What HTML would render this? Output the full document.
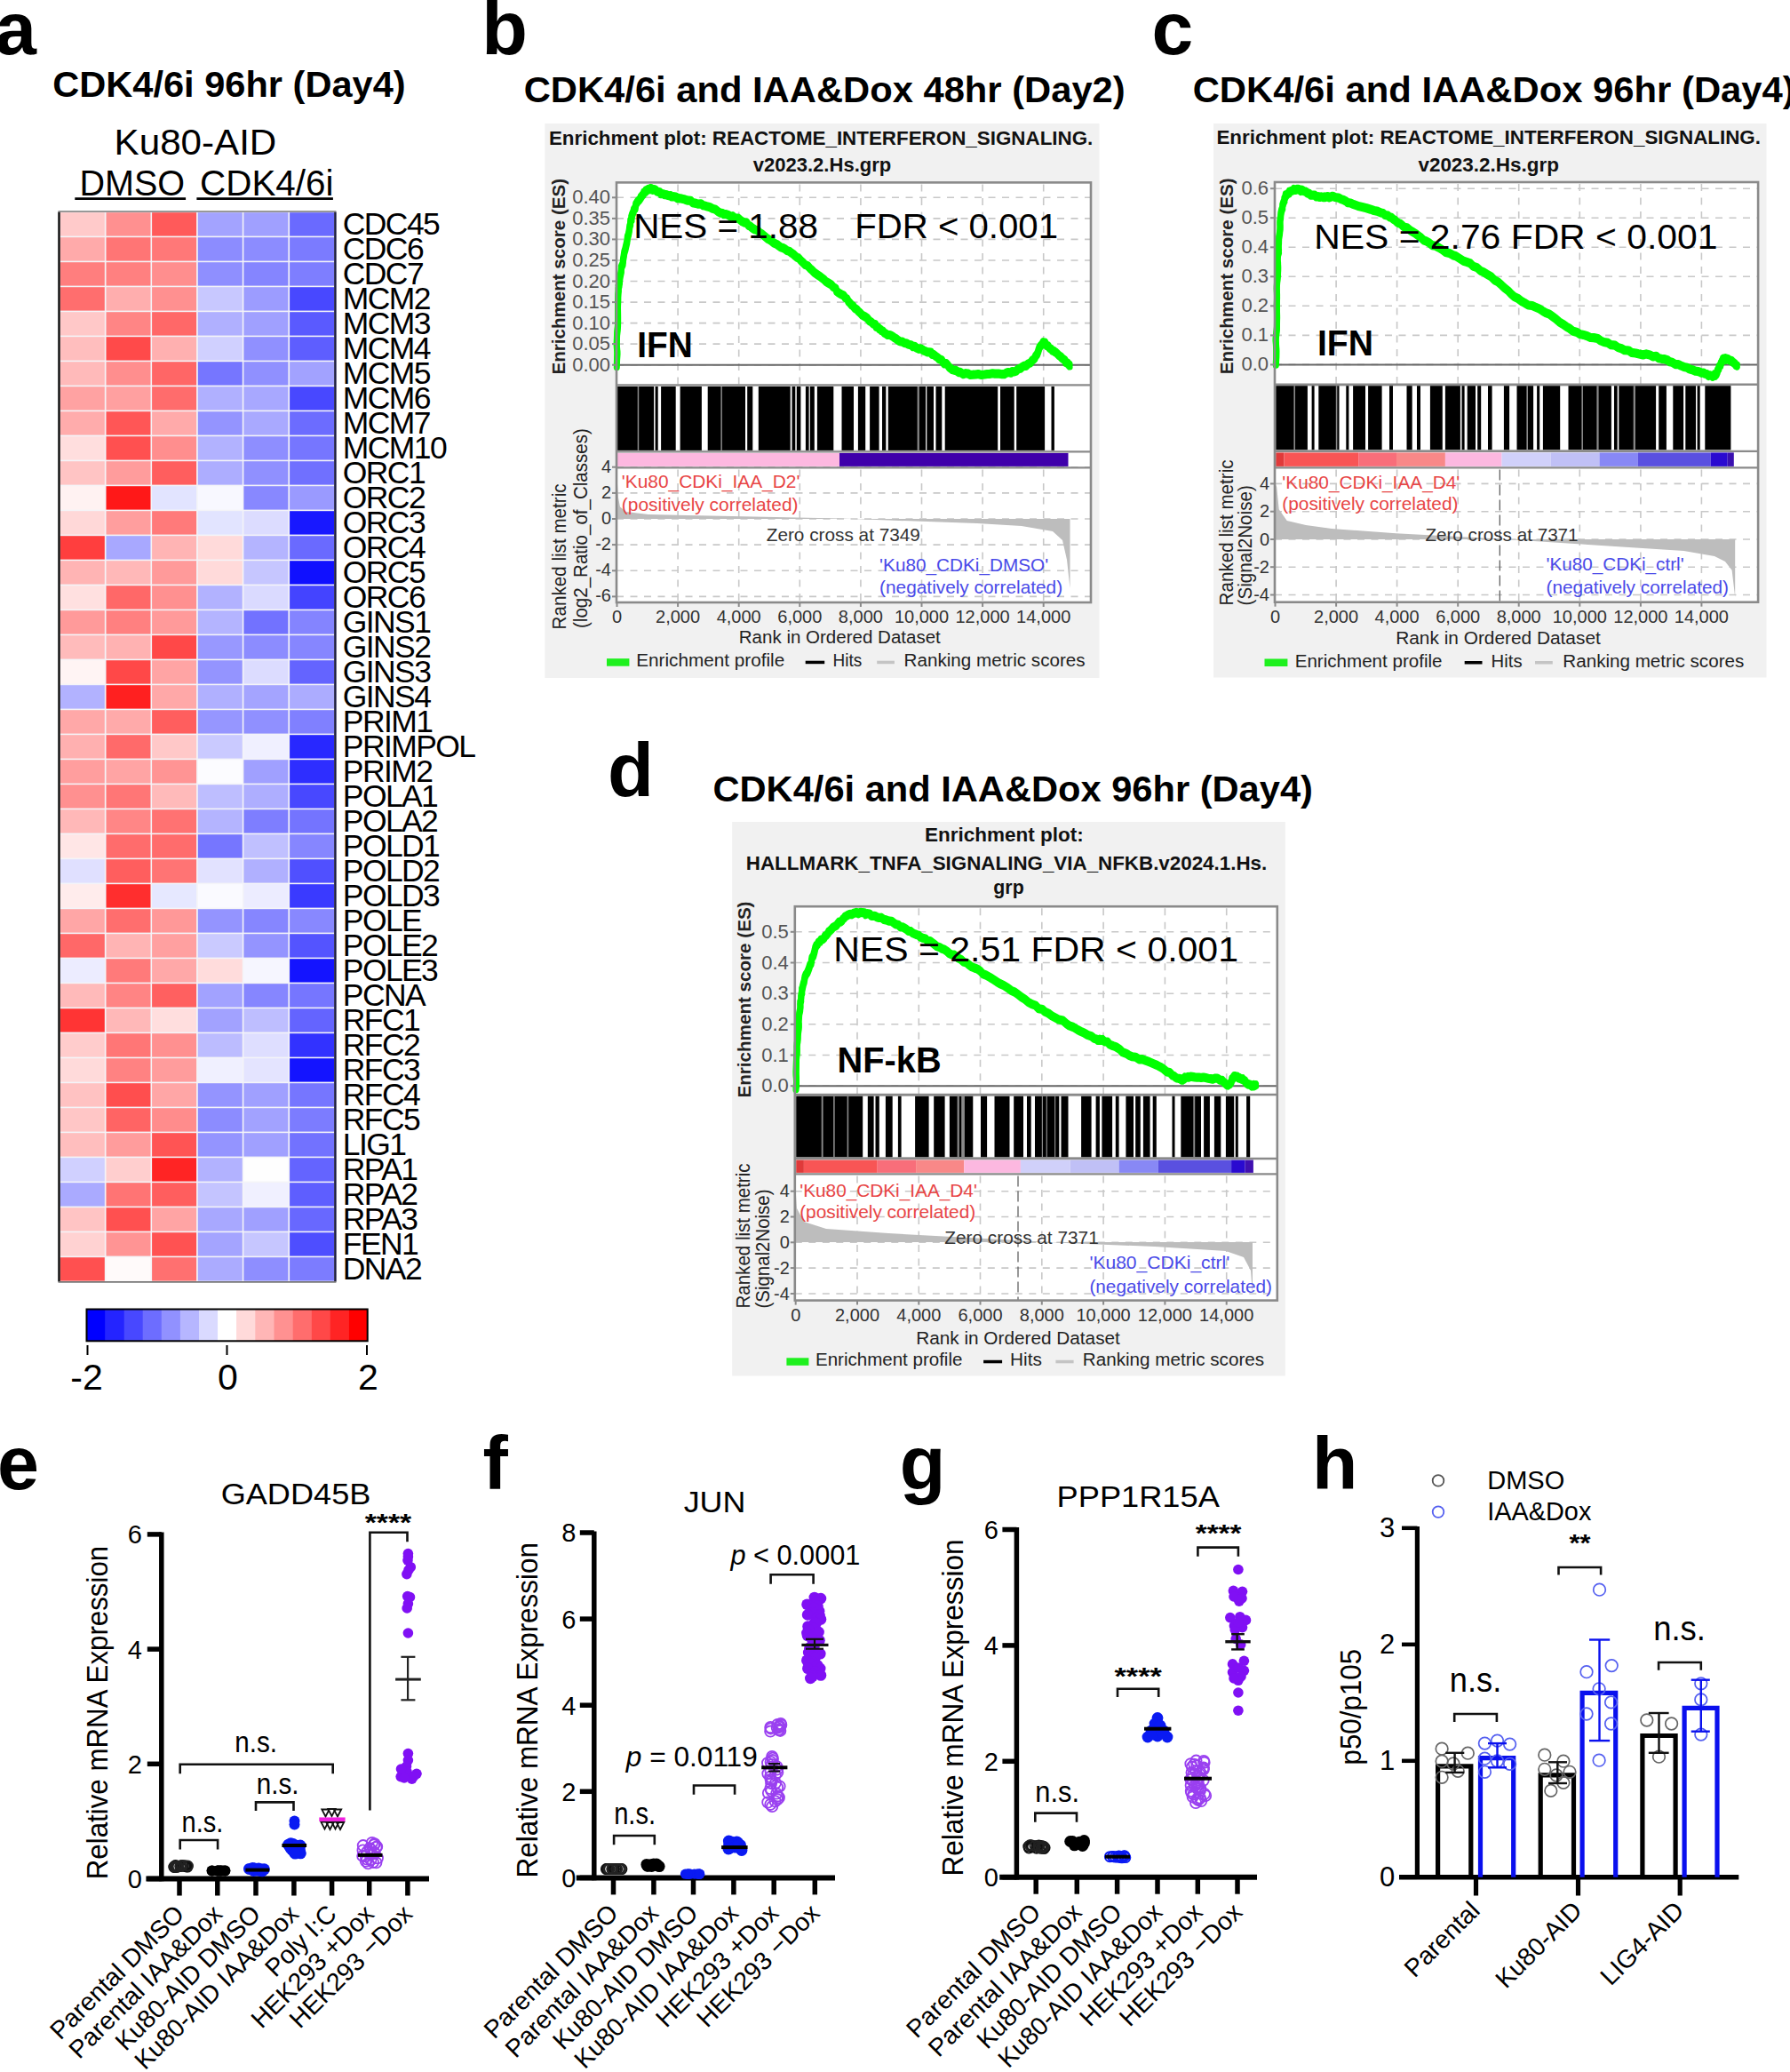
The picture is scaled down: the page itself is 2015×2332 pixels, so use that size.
<!DOCTYPE html>
<html><head><meta charset="utf-8"><title>Figure</title>
<style>html,body{margin:0;padding:0;background:#fff;} svg{display:block;}</style>
</head><body>
<svg width="2015" height="2332" viewBox="0 0 2015 2332" font-family="'Liberation Sans', sans-serif">
<rect width="2015" height="2332" fill="#FFFFFF"/>
<text x="-5.8" y="61.1" font-size="84" font-weight="bold">a</text>
<text x="59.3" y="108.7" font-size="41" font-weight="bold" textLength="397.3" lengthAdjust="spacingAndGlyphs">CDK4/6i 96hr (Day4)</text>
<text x="128.6" y="173.7" font-size="41.4" textLength="182.7" lengthAdjust="spacingAndGlyphs">Ku80-AID</text>
<text x="89.5" y="220.2" font-size="41.4" textLength="118.6" lengthAdjust="spacingAndGlyphs">DMSO</text>
<text x="225.1" y="220.2" font-size="41.4" textLength="150.4" lengthAdjust="spacingAndGlyphs">CDK4/6i</text>
<line x1="84.3" y1="223.6" x2="209.1" y2="223.6" stroke="#000" stroke-width="2.8" />
<line x1="221.4" y1="223.6" x2="374.9" y2="223.6" stroke="#000" stroke-width="2.8" />
<rect x="67.0" y="238.4" width="309.9" height="1204.0" fill="#F4F4F8" />
<rect x="67.8" y="239.2" width="50.0" height="26.4" fill="#FFCACA" />
<rect x="119.5" y="239.2" width="50.0" height="26.4" fill="#FF9090" />
<rect x="171.1" y="239.2" width="50.0" height="26.4" fill="#FF5A5A" />
<rect x="222.8" y="239.2" width="50.0" height="26.4" fill="#A3A3FF" />
<rect x="274.4" y="239.2" width="50.0" height="26.4" fill="#A0A0FF" />
<rect x="326.1" y="239.2" width="50.0" height="26.4" fill="#6A6AFF" />
<rect x="67.8" y="267.2" width="50.0" height="26.4" fill="#FFAAAA" />
<rect x="119.5" y="267.2" width="50.0" height="26.4" fill="#FF7575" />
<rect x="171.1" y="267.2" width="50.0" height="26.4" fill="#FF7878" />
<rect x="222.8" y="267.2" width="50.0" height="26.4" fill="#8C8CFF" />
<rect x="274.4" y="267.2" width="50.0" height="26.4" fill="#8C8CFF" />
<rect x="326.1" y="267.2" width="50.0" height="26.4" fill="#7B7BFF" />
<rect x="67.8" y="295.2" width="50.0" height="26.4" fill="#FF7E7E" />
<rect x="119.5" y="295.2" width="50.0" height="26.4" fill="#FF8080" />
<rect x="171.1" y="295.2" width="50.0" height="26.4" fill="#FF8E8E" />
<rect x="222.8" y="295.2" width="50.0" height="26.4" fill="#8F8FFF" />
<rect x="274.4" y="295.2" width="50.0" height="26.4" fill="#8585FF" />
<rect x="326.1" y="295.2" width="50.0" height="26.4" fill="#7E7EFF" />
<rect x="67.8" y="323.2" width="50.0" height="26.4" fill="#FF6E6E" />
<rect x="119.5" y="323.2" width="50.0" height="26.4" fill="#FFAEAE" />
<rect x="171.1" y="323.2" width="50.0" height="26.4" fill="#FF9090" />
<rect x="222.8" y="323.2" width="50.0" height="26.4" fill="#C8C8FF" />
<rect x="274.4" y="323.2" width="50.0" height="26.4" fill="#9C9CFF" />
<rect x="326.1" y="323.2" width="50.0" height="26.4" fill="#4848FF" />
<rect x="67.8" y="351.2" width="50.0" height="26.4" fill="#FFC8C8" />
<rect x="119.5" y="351.2" width="50.0" height="26.4" fill="#FF8585" />
<rect x="171.1" y="351.2" width="50.0" height="26.4" fill="#FF6868" />
<rect x="222.8" y="351.2" width="50.0" height="26.4" fill="#B0B0FF" />
<rect x="274.4" y="351.2" width="50.0" height="26.4" fill="#A0A0FF" />
<rect x="326.1" y="351.2" width="50.0" height="26.4" fill="#5A5AFF" />
<rect x="67.8" y="379.2" width="50.0" height="26.4" fill="#FFBEBE" />
<rect x="119.5" y="379.2" width="50.0" height="26.4" fill="#FF4A4A" />
<rect x="171.1" y="379.2" width="50.0" height="26.4" fill="#FFB0B0" />
<rect x="222.8" y="379.2" width="50.0" height="26.4" fill="#D0D0FF" />
<rect x="274.4" y="379.2" width="50.0" height="26.4" fill="#9090FF" />
<rect x="326.1" y="379.2" width="50.0" height="26.4" fill="#5E5EFF" />
<rect x="67.8" y="407.2" width="50.0" height="26.4" fill="#FFBABA" />
<rect x="119.5" y="407.2" width="50.0" height="26.4" fill="#FF8E8E" />
<rect x="171.1" y="407.2" width="50.0" height="26.4" fill="#FF6666" />
<rect x="222.8" y="407.2" width="50.0" height="26.4" fill="#7676FF" />
<rect x="274.4" y="407.2" width="50.0" height="26.4" fill="#9090FF" />
<rect x="326.1" y="407.2" width="50.0" height="26.4" fill="#A2A2FF" />
<rect x="67.8" y="435.2" width="50.0" height="26.4" fill="#FFA2A2" />
<rect x="119.5" y="435.2" width="50.0" height="26.4" fill="#FFA0A0" />
<rect x="171.1" y="435.2" width="50.0" height="26.4" fill="#FF6C6C" />
<rect x="222.8" y="435.2" width="50.0" height="26.4" fill="#B0B0FF" />
<rect x="274.4" y="435.2" width="50.0" height="26.4" fill="#A8A8FF" />
<rect x="326.1" y="435.2" width="50.0" height="26.4" fill="#4848FF" />
<rect x="67.8" y="463.2" width="50.0" height="26.4" fill="#FFACAC" />
<rect x="119.5" y="463.2" width="50.0" height="26.4" fill="#FF5656" />
<rect x="171.1" y="463.2" width="50.0" height="26.4" fill="#FFAAAA" />
<rect x="222.8" y="463.2" width="50.0" height="26.4" fill="#9494FF" />
<rect x="274.4" y="463.2" width="50.0" height="26.4" fill="#A9A9FF" />
<rect x="326.1" y="463.2" width="50.0" height="26.4" fill="#6C6CFF" />
<rect x="67.8" y="491.2" width="50.0" height="26.4" fill="#FFDEDE" />
<rect x="119.5" y="491.2" width="50.0" height="26.4" fill="#FF5050" />
<rect x="171.1" y="491.2" width="50.0" height="26.4" fill="#FF8E8E" />
<rect x="222.8" y="491.2" width="50.0" height="26.4" fill="#B2B2FF" />
<rect x="274.4" y="491.2" width="50.0" height="26.4" fill="#8E8EFF" />
<rect x="326.1" y="491.2" width="50.0" height="26.4" fill="#7676FF" />
<rect x="67.8" y="519.2" width="50.0" height="26.4" fill="#FFC4C4" />
<rect x="119.5" y="519.2" width="50.0" height="26.4" fill="#FF9C9C" />
<rect x="171.1" y="519.2" width="50.0" height="26.4" fill="#FF5E5E" />
<rect x="222.8" y="519.2" width="50.0" height="26.4" fill="#ADADFF" />
<rect x="274.4" y="519.2" width="50.0" height="26.4" fill="#9090FF" />
<rect x="326.1" y="519.2" width="50.0" height="26.4" fill="#7070FF" />
<rect x="67.8" y="547.2" width="50.0" height="26.4" fill="#FFF2F2" />
<rect x="119.5" y="547.2" width="50.0" height="26.4" fill="#FF1818" />
<rect x="171.1" y="547.2" width="50.0" height="26.4" fill="#E2E4FF" />
<rect x="222.8" y="547.2" width="50.0" height="26.4" fill="#F8F8FF" />
<rect x="274.4" y="547.2" width="50.0" height="26.4" fill="#8888FF" />
<rect x="326.1" y="547.2" width="50.0" height="26.4" fill="#9A9AFF" />
<rect x="67.8" y="575.2" width="50.0" height="26.4" fill="#FFD8D8" />
<rect x="119.5" y="575.2" width="50.0" height="26.4" fill="#FF9E9E" />
<rect x="171.1" y="575.2" width="50.0" height="26.4" fill="#FF7A7A" />
<rect x="222.8" y="575.2" width="50.0" height="26.4" fill="#E2E4FF" />
<rect x="274.4" y="575.2" width="50.0" height="26.4" fill="#DCDCFF" />
<rect x="326.1" y="575.2" width="50.0" height="26.4" fill="#1818FF" />
<rect x="67.8" y="603.2" width="50.0" height="26.4" fill="#FF3E3E" />
<rect x="119.5" y="603.2" width="50.0" height="26.4" fill="#A8A8FF" />
<rect x="171.1" y="603.2" width="50.0" height="26.4" fill="#FFB4B4" />
<rect x="222.8" y="603.2" width="50.0" height="26.4" fill="#FFDADA" />
<rect x="274.4" y="603.2" width="50.0" height="26.4" fill="#B4B4FF" />
<rect x="326.1" y="603.2" width="50.0" height="26.4" fill="#6A6AFF" />
<rect x="67.8" y="631.2" width="50.0" height="26.4" fill="#FFB4B4" />
<rect x="119.5" y="631.2" width="50.0" height="26.4" fill="#FFB8B8" />
<rect x="171.1" y="631.2" width="50.0" height="26.4" fill="#FF9A9A" />
<rect x="222.8" y="631.2" width="50.0" height="26.4" fill="#FFDADA" />
<rect x="274.4" y="631.2" width="50.0" height="26.4" fill="#C6C6FF" />
<rect x="326.1" y="631.2" width="50.0" height="26.4" fill="#1010FF" />
<rect x="67.8" y="659.2" width="50.0" height="26.4" fill="#FFE0E0" />
<rect x="119.5" y="659.2" width="50.0" height="26.4" fill="#FF6868" />
<rect x="171.1" y="659.2" width="50.0" height="26.4" fill="#FF9090" />
<rect x="222.8" y="659.2" width="50.0" height="26.4" fill="#B2B2FF" />
<rect x="274.4" y="659.2" width="50.0" height="26.4" fill="#DADAFF" />
<rect x="326.1" y="659.2" width="50.0" height="26.4" fill="#4444FF" />
<rect x="67.8" y="687.2" width="50.0" height="26.4" fill="#FF9A9A" />
<rect x="119.5" y="687.2" width="50.0" height="26.4" fill="#FF8080" />
<rect x="171.1" y="687.2" width="50.0" height="26.4" fill="#FF9A9A" />
<rect x="222.8" y="687.2" width="50.0" height="26.4" fill="#B4B4FF" />
<rect x="274.4" y="687.2" width="50.0" height="26.4" fill="#7272FF" />
<rect x="326.1" y="687.2" width="50.0" height="26.4" fill="#8484FF" />
<rect x="67.8" y="715.2" width="50.0" height="26.4" fill="#FFBBBB" />
<rect x="119.5" y="715.2" width="50.0" height="26.4" fill="#FFB2B2" />
<rect x="171.1" y="715.2" width="50.0" height="26.4" fill="#FF4848" />
<rect x="222.8" y="715.2" width="50.0" height="26.4" fill="#9898FF" />
<rect x="274.4" y="715.2" width="50.0" height="26.4" fill="#8C8CFF" />
<rect x="326.1" y="715.2" width="50.0" height="26.4" fill="#8686FF" />
<rect x="67.8" y="743.2" width="50.0" height="26.4" fill="#FFF4F4" />
<rect x="119.5" y="743.2" width="50.0" height="26.4" fill="#FF4848" />
<rect x="171.1" y="743.2" width="50.0" height="26.4" fill="#FFA4A4" />
<rect x="222.8" y="743.2" width="50.0" height="26.4" fill="#9494FF" />
<rect x="274.4" y="743.2" width="50.0" height="26.4" fill="#DCDCFF" />
<rect x="326.1" y="743.2" width="50.0" height="26.4" fill="#6464FF" />
<rect x="67.8" y="771.2" width="50.0" height="26.4" fill="#B2B2FF" />
<rect x="119.5" y="771.2" width="50.0" height="26.4" fill="#FF2020" />
<rect x="171.1" y="771.2" width="50.0" height="26.4" fill="#FFA8A8" />
<rect x="222.8" y="771.2" width="50.0" height="26.4" fill="#B0B0FF" />
<rect x="274.4" y="771.2" width="50.0" height="26.4" fill="#A4A4FF" />
<rect x="326.1" y="771.2" width="50.0" height="26.4" fill="#ACACFF" />
<rect x="67.8" y="799.2" width="50.0" height="26.4" fill="#FFA8A8" />
<rect x="119.5" y="799.2" width="50.0" height="26.4" fill="#FFAAAA" />
<rect x="171.1" y="799.2" width="50.0" height="26.4" fill="#FF5E5E" />
<rect x="222.8" y="799.2" width="50.0" height="26.4" fill="#9696FF" />
<rect x="274.4" y="799.2" width="50.0" height="26.4" fill="#9090FF" />
<rect x="326.1" y="799.2" width="50.0" height="26.4" fill="#8080FF" />
<rect x="67.8" y="827.2" width="50.0" height="26.4" fill="#FFB0B0" />
<rect x="119.5" y="827.2" width="50.0" height="26.4" fill="#FF6A6A" />
<rect x="171.1" y="827.2" width="50.0" height="26.4" fill="#FFC8C8" />
<rect x="222.8" y="827.2" width="50.0" height="26.4" fill="#CACAFF" />
<rect x="274.4" y="827.2" width="50.0" height="26.4" fill="#F0F0FF" />
<rect x="326.1" y="827.2" width="50.0" height="26.4" fill="#2828FF" />
<rect x="67.8" y="855.2" width="50.0" height="26.4" fill="#FF9E9E" />
<rect x="119.5" y="855.2" width="50.0" height="26.4" fill="#FFA4A4" />
<rect x="171.1" y="855.2" width="50.0" height="26.4" fill="#FF9494" />
<rect x="222.8" y="855.2" width="50.0" height="26.4" fill="#FCFCFF" />
<rect x="274.4" y="855.2" width="50.0" height="26.4" fill="#A0A0FF" />
<rect x="326.1" y="855.2" width="50.0" height="26.4" fill="#2E2EFF" />
<rect x="67.8" y="883.2" width="50.0" height="26.4" fill="#FF9090" />
<rect x="119.5" y="883.2" width="50.0" height="26.4" fill="#FF7676" />
<rect x="171.1" y="883.2" width="50.0" height="26.4" fill="#FFBABA" />
<rect x="222.8" y="883.2" width="50.0" height="26.4" fill="#BEBEFF" />
<rect x="274.4" y="883.2" width="50.0" height="26.4" fill="#AEAEFF" />
<rect x="326.1" y="883.2" width="50.0" height="26.4" fill="#4848FF" />
<rect x="67.8" y="911.2" width="50.0" height="26.4" fill="#FFB8B8" />
<rect x="119.5" y="911.2" width="50.0" height="26.4" fill="#FF8686" />
<rect x="171.1" y="911.2" width="50.0" height="26.4" fill="#FF7272" />
<rect x="222.8" y="911.2" width="50.0" height="26.4" fill="#B4B4FF" />
<rect x="274.4" y="911.2" width="50.0" height="26.4" fill="#7E7EFF" />
<rect x="326.1" y="911.2" width="50.0" height="26.4" fill="#7474FF" />
<rect x="67.8" y="939.2" width="50.0" height="26.4" fill="#FFE6E6" />
<rect x="119.5" y="939.2" width="50.0" height="26.4" fill="#FF6C6C" />
<rect x="171.1" y="939.2" width="50.0" height="26.4" fill="#FF6C6C" />
<rect x="222.8" y="939.2" width="50.0" height="26.4" fill="#7676FF" />
<rect x="274.4" y="939.2" width="50.0" height="26.4" fill="#C0C0FF" />
<rect x="326.1" y="939.2" width="50.0" height="26.4" fill="#8686FF" />
<rect x="67.8" y="967.2" width="50.0" height="26.4" fill="#E0E0FF" />
<rect x="119.5" y="967.2" width="50.0" height="26.4" fill="#FF5E5E" />
<rect x="171.1" y="967.2" width="50.0" height="26.4" fill="#FF7474" />
<rect x="222.8" y="967.2" width="50.0" height="26.4" fill="#E2E2FF" />
<rect x="274.4" y="967.2" width="50.0" height="26.4" fill="#B0B0FF" />
<rect x="326.1" y="967.2" width="50.0" height="26.4" fill="#5050FF" />
<rect x="67.8" y="995.2" width="50.0" height="26.4" fill="#FFECEC" />
<rect x="119.5" y="995.2" width="50.0" height="26.4" fill="#FF2E2E" />
<rect x="171.1" y="995.2" width="50.0" height="26.4" fill="#E6E8FF" />
<rect x="222.8" y="995.2" width="50.0" height="26.4" fill="#FAFAFF" />
<rect x="274.4" y="995.2" width="50.0" height="26.4" fill="#ECECFF" />
<rect x="326.1" y="995.2" width="50.0" height="26.4" fill="#3A3AFF" />
<rect x="67.8" y="1023.2" width="50.0" height="26.4" fill="#FFA6A6" />
<rect x="119.5" y="1023.2" width="50.0" height="26.4" fill="#FF6E6E" />
<rect x="171.1" y="1023.2" width="50.0" height="26.4" fill="#FF9898" />
<rect x="222.8" y="1023.2" width="50.0" height="26.4" fill="#9494FF" />
<rect x="274.4" y="1023.2" width="50.0" height="26.4" fill="#8686FF" />
<rect x="326.1" y="1023.2" width="50.0" height="26.4" fill="#8888FF" />
<rect x="67.8" y="1051.2" width="50.0" height="26.4" fill="#FF6868" />
<rect x="119.5" y="1051.2" width="50.0" height="26.4" fill="#FFB4B4" />
<rect x="171.1" y="1051.2" width="50.0" height="26.4" fill="#FFA0A0" />
<rect x="222.8" y="1051.2" width="50.0" height="26.4" fill="#CACAFF" />
<rect x="274.4" y="1051.2" width="50.0" height="26.4" fill="#9494FF" />
<rect x="326.1" y="1051.2" width="50.0" height="26.4" fill="#5454FF" />
<rect x="67.8" y="1079.2" width="50.0" height="26.4" fill="#ECECFF" />
<rect x="119.5" y="1079.2" width="50.0" height="26.4" fill="#FF7A7A" />
<rect x="171.1" y="1079.2" width="50.0" height="26.4" fill="#FFA8A8" />
<rect x="222.8" y="1079.2" width="50.0" height="26.4" fill="#FFDCDC" />
<rect x="274.4" y="1079.2" width="50.0" height="26.4" fill="#F6F6FF" />
<rect x="326.1" y="1079.2" width="50.0" height="26.4" fill="#1414FF" />
<rect x="67.8" y="1107.2" width="50.0" height="26.4" fill="#FFBABA" />
<rect x="119.5" y="1107.2" width="50.0" height="26.4" fill="#FF8484" />
<rect x="171.1" y="1107.2" width="50.0" height="26.4" fill="#FF6060" />
<rect x="222.8" y="1107.2" width="50.0" height="26.4" fill="#A2A2FF" />
<rect x="274.4" y="1107.2" width="50.0" height="26.4" fill="#8686FF" />
<rect x="326.1" y="1107.2" width="50.0" height="26.4" fill="#7676FF" />
<rect x="67.8" y="1135.2" width="50.0" height="26.4" fill="#FF3434" />
<rect x="119.5" y="1135.2" width="50.0" height="26.4" fill="#FFB8B8" />
<rect x="171.1" y="1135.2" width="50.0" height="26.4" fill="#FFDEDE" />
<rect x="222.8" y="1135.2" width="50.0" height="26.4" fill="#A2A2FF" />
<rect x="274.4" y="1135.2" width="50.0" height="26.4" fill="#BEBEFF" />
<rect x="326.1" y="1135.2" width="50.0" height="26.4" fill="#6464FF" />
<rect x="67.8" y="1163.2" width="50.0" height="26.4" fill="#FFCCCC" />
<rect x="119.5" y="1163.2" width="50.0" height="26.4" fill="#FF7676" />
<rect x="171.1" y="1163.2" width="50.0" height="26.4" fill="#FF9090" />
<rect x="222.8" y="1163.2" width="50.0" height="26.4" fill="#BCBCFF" />
<rect x="274.4" y="1163.2" width="50.0" height="26.4" fill="#DEDEFF" />
<rect x="326.1" y="1163.2" width="50.0" height="26.4" fill="#3232FF" />
<rect x="67.8" y="1191.2" width="50.0" height="26.4" fill="#FFDADA" />
<rect x="119.5" y="1191.2" width="50.0" height="26.4" fill="#FF8282" />
<rect x="171.1" y="1191.2" width="50.0" height="26.4" fill="#FF9C9C" />
<rect x="222.8" y="1191.2" width="50.0" height="26.4" fill="#F0F0FF" />
<rect x="274.4" y="1191.2" width="50.0" height="26.4" fill="#E4E4FF" />
<rect x="326.1" y="1191.2" width="50.0" height="26.4" fill="#1414FF" />
<rect x="67.8" y="1219.2" width="50.0" height="26.4" fill="#FFC2C2" />
<rect x="119.5" y="1219.2" width="50.0" height="26.4" fill="#FF4E4E" />
<rect x="171.1" y="1219.2" width="50.0" height="26.4" fill="#FFA6A6" />
<rect x="222.8" y="1219.2" width="50.0" height="26.4" fill="#9494FF" />
<rect x="274.4" y="1219.2" width="50.0" height="26.4" fill="#A0A0FF" />
<rect x="326.1" y="1219.2" width="50.0" height="26.4" fill="#7676FF" />
<rect x="67.8" y="1247.2" width="50.0" height="26.4" fill="#FFC6C6" />
<rect x="119.5" y="1247.2" width="50.0" height="26.4" fill="#FF6464" />
<rect x="171.1" y="1247.2" width="50.0" height="26.4" fill="#FF8C8C" />
<rect x="222.8" y="1247.2" width="50.0" height="26.4" fill="#8C8CFF" />
<rect x="274.4" y="1247.2" width="50.0" height="26.4" fill="#A2A2FF" />
<rect x="326.1" y="1247.2" width="50.0" height="26.4" fill="#7C7CFF" />
<rect x="67.8" y="1275.2" width="50.0" height="26.4" fill="#FFBEBE" />
<rect x="119.5" y="1275.2" width="50.0" height="26.4" fill="#FF9C9C" />
<rect x="171.1" y="1275.2" width="50.0" height="26.4" fill="#FF5454" />
<rect x="222.8" y="1275.2" width="50.0" height="26.4" fill="#9494FF" />
<rect x="274.4" y="1275.2" width="50.0" height="26.4" fill="#A0A0FF" />
<rect x="326.1" y="1275.2" width="50.0" height="26.4" fill="#7272FF" />
<rect x="67.8" y="1303.2" width="50.0" height="26.4" fill="#D0D0FF" />
<rect x="119.5" y="1303.2" width="50.0" height="26.4" fill="#FFCECE" />
<rect x="171.1" y="1303.2" width="50.0" height="26.4" fill="#FF2424" />
<rect x="222.8" y="1303.2" width="50.0" height="26.4" fill="#B2B2FF" />
<rect x="274.4" y="1303.2" width="50.0" height="26.4" fill="#FEFEFE" />
<rect x="326.1" y="1303.2" width="50.0" height="26.4" fill="#6464FF" />
<rect x="67.8" y="1331.2" width="50.0" height="26.4" fill="#AAAAFF" />
<rect x="119.5" y="1331.2" width="50.0" height="26.4" fill="#FF7474" />
<rect x="171.1" y="1331.2" width="50.0" height="26.4" fill="#FF5E5E" />
<rect x="222.8" y="1331.2" width="50.0" height="26.4" fill="#C4C4FF" />
<rect x="274.4" y="1331.2" width="50.0" height="26.4" fill="#F0F0FF" />
<rect x="326.1" y="1331.2" width="50.0" height="26.4" fill="#5E5EFF" />
<rect x="67.8" y="1359.2" width="50.0" height="26.4" fill="#FFC4C4" />
<rect x="119.5" y="1359.2" width="50.0" height="26.4" fill="#FF5050" />
<rect x="171.1" y="1359.2" width="50.0" height="26.4" fill="#FFA4A4" />
<rect x="222.8" y="1359.2" width="50.0" height="26.4" fill="#A8A8FF" />
<rect x="274.4" y="1359.2" width="50.0" height="26.4" fill="#A0A0FF" />
<rect x="326.1" y="1359.2" width="50.0" height="26.4" fill="#6868FF" />
<rect x="67.8" y="1387.2" width="50.0" height="26.4" fill="#FFD2D2" />
<rect x="119.5" y="1387.2" width="50.0" height="26.4" fill="#FF9494" />
<rect x="171.1" y="1387.2" width="50.0" height="26.4" fill="#FF5252" />
<rect x="222.8" y="1387.2" width="50.0" height="26.4" fill="#A4A4FF" />
<rect x="274.4" y="1387.2" width="50.0" height="26.4" fill="#C6C6FF" />
<rect x="326.1" y="1387.2" width="50.0" height="26.4" fill="#4E4EFF" />
<rect x="67.8" y="1415.2" width="50.0" height="26.4" fill="#FF5050" />
<rect x="119.5" y="1415.2" width="50.0" height="26.4" fill="#FFFAFA" />
<rect x="171.1" y="1415.2" width="50.0" height="26.4" fill="#FF7070" />
<rect x="222.8" y="1415.2" width="50.0" height="26.4" fill="#ABABFF" />
<rect x="274.4" y="1415.2" width="50.0" height="26.4" fill="#8E8EFF" />
<rect x="326.1" y="1415.2" width="50.0" height="26.4" fill="#7C7CFF" />
<line x1="66.5" y1="238.4" x2="66.5" y2="1442.4" stroke="#111" stroke-width="2.5" />
<line x1="377.4" y1="238.4" x2="377.4" y2="1442.4" stroke="#1a1a40" stroke-width="2.5" />
<line x1="65.5" y1="237.9" x2="378.4" y2="237.9" stroke="#777" stroke-width="1.5" />
<line x1="65.5" y1="1442.9" x2="378.4" y2="1442.9" stroke="#777" stroke-width="1.8" />
<text x="385.8" y="263.7" font-size="35.5" style="letter-spacing:-1.6px">CDC45</text>
<text x="385.8" y="291.7" font-size="35.5" style="letter-spacing:-1.6px">CDC6</text>
<text x="385.8" y="319.7" font-size="35.5" style="letter-spacing:-1.6px">CDC7</text>
<text x="385.8" y="347.7" font-size="35.5" style="letter-spacing:-1.6px">MCM2</text>
<text x="385.8" y="375.7" font-size="35.5" style="letter-spacing:-1.6px">MCM3</text>
<text x="385.8" y="403.7" font-size="35.5" style="letter-spacing:-1.6px">MCM4</text>
<text x="385.8" y="431.7" font-size="35.5" style="letter-spacing:-1.6px">MCM5</text>
<text x="385.8" y="459.7" font-size="35.5" style="letter-spacing:-1.6px">MCM6</text>
<text x="385.8" y="487.7" font-size="35.5" style="letter-spacing:-1.6px">MCM7</text>
<text x="385.8" y="515.7" font-size="35.5" style="letter-spacing:-1.6px">MCM10</text>
<text x="385.8" y="543.7" font-size="35.5" style="letter-spacing:-1.6px">ORC1</text>
<text x="385.8" y="571.7" font-size="35.5" style="letter-spacing:-1.6px">ORC2</text>
<text x="385.8" y="599.7" font-size="35.5" style="letter-spacing:-1.6px">ORC3</text>
<text x="385.8" y="627.7" font-size="35.5" style="letter-spacing:-1.6px">ORC4</text>
<text x="385.8" y="655.7" font-size="35.5" style="letter-spacing:-1.6px">ORC5</text>
<text x="385.8" y="683.7" font-size="35.5" style="letter-spacing:-1.6px">ORC6</text>
<text x="385.8" y="711.7" font-size="35.5" style="letter-spacing:-1.6px">GINS1</text>
<text x="385.8" y="739.7" font-size="35.5" style="letter-spacing:-1.6px">GINS2</text>
<text x="385.8" y="767.7" font-size="35.5" style="letter-spacing:-1.6px">GINS3</text>
<text x="385.8" y="795.7" font-size="35.5" style="letter-spacing:-1.6px">GINS4</text>
<text x="385.8" y="823.7" font-size="35.5" style="letter-spacing:-1.6px">PRIM1</text>
<text x="385.8" y="851.7" font-size="35.5" style="letter-spacing:-1.6px">PRIMPOL</text>
<text x="385.8" y="879.7" font-size="35.5" style="letter-spacing:-1.6px">PRIM2</text>
<text x="385.8" y="907.7" font-size="35.5" style="letter-spacing:-1.6px">POLA1</text>
<text x="385.8" y="935.7" font-size="35.5" style="letter-spacing:-1.6px">POLA2</text>
<text x="385.8" y="963.7" font-size="35.5" style="letter-spacing:-1.6px">POLD1</text>
<text x="385.8" y="991.7" font-size="35.5" style="letter-spacing:-1.6px">POLD2</text>
<text x="385.8" y="1019.7" font-size="35.5" style="letter-spacing:-1.6px">POLD3</text>
<text x="385.8" y="1047.7" font-size="35.5" style="letter-spacing:-1.6px">POLE</text>
<text x="385.8" y="1075.7" font-size="35.5" style="letter-spacing:-1.6px">POLE2</text>
<text x="385.8" y="1103.7" font-size="35.5" style="letter-spacing:-1.6px">POLE3</text>
<text x="385.8" y="1131.7" font-size="35.5" style="letter-spacing:-1.6px">PCNA</text>
<text x="385.8" y="1159.7" font-size="35.5" style="letter-spacing:-1.6px">RFC1</text>
<text x="385.8" y="1187.7" font-size="35.5" style="letter-spacing:-1.6px">RFC2</text>
<text x="385.8" y="1215.7" font-size="35.5" style="letter-spacing:-1.6px">RFC3</text>
<text x="385.8" y="1243.7" font-size="35.5" style="letter-spacing:-1.6px">RFC4</text>
<text x="385.8" y="1271.7" font-size="35.5" style="letter-spacing:-1.6px">RFC5</text>
<text x="385.8" y="1299.7" font-size="35.5" style="letter-spacing:-1.6px">LIG1</text>
<text x="385.8" y="1327.7" font-size="35.5" style="letter-spacing:-1.6px">RPA1</text>
<text x="385.8" y="1355.7" font-size="35.5" style="letter-spacing:-1.6px">RPA2</text>
<text x="385.8" y="1383.7" font-size="35.5" style="letter-spacing:-1.6px">RPA3</text>
<text x="385.8" y="1411.7" font-size="35.5" style="letter-spacing:-1.6px">FEN1</text>
<text x="385.8" y="1439.7" font-size="35.5" style="letter-spacing:-1.6px">DNA2</text>
<rect x="97.5" y="1473.5" width="21.4" height="35.8" fill="#0000FF" />
<rect x="118.6" y="1473.5" width="21.4" height="35.8" fill="#2424FF" />
<rect x="139.7" y="1473.5" width="21.4" height="35.8" fill="#4848FF" />
<rect x="160.7" y="1473.5" width="21.4" height="35.8" fill="#6D6DFF" />
<rect x="181.8" y="1473.5" width="21.4" height="35.8" fill="#9191FF" />
<rect x="202.9" y="1473.5" width="21.4" height="35.8" fill="#B6B6FF" />
<rect x="224.0" y="1473.5" width="21.4" height="35.8" fill="#DADAFF" />
<rect x="245.1" y="1473.5" width="21.4" height="35.8" fill="#FFFFFF" />
<rect x="266.1" y="1473.5" width="21.4" height="35.8" fill="#FFDADA" />
<rect x="287.2" y="1473.5" width="21.4" height="35.8" fill="#FFB6B6" />
<rect x="308.3" y="1473.5" width="21.4" height="35.8" fill="#FF9191" />
<rect x="329.4" y="1473.5" width="21.4" height="35.8" fill="#FF6D6D" />
<rect x="350.5" y="1473.5" width="21.4" height="35.8" fill="#FF4848" />
<rect x="371.5" y="1473.5" width="21.4" height="35.8" fill="#FF2424" />
<rect x="392.6" y="1473.5" width="21.4" height="35.8" fill="#FF0000" />
<rect x="97.5" y="1473.5" width="316.2" height="35.8" fill="none" stroke="#000" stroke-width="2"/>
<line x1="98.5" y1="1514.0" x2="98.5" y2="1525.0" stroke="#000" stroke-width="2" />
<line x1="255.5" y1="1514.0" x2="255.5" y2="1525.0" stroke="#000" stroke-width="2" />
<line x1="413.0" y1="1514.0" x2="413.0" y2="1525.0" stroke="#000" stroke-width="2" />
<text x="97.5" y="1563.5" font-size="41" text-anchor="middle">-2</text>
<text x="256.5" y="1563.5" font-size="41" text-anchor="middle">0</text>
<text x="414.5" y="1563.5" font-size="41" text-anchor="middle">2</text>
<rect x="613.4" y="139.0" width="624.1" height="624.0" fill="#F1F1F1" />
<text x="617.9" y="162.5" font-size="22.5" font-weight="bold" text-anchor="start" fill="#111" textLength="612.4" lengthAdjust="spacingAndGlyphs">Enrichment plot: REACTOME_INTERFERON_SIGNALING.</text>
<text x="925.5" y="192.6" font-size="22.5" font-weight="bold" text-anchor="middle" fill="#111" textLength="155.5" lengthAdjust="spacingAndGlyphs">v2023.2.Hs.grp</text>
<rect x="694.0" y="205.4" width="534.0" height="472.6" fill="#FFFFFF" />
<line x1="763.1" y1="207.4" x2="763.1" y2="433.4" stroke="#C8C8C8" stroke-width="1.6" stroke-dasharray="8,7.5"/>
<line x1="763.1" y1="528.4" x2="763.1" y2="678.0" stroke="#C8C8C8" stroke-width="1.6" stroke-dasharray="8,7.5"/>
<line x1="831.7" y1="207.4" x2="831.7" y2="433.4" stroke="#C8C8C8" stroke-width="1.6" stroke-dasharray="8,7.5"/>
<line x1="831.7" y1="528.4" x2="831.7" y2="678.0" stroke="#C8C8C8" stroke-width="1.6" stroke-dasharray="8,7.5"/>
<line x1="900.3" y1="207.4" x2="900.3" y2="433.4" stroke="#C8C8C8" stroke-width="1.6" stroke-dasharray="8,7.5"/>
<line x1="900.3" y1="528.4" x2="900.3" y2="678.0" stroke="#C8C8C8" stroke-width="1.6" stroke-dasharray="8,7.5"/>
<line x1="968.9" y1="207.4" x2="968.9" y2="433.4" stroke="#C8C8C8" stroke-width="1.6" stroke-dasharray="8,7.5"/>
<line x1="968.9" y1="528.4" x2="968.9" y2="678.0" stroke="#C8C8C8" stroke-width="1.6" stroke-dasharray="8,7.5"/>
<line x1="1037.5" y1="207.4" x2="1037.5" y2="433.4" stroke="#C8C8C8" stroke-width="1.6" stroke-dasharray="8,7.5"/>
<line x1="1037.5" y1="528.4" x2="1037.5" y2="678.0" stroke="#C8C8C8" stroke-width="1.6" stroke-dasharray="8,7.5"/>
<line x1="1106.1" y1="207.4" x2="1106.1" y2="433.4" stroke="#C8C8C8" stroke-width="1.6" stroke-dasharray="8,7.5"/>
<line x1="1106.1" y1="528.4" x2="1106.1" y2="678.0" stroke="#C8C8C8" stroke-width="1.6" stroke-dasharray="8,7.5"/>
<line x1="1174.7" y1="207.4" x2="1174.7" y2="433.4" stroke="#C8C8C8" stroke-width="1.6" stroke-dasharray="8,7.5"/>
<line x1="1174.7" y1="528.4" x2="1174.7" y2="678.0" stroke="#C8C8C8" stroke-width="1.6" stroke-dasharray="8,7.5"/>
<line x1="694.0" y1="222.3" x2="1228.0" y2="222.3" stroke="#C8C8C8" stroke-width="1.6" stroke-dasharray="8,7.5"/>
<line x1="694.0" y1="245.9" x2="1228.0" y2="245.9" stroke="#C8C8C8" stroke-width="1.6" stroke-dasharray="8,7.5"/>
<line x1="694.0" y1="269.4" x2="1228.0" y2="269.4" stroke="#C8C8C8" stroke-width="1.6" stroke-dasharray="8,7.5"/>
<line x1="694.0" y1="293.0" x2="1228.0" y2="293.0" stroke="#C8C8C8" stroke-width="1.6" stroke-dasharray="8,7.5"/>
<line x1="694.0" y1="316.5" x2="1228.0" y2="316.5" stroke="#C8C8C8" stroke-width="1.6" stroke-dasharray="8,7.5"/>
<line x1="694.0" y1="340.1" x2="1228.0" y2="340.1" stroke="#C8C8C8" stroke-width="1.6" stroke-dasharray="8,7.5"/>
<line x1="694.0" y1="363.6" x2="1228.0" y2="363.6" stroke="#C8C8C8" stroke-width="1.6" stroke-dasharray="8,7.5"/>
<line x1="694.0" y1="387.1" x2="1228.0" y2="387.1" stroke="#C8C8C8" stroke-width="1.6" stroke-dasharray="8,7.5"/>
<line x1="694.0" y1="410.7" x2="1228.0" y2="410.7" stroke="#C8C8C8" stroke-width="1.6" stroke-dasharray="8,7.5"/>
<line x1="694.0" y1="525.7" x2="1228.0" y2="525.7" stroke="#C8C8C8" stroke-width="1.6" stroke-dasharray="8,7.5"/>
<line x1="694.0" y1="554.9" x2="1228.0" y2="554.9" stroke="#C8C8C8" stroke-width="1.6" stroke-dasharray="8,7.5"/>
<line x1="694.0" y1="584.0" x2="1228.0" y2="584.0" stroke="#C8C8C8" stroke-width="1.6" stroke-dasharray="8,7.5"/>
<line x1="694.0" y1="613.1" x2="1228.0" y2="613.1" stroke="#C8C8C8" stroke-width="1.6" stroke-dasharray="8,7.5"/>
<line x1="694.0" y1="642.3" x2="1228.0" y2="642.3" stroke="#C8C8C8" stroke-width="1.6" stroke-dasharray="8,7.5"/>
<line x1="694.0" y1="671.4" x2="1228.0" y2="671.4" stroke="#C8C8C8" stroke-width="1.6" stroke-dasharray="8,7.5"/>
<line x1="694.0" y1="410.7" x2="1228.0" y2="410.7" stroke="#666" stroke-width="2" />
<path d="M694.5,584.0 L694.5,537.0 L696.0,560.0 L698.0,570.4 L705.0,576.0 L730.0,579.0 L800.0,580.5 L946.0,583.5 L1000.0,585.5 L1100.0,589.0 L1150.0,592.0 L1185.0,598.0 L1196.0,608.0 L1201.0,630.0 L1204.5,662.0 L1204.5,584.0" stroke="none" stroke-width="0" fill="#BDBDBD" />
<rect x="694.6" y="434.9" width="492.3" height="72.0" fill="#000" />
<rect x="717.7" y="434.9" width="1.5" height="72.0" fill="#8A8A8A" />
<rect x="736.1" y="434.9" width="1.5" height="72.0" fill="#FFFFFF" />
<rect x="740.7" y="434.9" width="3.4" height="72.0" fill="#FFFFFF" />
<rect x="760.7" y="434.9" width="4.9" height="72.0" fill="#FFFFFF" />
<rect x="789.9" y="434.9" width="6.8" height="72.0" fill="#FFFFFF" />
<rect x="811.4" y="434.9" width="1.5" height="72.0" fill="#8A8A8A" />
<rect x="839.0" y="434.9" width="2.2" height="72.0" fill="#FFFFFF" />
<rect x="847.3" y="434.9" width="6.5" height="72.0" fill="#FFFFFF" />
<rect x="889.7" y="434.9" width="1.8" height="72.0" fill="#FFFFFF" />
<rect x="895.3" y="434.9" width="1.5" height="72.0" fill="#FFFFFF" />
<rect x="901.4" y="434.9" width="5.5" height="72.0" fill="#FFFFFF" />
<rect x="910.6" y="434.9" width="1.2" height="72.0" fill="#FFFFFF" />
<rect x="916.8" y="434.9" width="3.1" height="72.0" fill="#FFFFFF" />
<rect x="938.3" y="434.9" width="9.2" height="72.0" fill="#FFFFFF" />
<rect x="961.0" y="434.9" width="4.9" height="72.0" fill="#FFFFFF" />
<rect x="974.2" y="434.9" width="4.9" height="72.0" fill="#FFFFFF" />
<rect x="989.6" y="434.9" width="3.4" height="72.0" fill="#FFFFFF" />
<rect x="997.3" y="434.9" width="2.5" height="72.0" fill="#FFFFFF" />
<rect x="1032.6" y="434.9" width="2.2" height="72.0" fill="#8A8A8A" />
<rect x="1042.1" y="434.9" width="1.2" height="72.0" fill="#FFFFFF" />
<rect x="1051.0" y="434.9" width="2.5" height="72.0" fill="#FFFFFF" />
<rect x="1060.3" y="434.9" width="3.4" height="72.0" fill="#FFFFFF" />
<rect x="1123.2" y="434.9" width="2.8" height="72.0" fill="#FFFFFF" />
<rect x="1141.7" y="434.9" width="2.5" height="72.0" fill="#FFFFFF" />
<rect x="1176.1" y="434.9" width="7.4" height="72.0" fill="#FFFFFF" />
<rect x="694.6" y="509.9" width="250.4" height="15.0" fill="#FDB8E0" />
<rect x="945.0" y="509.9" width="257.5" height="15.0" fill="#3F00AA" />
<path d="M694.3,410.5 L694.5,404.6 L694.9,395.2 L694.2,386.6 L694.6,374.6 L695.6,363.9 L695.6,353.4 L695.5,343.4 L695.7,337.4 L695.7,331.8 L696.1,326.5 L696.4,324.4 L696.0,321.1 L697.0,319.8 L697.1,318.4 L697.5,316.0 L697.6,312.6 L698.2,309.1 L699.4,303.5 L699.3,299.5 L701.1,295.5 L701.5,290.8 L702.2,286.5 L702.8,282.6 L703.9,279.0 L704.8,275.0 L705.8,270.9 L706.4,265.3 L707.4,262.6 L708.3,258.0 L708.8,253.6 L709.7,250.8 L709.7,246.8 L711.1,245.8 L710.7,243.1 L711.7,239.9 L712.1,239.1 L713.3,236.1 L713.5,234.5 L714.2,233.5 L715.1,233.1 L715.3,231.5 L715.8,228.3 L716.9,226.8 L717.2,226.1 L718.5,224.4 L718.6,224.4 L719.7,223.4 L721.2,221.2 L721.4,220.3 L722.4,219.3 L723.0,218.3 L724.2,217.1 L724.4,216.5 L724.9,214.9 L726.6,214.5 L727.0,212.9 L727.7,213.3 L728.1,212.8 L729.7,211.3 L730.6,211.7 L731.6,211.2 L732.7,211.7 L732.9,210.4 L734.8,212.1 L735.5,211.5 L737.1,211.8 L738.2,212.5 L739.5,213.9 L740.8,214.3 L742.8,214.6 L743.9,216.6 L745.1,216.3 L747.1,216.8 L747.9,217.6 L750.0,217.4 L751.1,218.2 L753.3,218.7 L754.9,218.6 L755.9,219.8 L758.1,219.8 L758.7,219.6 L760.5,220.0 L762.2,221.5 L762.8,220.9 L765.0,221.9 L766.5,221.7 L767.5,222.1 L770.3,222.6 L772.0,223.4 L774.5,224.1 L777.8,224.3 L779.5,226.5 L783.4,227.3 L785.7,228.1 L789.2,227.7 L791.7,229.7 L794.3,230.2 L796.6,231.0 L799.3,231.7 L802.5,233.3 L805.4,234.1 L808.2,236.5 L810.9,238.0 L813.4,238.4 L814.8,239.6 L817.3,239.6 L820.2,240.6 L822.2,242.0 L824.7,241.6 L826.5,243.2 L829.0,244.0 L831.1,244.0 L833.6,246.3 L835.4,247.6 L838.5,249.0 L840.6,249.1 L842.6,252.2 L844.2,252.8 L846.9,255.0 L849.7,256.8 L853.0,257.8 L855.1,260.2 L858.4,262.3 L862.7,266.0 L864.9,267.6 L868.3,269.5 L871.4,272.1 L874.5,273.4 L876.6,275.0 L879.0,276.8 L882.0,277.7 L883.5,278.6 L886.0,280.5 L888.7,281.3 L890.9,283.1 L892.7,284.2 L895.1,286.4 L897.2,288.2 L899.4,289.2 L901.7,291.9 L903.3,293.3 L906.1,296.2 L909.1,297.4 L911.7,300.3 L913.8,302.1 L916.7,305.2 L920.6,307.9 L924.0,310.2 L927.3,312.7 L929.7,315.3 L932.5,316.9 L936.1,319.0 L937.7,321.1 L940.8,323.1 L941.7,326.0 L943.6,327.6 L946.0,329.2 L948.1,330.3 L949.7,331.0 L951.5,333.6 L953.4,334.7 L955.3,338.1 L956.3,338.9 L958.7,341.8 L960.2,342.6 L962.2,345.3 L964.7,346.9 L966.3,348.8 L968.5,350.8 L970.5,353.0 L974.0,354.9 L976.2,356.4 L978.6,359.5 L980.9,360.9 L982.9,362.9 L985.5,363.7 L986.3,366.2 L988.9,367.1 L989.7,368.6 L990.8,368.9 L992.2,370.5 L993.7,370.9 L995.7,373.2 L997.1,373.9 L999.2,375.3 L1001.6,375.4 L1003.4,376.2 L1006.1,378.0 L1008.1,379.2 L1010.7,381.1 L1012.9,382.6 L1015.7,383.0 L1018.0,384.4 L1020.8,385.0 L1022.7,386.2 L1025.5,386.6 L1027.7,388.6 L1029.7,388.2 L1031.6,389.9 L1034.3,391.2 L1036.6,390.8 L1037.9,391.5 L1039.9,393.1 L1042.6,394.1 L1043.8,394.8 L1045.7,394.7 L1048.0,394.9 L1049.0,397.2 L1050.9,397.3 L1052.9,399.0 L1053.7,399.5 L1055.8,401.0 L1057.0,402.4 L1059.3,403.2 L1060.3,403.9 L1061.5,406.1 L1062.9,407.7 L1065.3,407.5 L1066.8,409.2 L1068.1,411.2 L1069.0,412.2 L1071.0,413.6 L1072.1,414.5 L1074.7,415.3 L1075.8,415.1 L1077.5,416.3 L1079.5,417.6 L1081.1,417.3 L1083.0,418.6 L1084.5,419.6 L1087.2,418.6 L1089.9,419.0 L1091.8,420.2 L1095.1,420.1 L1098.3,419.9 L1101.1,419.4 L1104.1,420.3 L1108.2,419.9 L1111.3,419.4 L1113.7,419.4 L1117.3,418.7 L1119.7,419.0 L1122.9,419.1 L1125.1,419.1 L1128.1,419.6 L1130.5,419.5 L1132.7,418.1 L1135.0,417.4 L1138.1,418.0 L1139.4,416.4 L1141.7,416.8 L1144.1,416.0 L1145.6,414.1 L1147.2,413.3 L1149.1,413.0 L1150.5,411.5 L1153.1,410.0 L1154.9,410.4 L1156.9,408.3 L1158.3,407.4 L1160.1,406.7 L1161.8,404.1 L1163.6,402.8 L1164.8,401.6 L1165.5,399.7 L1167.6,396.9 L1168.6,394.2 L1169.3,391.8 L1170.2,389.2 L1172.0,387.0 L1172.9,386.2 L1174.4,383.6 L1175.3,384.2 L1175.3,383.9 L1176.4,384.0 L1177.6,386.5 L1178.2,387.5 L1179.6,387.5 L1180.9,389.5 L1182.1,390.8 L1183.2,391.1 L1184.8,393.2 L1186.4,393.5 L1187.9,394.7 L1188.7,395.1 L1190.3,396.7 L1192.0,398.4 L1194.1,399.8 L1195.3,401.3 L1196.7,402.5 L1198.8,403.9 L1199.7,406.4 L1201.8,406.9 L1202.6,408.5 L1204.0,409.1 L1204.1,409.9" stroke="#00FF00" stroke-width="7" fill="none" stroke-linejoin="round" stroke-linecap="round"/>
<path d="M694.3,413.7 L694.5,407.8 L694.9,398.4 L694.2,389.8 L694.6,377.8 L695.6,367.1 L695.6,356.6 L695.5,346.6 L695.7,340.6 L695.7,335.0 L696.1,329.7 L696.4,327.6 L696.0,324.3 L697.0,323.0 L697.1,321.6 L697.5,319.2 L697.6,315.8 L698.2,312.3 L699.4,306.7 L699.3,302.7 L701.1,298.7 L701.5,294.0 L702.2,289.7 L702.8,285.8 L703.9,282.2 L704.8,278.2 L705.8,274.1 L706.4,268.5 L707.4,265.8 L708.3,261.2 L708.8,256.8 L709.7,254.0 L709.7,250.0 L711.1,249.0 L710.7,246.3 L711.7,243.1 L712.1,242.3 L713.3,239.3 L713.5,237.7 L714.2,236.7 L715.1,236.3 L715.3,234.7 L715.8,231.5 L716.9,230.0 L717.2,229.3 L718.5,227.6 L718.6,227.6 L719.7,226.6 L721.2,224.4 L721.4,223.5 L722.4,222.5 L723.0,221.5 L724.2,220.3 L724.4,219.7 L724.9,218.1 L726.6,217.7 L727.0,216.1 L727.7,216.5 L728.1,216.0 L729.7,214.5 L730.6,214.9 L731.6,214.4 L732.7,214.9 L732.9,213.6 L734.8,215.3 L735.5,214.7 L737.1,215.0 L738.2,215.7 L739.5,217.1 L740.8,217.5 L742.8,217.8 L743.9,219.8 L745.1,219.5 L747.1,220.0 L747.9,220.8 L750.0,220.6 L751.1,221.4 L753.3,221.9 L754.9,221.8 L755.9,223.0 L758.1,223.0 L758.7,222.8 L760.5,223.2 L762.2,224.7 L762.8,224.1 L765.0,225.1 L766.5,224.9 L767.5,225.3 L770.3,225.8 L772.0,226.6 L774.5,227.3 L777.8,227.5 L779.5,229.7 L783.4,230.5 L785.7,231.3 L789.2,230.9 L791.7,232.9 L794.3,233.4 L796.6,234.2 L799.3,234.9 L802.5,236.5 L805.4,237.3 L808.2,239.7 L810.9,241.2 L813.4,241.6 L814.8,242.8 L817.3,242.8 L820.2,243.8 L822.2,245.2 L824.7,244.8 L826.5,246.4 L829.0,247.2 L831.1,247.2 L833.6,249.5 L835.4,250.8 L838.5,252.2 L840.6,252.3 L842.6,255.4 L844.2,256.0 L846.9,258.2 L849.7,260.0 L853.0,261.0 L855.1,263.4 L858.4,265.5 L862.7,269.2 L864.9,270.8 L868.3,272.7 L871.4,275.3 L874.5,276.6 L876.6,278.2 L879.0,280.0 L882.0,280.9 L883.5,281.8 L886.0,283.7 L888.7,284.5 L890.9,286.3 L892.7,287.4 L895.1,289.6 L897.2,291.4 L899.4,292.4 L901.7,295.1 L903.3,296.5 L906.1,299.4 L909.1,300.6 L911.7,303.5 L913.8,305.3 L916.7,308.4 L920.6,311.1 L924.0,313.4 L927.3,315.9 L929.7,318.5 L932.5,320.1 L936.1,322.2 L937.7,324.3 L940.8,326.3 L941.7,329.2 L943.6,330.8 L946.0,332.4 L948.1,333.5 L949.7,334.2 L951.5,336.8 L953.4,337.9 L955.3,341.3 L956.3,342.1 L958.7,345.0 L960.2,345.8 L962.2,348.5 L964.7,350.1 L966.3,352.0 L968.5,354.0 L970.5,356.2 L974.0,358.1 L976.2,359.6 L978.6,362.7 L980.9,364.1 L982.9,366.1 L985.5,366.9 L986.3,369.4 L988.9,370.3 L989.7,371.8 L990.8,372.1 L992.2,373.7 L993.7,374.1 L995.7,376.4 L997.1,377.1 L999.2,378.5 L1001.6,378.6 L1003.4,379.4 L1006.1,381.2 L1008.1,382.4 L1010.7,384.3 L1012.9,385.8 L1015.7,386.2 L1018.0,387.6 L1020.8,388.2 L1022.7,389.4 L1025.5,389.8 L1027.7,391.8 L1029.7,391.4 L1031.6,393.1 L1034.3,394.4 L1036.6,394.0 L1037.9,394.7 L1039.9,396.3 L1042.6,397.3 L1043.8,398.0 L1045.7,397.9 L1048.0,398.1 L1049.0,400.4 L1050.9,400.5 L1052.9,402.2 L1053.7,402.7 L1055.8,404.2 L1057.0,405.6 L1059.3,406.4 L1060.3,407.1 L1061.5,409.3 L1062.9,410.9 L1065.3,410.7 L1066.8,412.4 L1068.1,414.4 L1069.0,415.4 L1071.0,416.8 L1072.1,417.7 L1074.7,418.5 L1075.8,418.3 L1077.5,419.5 L1079.5,420.8 L1081.1,420.5 L1083.0,421.8 L1084.5,422.8 L1087.2,421.8 L1089.9,422.2 L1091.8,423.4 L1095.1,423.3 L1098.3,423.1 L1101.1,422.6 L1104.1,423.5 L1108.2,423.1 L1111.3,422.6 L1113.7,422.6 L1117.3,421.9 L1119.7,422.2 L1122.9,422.3 L1125.1,422.3 L1128.1,422.8 L1130.5,422.7 L1132.7,421.3 L1135.0,420.6 L1138.1,421.2 L1139.4,419.6 L1141.7,420.0 L1144.1,419.2 L1145.6,417.3 L1147.2,416.5 L1149.1,416.2 L1150.5,414.7 L1153.1,413.2 L1154.9,413.6 L1156.9,411.5 L1158.3,410.6 L1160.1,409.9 L1161.8,407.3 L1163.6,406.0 L1164.8,404.8 L1165.5,402.9 L1167.6,400.1 L1168.6,397.4 L1169.3,395.0 L1170.2,392.4 L1172.0,390.2 L1172.9,389.4 L1174.4,386.8 L1175.3,387.4 L1175.3,387.1 L1176.4,387.2 L1177.6,389.7 L1178.2,390.7 L1179.6,390.7 L1180.9,392.7 L1182.1,394.0 L1183.2,394.3 L1184.8,396.4 L1186.4,396.7 L1187.9,397.9 L1188.7,398.3 L1190.3,399.9 L1192.0,401.6 L1194.1,403.0 L1195.3,404.5 L1196.7,405.7 L1198.8,407.1 L1199.7,409.6 L1201.8,410.1 L1202.6,411.7 L1204.0,412.3 L1204.1,413.1" stroke="#00FF00" stroke-width="7" fill="none" stroke-linejoin="round" stroke-linecap="round"/>
<rect x="694.0" y="205.4" width="534.0" height="472.6" fill="none" stroke="#8A8A8A" stroke-width="2.6"/>
<line x1="694.0" y1="433.4" x2="1228.0" y2="433.4" stroke="#8A8A8A" stroke-width="2.4" />
<line x1="694.0" y1="508.4" x2="1228.0" y2="508.4" stroke="#8A8A8A" stroke-width="2.4" />
<line x1="694.0" y1="526.4" x2="1228.0" y2="526.4" stroke="#8A8A8A" stroke-width="2.4" />
<line x1="689.0" y1="222.3" x2="694.0" y2="222.3" stroke="#8A8A8A" stroke-width="2" />
<text x="687.0" y="229.3" font-size="22" text-anchor="end" fill="#555">0.40</text>
<line x1="689.0" y1="245.9" x2="694.0" y2="245.9" stroke="#8A8A8A" stroke-width="2" />
<text x="687.0" y="252.9" font-size="22" text-anchor="end" fill="#555">0.35</text>
<line x1="689.0" y1="269.4" x2="694.0" y2="269.4" stroke="#8A8A8A" stroke-width="2" />
<text x="687.0" y="276.4" font-size="22" text-anchor="end" fill="#555">0.30</text>
<line x1="689.0" y1="293.0" x2="694.0" y2="293.0" stroke="#8A8A8A" stroke-width="2" />
<text x="687.0" y="300.0" font-size="22" text-anchor="end" fill="#555">0.25</text>
<line x1="689.0" y1="316.5" x2="694.0" y2="316.5" stroke="#8A8A8A" stroke-width="2" />
<text x="687.0" y="323.5" font-size="22" text-anchor="end" fill="#555">0.20</text>
<line x1="689.0" y1="340.1" x2="694.0" y2="340.1" stroke="#8A8A8A" stroke-width="2" />
<text x="687.0" y="347.1" font-size="22" text-anchor="end" fill="#555">0.15</text>
<line x1="689.0" y1="363.6" x2="694.0" y2="363.6" stroke="#8A8A8A" stroke-width="2" />
<text x="687.0" y="370.6" font-size="22" text-anchor="end" fill="#555">0.10</text>
<line x1="689.0" y1="387.1" x2="694.0" y2="387.1" stroke="#8A8A8A" stroke-width="2" />
<text x="687.0" y="394.1" font-size="22" text-anchor="end" fill="#555">0.05</text>
<line x1="689.0" y1="410.7" x2="694.0" y2="410.7" stroke="#8A8A8A" stroke-width="2" />
<text x="687.0" y="417.7" font-size="22" text-anchor="end" fill="#555">0.00</text>
<line x1="689.0" y1="525.7" x2="694.0" y2="525.7" stroke="#8A8A8A" stroke-width="2" />
<text x="688.0" y="531.7" font-size="20" text-anchor="end" fill="#333">4</text>
<line x1="689.0" y1="554.9" x2="694.0" y2="554.9" stroke="#8A8A8A" stroke-width="2" />
<text x="688.0" y="560.9" font-size="20" text-anchor="end" fill="#333">2</text>
<line x1="689.0" y1="584.0" x2="694.0" y2="584.0" stroke="#8A8A8A" stroke-width="2" />
<text x="688.0" y="590.0" font-size="20" text-anchor="end" fill="#333">0</text>
<line x1="689.0" y1="613.1" x2="694.0" y2="613.1" stroke="#8A8A8A" stroke-width="2" />
<text x="688.0" y="619.1" font-size="20" text-anchor="end" fill="#333">-2</text>
<line x1="689.0" y1="642.3" x2="694.0" y2="642.3" stroke="#8A8A8A" stroke-width="2" />
<text x="688.0" y="648.3" font-size="20" text-anchor="end" fill="#333">-4</text>
<line x1="689.0" y1="671.4" x2="694.0" y2="671.4" stroke="#8A8A8A" stroke-width="2" />
<text x="688.0" y="677.4" font-size="20" text-anchor="end" fill="#333">-6</text>
<line x1="694.5" y1="678.0" x2="694.5" y2="683.0" stroke="#8A8A8A" stroke-width="2" />
<text x="694.5" y="700.7" font-size="20" text-anchor="middle" fill="#333">0</text>
<line x1="763.1" y1="678.0" x2="763.1" y2="683.0" stroke="#8A8A8A" stroke-width="2" />
<text x="763.1" y="700.7" font-size="20" text-anchor="middle" fill="#333">2,000</text>
<line x1="831.7" y1="678.0" x2="831.7" y2="683.0" stroke="#8A8A8A" stroke-width="2" />
<text x="831.7" y="700.7" font-size="20" text-anchor="middle" fill="#333">4,000</text>
<line x1="900.3" y1="678.0" x2="900.3" y2="683.0" stroke="#8A8A8A" stroke-width="2" />
<text x="900.3" y="700.7" font-size="20" text-anchor="middle" fill="#333">6,000</text>
<line x1="968.9" y1="678.0" x2="968.9" y2="683.0" stroke="#8A8A8A" stroke-width="2" />
<text x="968.9" y="700.7" font-size="20" text-anchor="middle" fill="#333">8,000</text>
<line x1="1037.5" y1="678.0" x2="1037.5" y2="683.0" stroke="#8A8A8A" stroke-width="2" />
<text x="1037.5" y="700.7" font-size="20" text-anchor="middle" fill="#333">10,000</text>
<line x1="1106.1" y1="678.0" x2="1106.1" y2="683.0" stroke="#8A8A8A" stroke-width="2" />
<text x="1106.1" y="700.7" font-size="20" text-anchor="middle" fill="#333">12,000</text>
<line x1="1174.7" y1="678.0" x2="1174.7" y2="683.0" stroke="#8A8A8A" stroke-width="2" />
<text x="1174.7" y="700.7" font-size="20" text-anchor="middle" fill="#333">14,000</text>
<text x="636.0" y="311.2" font-size="20" font-weight="bold" text-anchor="middle" fill="#222" textLength="220.7" lengthAdjust="spacingAndGlyphs" transform="rotate(-90 636.0 311.2)">Enrichment score (ES)</text>
<text x="636.7" y="626.4" font-size="22" text-anchor="middle" fill="#222" textLength="164.0" lengthAdjust="spacingAndGlyphs" transform="rotate(-90 636.7 626.4)">Ranked list metric</text>
<text x="661.5" y="594.6" font-size="21.5" text-anchor="middle" fill="#222" textLength="224.8" lengthAdjust="spacingAndGlyphs" transform="rotate(-90 661.5 594.6)">(log2_Ratio_of_Classes)</text>
<text x="945.3" y="723.5" font-size="20.5" text-anchor="middle" fill="#222" textLength="227.0" lengthAdjust="spacingAndGlyphs">Rank in Ordered Dataset</text>
<rect x="683.0" y="741.2" width="25.4" height="8.5" fill="#1EF01E" />
<text x="716.2" y="750.2" font-size="20" fill="#222" textLength="167.0" lengthAdjust="spacingAndGlyphs">Enrichment profile</text>
<rect x="906.7" y="743.7" width="21.5" height="3.5" fill="#000" />
<text x="937.5" y="750.2" font-size="20" fill="#222" textLength="32.7" lengthAdjust="spacingAndGlyphs">Hits</text>
<rect x="987.2" y="743.7" width="19.7" height="3.5" fill="#C4C4C4" />
<text x="1017.6" y="750.2" font-size="20" fill="#222" textLength="204.0" lengthAdjust="spacingAndGlyphs">Ranking metric scores</text>
<text x="713.2" y="267.5" font-size="39.5" fill="#000" textLength="207.8" lengthAdjust="spacingAndGlyphs">NES = 1.88</text>
<text x="962.2" y="267.5" font-size="39.5" fill="#000" textLength="228.8" lengthAdjust="spacingAndGlyphs">FDR &lt; 0.001</text>
<text x="717.3" y="401.7" font-size="40.5" font-weight="bold" fill="#000" textLength="62.5" lengthAdjust="spacingAndGlyphs">IFN</text>
<text x="699.8" y="549.3" font-size="20.3" fill="#E84545" textLength="200.6" lengthAdjust="spacingAndGlyphs">'Ku80_CDKi_IAA_D2'</text>
<text x="699.8" y="575.0" font-size="20.3" fill="#E84545" textLength="198.8" lengthAdjust="spacingAndGlyphs">(positively correlated)</text>
<text x="862.7" y="609.1" font-size="20.3" fill="#333" textLength="173.2" lengthAdjust="spacingAndGlyphs">Zero cross at 7349</text>
<text x="990.1" y="642.6" font-size="20.3" fill="#4A4AE8" textLength="190.0" lengthAdjust="spacingAndGlyphs">'Ku80_CDKi_DMSO'</text>
<text x="990.1" y="668.2" font-size="20.3" fill="#4A4AE8" textLength="206.0" lengthAdjust="spacingAndGlyphs">(negatively correlated)</text>
<rect x="1366.0" y="139.0" width="622.5" height="623.5" fill="#F1F1F1" />
<text x="1369.4" y="162.4" font-size="22.5" font-weight="bold" text-anchor="start" fill="#111" textLength="612.6" lengthAdjust="spacingAndGlyphs">Enrichment plot: REACTOME_INTERFERON_SIGNALING.</text>
<text x="1675.7" y="193.1" font-size="22.5" font-weight="bold" text-anchor="middle" fill="#111" textLength="158.6" lengthAdjust="spacingAndGlyphs">v2023.2.Hs.grp</text>
<rect x="1435.0" y="205.0" width="544.1" height="472.7" fill="#FFFFFF" />
<line x1="1504.1" y1="207.0" x2="1504.1" y2="432.7" stroke="#C8C8C8" stroke-width="1.6" stroke-dasharray="8,7.5"/>
<line x1="1504.1" y1="528.4" x2="1504.1" y2="677.7" stroke="#C8C8C8" stroke-width="1.6" stroke-dasharray="8,7.5"/>
<line x1="1572.6" y1="207.0" x2="1572.6" y2="432.7" stroke="#C8C8C8" stroke-width="1.6" stroke-dasharray="8,7.5"/>
<line x1="1572.6" y1="528.4" x2="1572.6" y2="677.7" stroke="#C8C8C8" stroke-width="1.6" stroke-dasharray="8,7.5"/>
<line x1="1641.2" y1="207.0" x2="1641.2" y2="432.7" stroke="#C8C8C8" stroke-width="1.6" stroke-dasharray="8,7.5"/>
<line x1="1641.2" y1="528.4" x2="1641.2" y2="677.7" stroke="#C8C8C8" stroke-width="1.6" stroke-dasharray="8,7.5"/>
<line x1="1709.7" y1="207.0" x2="1709.7" y2="432.7" stroke="#C8C8C8" stroke-width="1.6" stroke-dasharray="8,7.5"/>
<line x1="1709.7" y1="528.4" x2="1709.7" y2="677.7" stroke="#C8C8C8" stroke-width="1.6" stroke-dasharray="8,7.5"/>
<line x1="1778.3" y1="207.0" x2="1778.3" y2="432.7" stroke="#C8C8C8" stroke-width="1.6" stroke-dasharray="8,7.5"/>
<line x1="1778.3" y1="528.4" x2="1778.3" y2="677.7" stroke="#C8C8C8" stroke-width="1.6" stroke-dasharray="8,7.5"/>
<line x1="1846.9" y1="207.0" x2="1846.9" y2="432.7" stroke="#C8C8C8" stroke-width="1.6" stroke-dasharray="8,7.5"/>
<line x1="1846.9" y1="528.4" x2="1846.9" y2="677.7" stroke="#C8C8C8" stroke-width="1.6" stroke-dasharray="8,7.5"/>
<line x1="1915.4" y1="207.0" x2="1915.4" y2="432.7" stroke="#C8C8C8" stroke-width="1.6" stroke-dasharray="8,7.5"/>
<line x1="1915.4" y1="528.4" x2="1915.4" y2="677.7" stroke="#C8C8C8" stroke-width="1.6" stroke-dasharray="8,7.5"/>
<line x1="1435.0" y1="212.2" x2="1979.1" y2="212.2" stroke="#C8C8C8" stroke-width="1.6" stroke-dasharray="8,7.5"/>
<line x1="1435.0" y1="245.2" x2="1979.1" y2="245.2" stroke="#C8C8C8" stroke-width="1.6" stroke-dasharray="8,7.5"/>
<line x1="1435.0" y1="278.3" x2="1979.1" y2="278.3" stroke="#C8C8C8" stroke-width="1.6" stroke-dasharray="8,7.5"/>
<line x1="1435.0" y1="311.3" x2="1979.1" y2="311.3" stroke="#C8C8C8" stroke-width="1.6" stroke-dasharray="8,7.5"/>
<line x1="1435.0" y1="344.3" x2="1979.1" y2="344.3" stroke="#C8C8C8" stroke-width="1.6" stroke-dasharray="8,7.5"/>
<line x1="1435.0" y1="377.4" x2="1979.1" y2="377.4" stroke="#C8C8C8" stroke-width="1.6" stroke-dasharray="8,7.5"/>
<line x1="1435.0" y1="410.4" x2="1979.1" y2="410.4" stroke="#C8C8C8" stroke-width="1.6" stroke-dasharray="8,7.5"/>
<line x1="1435.0" y1="544.4" x2="1979.1" y2="544.4" stroke="#C8C8C8" stroke-width="1.6" stroke-dasharray="8,7.5"/>
<line x1="1435.0" y1="575.7" x2="1979.1" y2="575.7" stroke="#C8C8C8" stroke-width="1.6" stroke-dasharray="8,7.5"/>
<line x1="1435.0" y1="607.0" x2="1979.1" y2="607.0" stroke="#C8C8C8" stroke-width="1.6" stroke-dasharray="8,7.5"/>
<line x1="1435.0" y1="638.2" x2="1979.1" y2="638.2" stroke="#C8C8C8" stroke-width="1.6" stroke-dasharray="8,7.5"/>
<line x1="1435.0" y1="669.5" x2="1979.1" y2="669.5" stroke="#C8C8C8" stroke-width="1.6" stroke-dasharray="8,7.5"/>
<line x1="1688.3" y1="528.4" x2="1688.3" y2="677.7" stroke="#555" stroke-width="1.2" stroke-dasharray="12,5"/>
<line x1="1435.0" y1="410.4" x2="1979.1" y2="410.4" stroke="#666" stroke-width="2" />
<path d="M1435.5,607.0 L1435.5,544.0 L1437.2,548.0 L1439.7,573.2 L1448.7,585.9 L1470.0,591.0 L1499.0,594.9 L1571.2,600.3 L1688.3,606.5 L1787.4,612.9 L1895.5,620.1 L1930.0,626.0 L1942.0,632.0 L1949.6,641.7 L1953.2,672.0 L1953.2,607.0" stroke="none" stroke-width="0" fill="#BDBDBD" />
<rect x="1436.2" y="434.2" width="512.2" height="72.2" fill="#000" />
<rect x="1456.4" y="434.2" width="1.6" height="72.2" fill="#8A8A8A" />
<rect x="1471.9" y="434.2" width="4.7" height="72.2" fill="#FFFFFF" />
<rect x="1479.6" y="434.2" width="4.7" height="72.2" fill="#FFFFFF" />
<rect x="1503.8" y="434.2" width="1.6" height="72.2" fill="#8A8A8A" />
<rect x="1507.5" y="434.2" width="7.8" height="72.2" fill="#FFFFFF" />
<rect x="1518.4" y="434.2" width="4.7" height="72.2" fill="#FFFFFF" />
<rect x="1537.0" y="434.2" width="3.1" height="72.2" fill="#FFFFFF" />
<rect x="1555.6" y="434.2" width="8.4" height="72.2" fill="#FFFFFF" />
<rect x="1568.0" y="434.2" width="15.5" height="72.2" fill="#FFFFFF" />
<rect x="1589.7" y="434.2" width="5.3" height="72.2" fill="#FFFFFF" />
<rect x="1599.0" y="434.2" width="10.9" height="72.2" fill="#FFFFFF" />
<rect x="1623.8" y="434.2" width="3.1" height="72.2" fill="#FFFFFF" />
<rect x="1643.9" y="434.2" width="1.6" height="72.2" fill="#FFFFFF" />
<rect x="1648.6" y="434.2" width="3.1" height="72.2" fill="#FFFFFF" />
<rect x="1661.0" y="434.2" width="2.2" height="72.2" fill="#FFFFFF" />
<rect x="1667.2" y="434.2" width="7.8" height="72.2" fill="#FFFFFF" />
<rect x="1679.6" y="434.2" width="13.3" height="72.2" fill="#FFFFFF" />
<rect x="1699.1" y="434.2" width="8.4" height="72.2" fill="#FFFFFF" />
<rect x="1718.4" y="434.2" width="1.6" height="72.2" fill="#8A8A8A" />
<rect x="1726.1" y="434.2" width="4.0" height="72.2" fill="#FFFFFF" />
<rect x="1733.2" y="434.2" width="3.7" height="72.2" fill="#FFFFFF" />
<rect x="1756.2" y="434.2" width="9.3" height="72.2" fill="#FFFFFF" />
<rect x="1780.4" y="434.2" width="1.6" height="72.2" fill="#8A8A8A" />
<rect x="1797.4" y="434.2" width="2.2" height="72.2" fill="#8A8A8A" />
<rect x="1813.9" y="434.2" width="3.1" height="72.2" fill="#FFFFFF" />
<rect x="1820.7" y="434.2" width="1.6" height="72.2" fill="#FFFFFF" />
<rect x="1838.7" y="434.2" width="2.2" height="72.2" fill="#8A8A8A" />
<rect x="1864.1" y="434.2" width="3.1" height="72.2" fill="#FFFFFF" />
<rect x="1875.9" y="434.2" width="7.4" height="72.2" fill="#FFFFFF" />
<rect x="1895.1" y="434.2" width="2.2" height="72.2" fill="#FFFFFF" />
<rect x="1909.0" y="434.2" width="1.6" height="72.2" fill="#FFFFFF" />
<rect x="1913.7" y="434.2" width="5.6" height="72.2" fill="#FFFFFF" />
<rect x="1436.2" y="509.4" width="9.3" height="15.5" fill="#E03A3A" />
<rect x="1445.5" y="509.4" width="83.7" height="15.5" fill="#F85555" />
<rect x="1529.2" y="509.4" width="42.8" height="15.5" fill="#F86E7A" />
<rect x="1572.0" y="509.4" width="54.9" height="15.5" fill="#F88888" />
<rect x="1626.9" y="509.4" width="63.6" height="15.5" fill="#FCB8E0" />
<rect x="1690.5" y="509.4" width="55.1" height="15.5" fill="#D0D0FA" />
<rect x="1745.6" y="509.4" width="54.9" height="15.5" fill="#C0C0F6" />
<rect x="1800.5" y="509.4" width="43.4" height="15.5" fill="#8888F5" />
<rect x="1843.9" y="509.4" width="81.6" height="15.5" fill="#5A50E0" />
<rect x="1925.5" y="509.4" width="19.2" height="15.5" fill="#2A0AD0" />
<rect x="1944.7" y="509.4" width="7.1" height="15.5" fill="#3A10B0" />
<path d="M1436.3,408.1 L1436.7,401.7 L1436.8,392.2 L1436.1,380.2 L1437.4,368.2 L1437.6,354.6 L1437.3,342.5 L1437.6,331.9 L1437.2,321.9 L1437.7,315.4 L1438.5,307.2 L1438.7,301.1 L1438.6,295.5 L1438.0,291.6 L1438.5,285.4 L1439.6,281.7 L1439.0,276.7 L1439.6,271.0 L1439.6,266.3 L1440.5,261.3 L1441.1,255.2 L1440.9,250.3 L1441.0,245.7 L1441.7,242.6 L1441.8,239.0 L1442.7,235.1 L1443.8,232.5 L1443.7,229.8 L1444.7,226.8 L1445.6,224.6 L1446.0,224.2 L1445.8,222.3 L1446.9,220.2 L1447.3,217.7 L1448.4,218.0 L1449.3,216.5 L1451.2,215.9 L1451.5,214.0 L1452.7,214.0 L1453.3,213.4 L1455.2,213.0 L1455.3,212.8 L1456.4,211.4 L1458.0,212.3 L1458.8,212.3 L1460.1,211.3 L1461.1,211.2 L1462.1,211.4 L1464.3,213.3 L1465.4,212.1 L1468.2,213.7 L1469.5,214.0 L1471.8,216.0 L1473.7,216.2 L1475.3,218.0 L1477.2,218.0 L1480.0,217.9 L1481.6,219.8 L1483.1,219.9 L1484.0,219.5 L1485.6,220.4 L1487.2,219.8 L1489.6,220.6 L1491.0,219.9 L1492.0,220.5 L1493.5,219.7 L1494.8,219.4 L1496.2,220.7 L1498.4,219.9 L1499.3,219.3 L1500.4,219.2 L1502.9,220.4 L1504.2,220.6 L1506.7,221.0 L1508.5,221.9 L1510.2,222.8 L1512.3,223.4 L1515.2,224.9 L1517.1,226.5 L1520.2,226.9 L1522.4,228.0 L1526.1,229.3 L1530.1,230.7 L1534.4,231.7 L1538.3,232.6 L1543.0,234.1 L1546.7,235.4 L1551.1,236.3 L1554.6,238.0 L1556.9,238.5 L1559.1,240.4 L1562.4,241.0 L1564.3,242.8 L1566.4,243.2 L1568.6,245.3 L1570.6,246.4 L1572.7,248.5 L1575.0,249.8 L1576.5,250.3 L1579.2,252.7 L1581.2,254.2 L1583.9,254.6 L1586.1,256.6 L1588.0,258.0 L1591.0,259.8 L1593.6,261.4 L1596.8,263.8 L1599.9,266.1 L1602.5,268.7 L1605.4,269.8 L1609.0,271.8 L1612.1,274.5 L1615.8,275.1 L1619.7,277.1 L1623.4,279.4 L1627.3,282.4 L1631.5,283.3 L1635.5,285.6 L1638.9,286.7 L1643.2,289.4 L1647.5,292.2 L1651.0,293.3 L1655.2,294.8 L1658.2,298.0 L1662.6,299.5 L1666.5,303.1 L1670.1,304.7 L1673.8,307.0 L1678.6,309.8 L1682.4,313.6 L1685.9,315.5 L1690.2,319.2 L1693.4,322.3 L1698.0,325.9 L1701.0,329.1 L1704.7,332.3 L1708.9,334.4 L1713.2,337.7 L1716.2,339.3 L1720.4,341.9 L1724.8,342.4 L1728.1,343.9 L1732.8,345.9 L1736.3,348.2 L1740.2,350.5 L1744.2,352.0 L1748.1,354.9 L1751.7,357.6 L1755.2,360.7 L1759.3,363.2 L1763.5,366.2 L1766.6,367.9 L1770.9,371.2 L1775.3,372.4 L1778.2,374.3 L1782.6,375.3 L1786.8,376.6 L1790.4,378.3 L1794.2,378.5 L1798.6,379.4 L1801.9,381.9 L1805.5,383.4 L1810.1,384.3 L1813.5,386.6 L1818.1,387.1 L1821.5,389.5 L1825.3,390.7 L1828.8,392.6 L1833.5,392.9 L1836.7,395.3 L1841.3,395.9 L1844.4,396.7 L1849.6,397.9 L1853.2,396.8 L1857.2,397.8 L1860.7,399.8 L1864.4,399.2 L1867.2,401.7 L1870.3,402.2 L1873.8,402.6 L1877.0,403.6 L1879.4,405.5 L1882.3,406.1 L1885.9,408.5 L1889.4,408.5 L1892.0,409.9 L1895.5,411.3 L1899.3,412.1 L1901.5,413.7 L1904.9,414.6 L1908.4,416.0 L1911.3,416.4 L1913.4,417.1 L1915.6,418.2 L1917.8,417.9 L1919.2,419.1 L1921.3,419.4 L1922.7,420.9 L1923.2,421.4 L1924.4,420.7 L1926.2,421.1 L1927.6,421.6 L1927.9,422.2 L1928.3,421.9 L1929.1,420.6 L1930.8,421.1 L1930.6,419.5 L1932.1,419.8 L1932.7,417.9 L1933.2,416.9 L1933.5,415.2 L1934.8,413.3 L1935.3,410.8 L1936.6,409.7 L1937.3,407.3 L1938.1,405.9 L1938.6,404.7 L1939.5,403.6 L1939.5,402.3 L1940.3,401.9 L1941.8,402.5 L1942.4,401.6 L1942.8,403.3 L1943.8,402.6 L1944.7,402.3 L1945.5,402.8 L1947.2,403.9 L1949.3,404.4 L1950.2,405.6 L1951.6,406.6 L1953.1,407.9 L1954.1,409.4 L1955.3,410.0" stroke="#00FF00" stroke-width="7" fill="none" stroke-linejoin="round" stroke-linecap="round"/>
<path d="M1436.3,411.3 L1436.7,404.9 L1436.8,395.4 L1436.1,383.4 L1437.4,371.4 L1437.6,357.8 L1437.3,345.7 L1437.6,335.1 L1437.2,325.1 L1437.7,318.6 L1438.5,310.4 L1438.7,304.3 L1438.6,298.7 L1438.0,294.8 L1438.5,288.6 L1439.6,284.9 L1439.0,279.9 L1439.6,274.2 L1439.6,269.5 L1440.5,264.5 L1441.1,258.4 L1440.9,253.5 L1441.0,248.9 L1441.7,245.8 L1441.8,242.2 L1442.7,238.3 L1443.8,235.7 L1443.7,233.0 L1444.7,230.0 L1445.6,227.8 L1446.0,227.4 L1445.8,225.5 L1446.9,223.4 L1447.3,220.9 L1448.4,221.2 L1449.3,219.7 L1451.2,219.1 L1451.5,217.2 L1452.7,217.2 L1453.3,216.6 L1455.2,216.2 L1455.3,216.0 L1456.4,214.6 L1458.0,215.5 L1458.8,215.5 L1460.1,214.5 L1461.1,214.4 L1462.1,214.6 L1464.3,216.5 L1465.4,215.3 L1468.2,216.9 L1469.5,217.2 L1471.8,219.2 L1473.7,219.4 L1475.3,221.2 L1477.2,221.2 L1480.0,221.1 L1481.6,223.0 L1483.1,223.1 L1484.0,222.7 L1485.6,223.6 L1487.2,223.0 L1489.6,223.8 L1491.0,223.1 L1492.0,223.7 L1493.5,222.9 L1494.8,222.6 L1496.2,223.9 L1498.4,223.1 L1499.3,222.5 L1500.4,222.4 L1502.9,223.6 L1504.2,223.8 L1506.7,224.2 L1508.5,225.1 L1510.2,226.0 L1512.3,226.6 L1515.2,228.1 L1517.1,229.7 L1520.2,230.1 L1522.4,231.2 L1526.1,232.5 L1530.1,233.9 L1534.4,234.9 L1538.3,235.8 L1543.0,237.3 L1546.7,238.6 L1551.1,239.5 L1554.6,241.2 L1556.9,241.7 L1559.1,243.6 L1562.4,244.2 L1564.3,246.0 L1566.4,246.4 L1568.6,248.5 L1570.6,249.6 L1572.7,251.7 L1575.0,253.0 L1576.5,253.5 L1579.2,255.9 L1581.2,257.4 L1583.9,257.8 L1586.1,259.8 L1588.0,261.2 L1591.0,263.0 L1593.6,264.6 L1596.8,267.0 L1599.9,269.3 L1602.5,271.9 L1605.4,273.0 L1609.0,275.0 L1612.1,277.7 L1615.8,278.3 L1619.7,280.3 L1623.4,282.6 L1627.3,285.6 L1631.5,286.5 L1635.5,288.8 L1638.9,289.9 L1643.2,292.6 L1647.5,295.4 L1651.0,296.5 L1655.2,298.0 L1658.2,301.2 L1662.6,302.7 L1666.5,306.3 L1670.1,307.9 L1673.8,310.2 L1678.6,313.0 L1682.4,316.8 L1685.9,318.7 L1690.2,322.4 L1693.4,325.5 L1698.0,329.1 L1701.0,332.3 L1704.7,335.5 L1708.9,337.6 L1713.2,340.9 L1716.2,342.5 L1720.4,345.1 L1724.8,345.6 L1728.1,347.1 L1732.8,349.1 L1736.3,351.4 L1740.2,353.7 L1744.2,355.2 L1748.1,358.1 L1751.7,360.8 L1755.2,363.9 L1759.3,366.4 L1763.5,369.4 L1766.6,371.1 L1770.9,374.4 L1775.3,375.6 L1778.2,377.5 L1782.6,378.5 L1786.8,379.8 L1790.4,381.5 L1794.2,381.7 L1798.6,382.6 L1801.9,385.1 L1805.5,386.6 L1810.1,387.5 L1813.5,389.8 L1818.1,390.3 L1821.5,392.7 L1825.3,393.9 L1828.8,395.8 L1833.5,396.1 L1836.7,398.5 L1841.3,399.1 L1844.4,399.9 L1849.6,401.1 L1853.2,400.0 L1857.2,401.0 L1860.7,403.0 L1864.4,402.4 L1867.2,404.9 L1870.3,405.4 L1873.8,405.8 L1877.0,406.8 L1879.4,408.7 L1882.3,409.3 L1885.9,411.7 L1889.4,411.7 L1892.0,413.1 L1895.5,414.5 L1899.3,415.3 L1901.5,416.9 L1904.9,417.8 L1908.4,419.2 L1911.3,419.6 L1913.4,420.3 L1915.6,421.4 L1917.8,421.1 L1919.2,422.3 L1921.3,422.6 L1922.7,424.1 L1923.2,424.6 L1924.4,423.9 L1926.2,424.3 L1927.6,424.8 L1927.9,425.4 L1928.3,425.1 L1929.1,423.8 L1930.8,424.3 L1930.6,422.7 L1932.1,423.0 L1932.7,421.1 L1933.2,420.1 L1933.5,418.4 L1934.8,416.5 L1935.3,414.0 L1936.6,412.9 L1937.3,410.5 L1938.1,409.1 L1938.6,407.9 L1939.5,406.8 L1939.5,405.5 L1940.3,405.1 L1941.8,405.7 L1942.4,404.8 L1942.8,406.5 L1943.8,405.8 L1944.7,405.5 L1945.5,406.0 L1947.2,407.1 L1949.3,407.6 L1950.2,408.8 L1951.6,409.8 L1953.1,411.1 L1954.1,412.6 L1955.3,413.2" stroke="#00FF00" stroke-width="7" fill="none" stroke-linejoin="round" stroke-linecap="round"/>
<rect x="1435.0" y="205.0" width="544.1" height="472.7" fill="none" stroke="#8A8A8A" stroke-width="2.6"/>
<line x1="1435.0" y1="432.7" x2="1979.1" y2="432.7" stroke="#8A8A8A" stroke-width="2.4" />
<line x1="1435.0" y1="507.9" x2="1979.1" y2="507.9" stroke="#8A8A8A" stroke-width="2.4" />
<line x1="1435.0" y1="526.4" x2="1979.1" y2="526.4" stroke="#8A8A8A" stroke-width="2.4" />
<line x1="1430.0" y1="212.2" x2="1435.0" y2="212.2" stroke="#8A8A8A" stroke-width="2" />
<text x="1428.0" y="219.2" font-size="22" text-anchor="end" fill="#555">0.6</text>
<line x1="1430.0" y1="245.2" x2="1435.0" y2="245.2" stroke="#8A8A8A" stroke-width="2" />
<text x="1428.0" y="252.2" font-size="22" text-anchor="end" fill="#555">0.5</text>
<line x1="1430.0" y1="278.3" x2="1435.0" y2="278.3" stroke="#8A8A8A" stroke-width="2" />
<text x="1428.0" y="285.3" font-size="22" text-anchor="end" fill="#555">0.4</text>
<line x1="1430.0" y1="311.3" x2="1435.0" y2="311.3" stroke="#8A8A8A" stroke-width="2" />
<text x="1428.0" y="318.3" font-size="22" text-anchor="end" fill="#555">0.3</text>
<line x1="1430.0" y1="344.3" x2="1435.0" y2="344.3" stroke="#8A8A8A" stroke-width="2" />
<text x="1428.0" y="351.3" font-size="22" text-anchor="end" fill="#555">0.2</text>
<line x1="1430.0" y1="377.4" x2="1435.0" y2="377.4" stroke="#8A8A8A" stroke-width="2" />
<text x="1428.0" y="384.4" font-size="22" text-anchor="end" fill="#555">0.1</text>
<line x1="1430.0" y1="410.4" x2="1435.0" y2="410.4" stroke="#8A8A8A" stroke-width="2" />
<text x="1428.0" y="417.4" font-size="22" text-anchor="end" fill="#555">0.0</text>
<line x1="1430.0" y1="544.4" x2="1435.0" y2="544.4" stroke="#8A8A8A" stroke-width="2" />
<text x="1429.0" y="550.9" font-size="20" text-anchor="end" fill="#333">4</text>
<line x1="1430.0" y1="575.7" x2="1435.0" y2="575.7" stroke="#8A8A8A" stroke-width="2" />
<text x="1429.0" y="582.2" font-size="20" text-anchor="end" fill="#333">2</text>
<line x1="1430.0" y1="607.0" x2="1435.0" y2="607.0" stroke="#8A8A8A" stroke-width="2" />
<text x="1429.0" y="613.5" font-size="20" text-anchor="end" fill="#333">0</text>
<line x1="1430.0" y1="638.2" x2="1435.0" y2="638.2" stroke="#8A8A8A" stroke-width="2" />
<text x="1429.0" y="644.7" font-size="20" text-anchor="end" fill="#333">-2</text>
<line x1="1430.0" y1="669.5" x2="1435.0" y2="669.5" stroke="#8A8A8A" stroke-width="2" />
<text x="1429.0" y="676.0" font-size="20" text-anchor="end" fill="#333">-4</text>
<line x1="1435.5" y1="677.7" x2="1435.5" y2="682.7" stroke="#8A8A8A" stroke-width="2" />
<text x="1435.5" y="701.2" font-size="20" text-anchor="middle" fill="#333">0</text>
<line x1="1504.1" y1="677.7" x2="1504.1" y2="682.7" stroke="#8A8A8A" stroke-width="2" />
<text x="1504.1" y="701.2" font-size="20" text-anchor="middle" fill="#333">2,000</text>
<line x1="1572.6" y1="677.7" x2="1572.6" y2="682.7" stroke="#8A8A8A" stroke-width="2" />
<text x="1572.6" y="701.2" font-size="20" text-anchor="middle" fill="#333">4,000</text>
<line x1="1641.2" y1="677.7" x2="1641.2" y2="682.7" stroke="#8A8A8A" stroke-width="2" />
<text x="1641.2" y="701.2" font-size="20" text-anchor="middle" fill="#333">6,000</text>
<line x1="1709.7" y1="677.7" x2="1709.7" y2="682.7" stroke="#8A8A8A" stroke-width="2" />
<text x="1709.7" y="701.2" font-size="20" text-anchor="middle" fill="#333">8,000</text>
<line x1="1778.3" y1="677.7" x2="1778.3" y2="682.7" stroke="#8A8A8A" stroke-width="2" />
<text x="1778.3" y="701.2" font-size="20" text-anchor="middle" fill="#333">10,000</text>
<line x1="1846.9" y1="677.7" x2="1846.9" y2="682.7" stroke="#8A8A8A" stroke-width="2" />
<text x="1846.9" y="701.2" font-size="20" text-anchor="middle" fill="#333">12,000</text>
<line x1="1915.4" y1="677.7" x2="1915.4" y2="682.7" stroke="#8A8A8A" stroke-width="2" />
<text x="1915.4" y="701.2" font-size="20" text-anchor="middle" fill="#333">14,000</text>
<text x="1388.0" y="310.8" font-size="20" font-weight="bold" text-anchor="middle" fill="#222" textLength="221.0" lengthAdjust="spacingAndGlyphs" transform="rotate(-90 1388.0 310.8)">Enrichment score (ES)</text>
<text x="1388.2" y="599.4" font-size="22" text-anchor="middle" fill="#222" textLength="164.0" lengthAdjust="spacingAndGlyphs" transform="rotate(-90 1388.2 599.4)">Ranked list metric</text>
<text x="1409.0" y="613.8" font-size="21.5" text-anchor="middle" fill="#222" textLength="135.2" lengthAdjust="spacingAndGlyphs" transform="rotate(-90 1409.0 613.8)">(Signal2Noise)</text>
<text x="1686.5" y="725.3" font-size="20.5" text-anchor="middle" fill="#222" textLength="230.6" lengthAdjust="spacingAndGlyphs">Rank in Ordered Dataset</text>
<rect x="1423.5" y="741.5" width="25.9" height="8.5" fill="#1EF01E" />
<text x="1457.7" y="750.5" font-size="20" fill="#222" textLength="165.8" lengthAdjust="spacingAndGlyphs">Enrichment profile</text>
<rect x="1648.7" y="744.0" width="19.8" height="3.5" fill="#000" />
<text x="1678.6" y="750.5" font-size="20" fill="#222" textLength="35.0" lengthAdjust="spacingAndGlyphs">Hits</text>
<rect x="1728.0" y="744.0" width="19.8" height="3.5" fill="#C4C4C4" />
<text x="1759.3" y="750.5" font-size="20" fill="#222" textLength="204.0" lengthAdjust="spacingAndGlyphs">Ranking metric scores</text>
<text x="1479.3" y="279.5" font-size="39.5" fill="#000" textLength="454.1" lengthAdjust="spacingAndGlyphs">NES = 2.76 FDR &lt; 0.001</text>
<text x="1483.0" y="400.3" font-size="40.5" font-weight="bold" fill="#000" textLength="63.0" lengthAdjust="spacingAndGlyphs">IFN</text>
<text x="1443.3" y="549.8" font-size="20.3" fill="#E84545" textLength="200.0" lengthAdjust="spacingAndGlyphs">'Ku80_CDKi_IAA_D4'</text>
<text x="1443.3" y="574.0" font-size="20.3" fill="#E84545" textLength="198.2" lengthAdjust="spacingAndGlyphs">(positively correlated)</text>
<text x="1604.4" y="609.3" font-size="20.3" fill="#333" textLength="172.2" lengthAdjust="spacingAndGlyphs">Zero cross at 7371</text>
<text x="1740.6" y="641.7" font-size="20.3" fill="#4A4AE8" textLength="155.0" lengthAdjust="spacingAndGlyphs">'Ku80_CDKi_ctrl'</text>
<text x="1740.6" y="667.7" font-size="20.3" fill="#4A4AE8" textLength="205.4" lengthAdjust="spacingAndGlyphs">(negatively correlated)</text>
<rect x="824.2" y="925.0" width="622.6" height="623.5" fill="#F1F1F1" />
<text x="1130.3" y="947.4" font-size="22.5" font-weight="bold" text-anchor="middle" fill="#111" textLength="178.7" lengthAdjust="spacingAndGlyphs">Enrichment plot:</text>
<text x="839.8" y="978.7" font-size="22.5" font-weight="bold" text-anchor="start" fill="#111" textLength="586.4" lengthAdjust="spacingAndGlyphs">HALLMARK_TNFA_SIGNALING_VIA_NFKB.v2024.1.Hs.</text>
<text x="1135.5" y="1005.5" font-size="22.5" font-weight="bold" text-anchor="middle" fill="#111" textLength="34.4" lengthAdjust="spacingAndGlyphs">grp</text>
<rect x="894.8" y="1020.2" width="543.0" height="443.4" fill="#FFFFFF" />
<line x1="965.0" y1="1022.2" x2="965.0" y2="1232.0" stroke="#C8C8C8" stroke-width="1.6" stroke-dasharray="8,7.5"/>
<line x1="965.0" y1="1323.4" x2="965.0" y2="1463.6" stroke="#C8C8C8" stroke-width="1.6" stroke-dasharray="8,7.5"/>
<line x1="1034.3" y1="1022.2" x2="1034.3" y2="1232.0" stroke="#C8C8C8" stroke-width="1.6" stroke-dasharray="8,7.5"/>
<line x1="1034.3" y1="1323.4" x2="1034.3" y2="1463.6" stroke="#C8C8C8" stroke-width="1.6" stroke-dasharray="8,7.5"/>
<line x1="1103.5" y1="1022.2" x2="1103.5" y2="1232.0" stroke="#C8C8C8" stroke-width="1.6" stroke-dasharray="8,7.5"/>
<line x1="1103.5" y1="1323.4" x2="1103.5" y2="1463.6" stroke="#C8C8C8" stroke-width="1.6" stroke-dasharray="8,7.5"/>
<line x1="1172.8" y1="1022.2" x2="1172.8" y2="1232.0" stroke="#C8C8C8" stroke-width="1.6" stroke-dasharray="8,7.5"/>
<line x1="1172.8" y1="1323.4" x2="1172.8" y2="1463.6" stroke="#C8C8C8" stroke-width="1.6" stroke-dasharray="8,7.5"/>
<line x1="1242.1" y1="1022.2" x2="1242.1" y2="1232.0" stroke="#C8C8C8" stroke-width="1.6" stroke-dasharray="8,7.5"/>
<line x1="1242.1" y1="1323.4" x2="1242.1" y2="1463.6" stroke="#C8C8C8" stroke-width="1.6" stroke-dasharray="8,7.5"/>
<line x1="1311.4" y1="1022.2" x2="1311.4" y2="1232.0" stroke="#C8C8C8" stroke-width="1.6" stroke-dasharray="8,7.5"/>
<line x1="1311.4" y1="1323.4" x2="1311.4" y2="1463.6" stroke="#C8C8C8" stroke-width="1.6" stroke-dasharray="8,7.5"/>
<line x1="1380.7" y1="1022.2" x2="1380.7" y2="1232.0" stroke="#C8C8C8" stroke-width="1.6" stroke-dasharray="8,7.5"/>
<line x1="1380.7" y1="1323.4" x2="1380.7" y2="1463.6" stroke="#C8C8C8" stroke-width="1.6" stroke-dasharray="8,7.5"/>
<line x1="894.8" y1="1048.8" x2="1437.8" y2="1048.8" stroke="#C8C8C8" stroke-width="1.6" stroke-dasharray="8,7.5"/>
<line x1="894.8" y1="1083.5" x2="1437.8" y2="1083.5" stroke="#C8C8C8" stroke-width="1.6" stroke-dasharray="8,7.5"/>
<line x1="894.8" y1="1118.2" x2="1437.8" y2="1118.2" stroke="#C8C8C8" stroke-width="1.6" stroke-dasharray="8,7.5"/>
<line x1="894.8" y1="1152.8" x2="1437.8" y2="1152.8" stroke="#C8C8C8" stroke-width="1.6" stroke-dasharray="8,7.5"/>
<line x1="894.8" y1="1187.5" x2="1437.8" y2="1187.5" stroke="#C8C8C8" stroke-width="1.6" stroke-dasharray="8,7.5"/>
<line x1="894.8" y1="1222.2" x2="1437.8" y2="1222.2" stroke="#C8C8C8" stroke-width="1.6" stroke-dasharray="8,7.5"/>
<line x1="894.8" y1="1340.7" x2="1437.8" y2="1340.7" stroke="#C8C8C8" stroke-width="1.6" stroke-dasharray="8,7.5"/>
<line x1="894.8" y1="1369.5" x2="1437.8" y2="1369.5" stroke="#C8C8C8" stroke-width="1.6" stroke-dasharray="8,7.5"/>
<line x1="894.8" y1="1398.3" x2="1437.8" y2="1398.3" stroke="#C8C8C8" stroke-width="1.6" stroke-dasharray="8,7.5"/>
<line x1="894.8" y1="1427.1" x2="1437.8" y2="1427.1" stroke="#C8C8C8" stroke-width="1.6" stroke-dasharray="8,7.5"/>
<line x1="894.8" y1="1456.0" x2="1437.8" y2="1456.0" stroke="#C8C8C8" stroke-width="1.6" stroke-dasharray="8,7.5"/>
<line x1="1146.0" y1="1323.4" x2="1146.0" y2="1463.6" stroke="#555" stroke-width="1.2" stroke-dasharray="12,5"/>
<line x1="894.8" y1="1222.2" x2="1437.8" y2="1222.2" stroke="#666" stroke-width="2" />
<path d="M895.7,1398.0 L895.7,1340.0 L897.0,1360.0 L905.0,1375.0 L930.0,1383.0 L1000.0,1388.0 L1146.0,1396.0 L1200.0,1399.0 L1300.0,1403.0 L1380.0,1408.0 L1400.0,1415.0 L1408.0,1430.0 L1410.0,1457.0 L1410.0,1398.0" stroke="none" stroke-width="0" fill="#BDBDBD" />
<rect x="896.2" y="1233.5" width="511.0" height="69.0" fill="#000" />
<rect x="924.7" y="1233.5" width="1.9" height="69.0" fill="#8A8A8A" />
<rect x="938.1" y="1233.5" width="1.6" height="69.0" fill="#8A8A8A" />
<rect x="953.6" y="1233.5" width="1.6" height="69.0" fill="#8A8A8A" />
<rect x="971.2" y="1233.5" width="5.6" height="69.0" fill="#FFFFFF" />
<rect x="983.6" y="1233.5" width="1.9" height="69.0" fill="#FFFFFF" />
<rect x="989.8" y="1233.5" width="7.1" height="69.0" fill="#FFFFFF" />
<rect x="1004.7" y="1233.5" width="6.2" height="69.0" fill="#FFFFFF" />
<rect x="1014.6" y="1233.5" width="15.5" height="69.0" fill="#FFFFFF" />
<rect x="1045.6" y="1233.5" width="5.6" height="69.0" fill="#FFFFFF" />
<rect x="1063.6" y="1233.5" width="5.3" height="69.0" fill="#FFFFFF" />
<rect x="1077.6" y="1233.5" width="2.2" height="69.0" fill="#8A8A8A" />
<rect x="1082.2" y="1233.5" width="3.7" height="69.0" fill="#8A8A8A" />
<rect x="1095.3" y="1233.5" width="8.7" height="69.0" fill="#FFFFFF" />
<rect x="1111.1" y="1233.5" width="8.4" height="69.0" fill="#FFFFFF" />
<rect x="1136.5" y="1233.5" width="4.7" height="69.0" fill="#FFFFFF" />
<rect x="1152.0" y="1233.5" width="4.0" height="69.0" fill="#FFFFFF" />
<rect x="1160.7" y="1233.5" width="4.3" height="69.0" fill="#FFFFFF" />
<rect x="1172.8" y="1233.5" width="1.2" height="69.0" fill="#8A8A8A" />
<rect x="1177.7" y="1233.5" width="1.2" height="69.0" fill="#8A8A8A" />
<rect x="1187.0" y="1233.5" width="1.2" height="69.0" fill="#8A8A8A" />
<rect x="1192.3" y="1233.5" width="2.2" height="69.0" fill="#FFFFFF" />
<rect x="1202.5" y="1233.5" width="14.6" height="69.0" fill="#FFFFFF" />
<rect x="1228.6" y="1233.5" width="5.0" height="69.0" fill="#FFFFFF" />
<rect x="1237.9" y="1233.5" width="2.5" height="69.0" fill="#FFFFFF" />
<rect x="1252.1" y="1233.5" width="3.7" height="69.0" fill="#FFFFFF" />
<rect x="1259.6" y="1233.5" width="7.8" height="69.0" fill="#FFFFFF" />
<rect x="1276.0" y="1233.5" width="2.2" height="69.0" fill="#FFFFFF" />
<rect x="1283.8" y="1233.5" width="3.1" height="69.0" fill="#FFFFFF" />
<rect x="1294.6" y="1233.5" width="3.1" height="69.0" fill="#FFFFFF" />
<rect x="1301.8" y="1233.5" width="17.7" height="69.0" fill="#FFFFFF" />
<rect x="1322.5" y="1233.5" width="6.8" height="69.0" fill="#FFFFFF" />
<rect x="1343.3" y="1233.5" width="1.9" height="69.0" fill="#8A8A8A" />
<rect x="1352.0" y="1233.5" width="3.1" height="69.0" fill="#FFFFFF" />
<rect x="1361.9" y="1233.5" width="5.0" height="69.0" fill="#FFFFFF" />
<rect x="1374.3" y="1233.5" width="5.6" height="69.0" fill="#FFFFFF" />
<rect x="1389.2" y="1233.5" width="1.6" height="69.0" fill="#FFFFFF" />
<rect x="1393.8" y="1233.5" width="9.3" height="69.0" fill="#FFFFFF" />
<rect x="896.2" y="1305.5" width="8.7" height="14.4" fill="#E03A3A" />
<rect x="904.9" y="1305.5" width="82.8" height="14.4" fill="#F85555" />
<rect x="987.7" y="1305.5" width="43.4" height="14.4" fill="#F86E7A" />
<rect x="1031.1" y="1305.5" width="54.2" height="14.4" fill="#F88888" />
<rect x="1085.3" y="1305.5" width="63.6" height="14.4" fill="#FCB8E0" />
<rect x="1148.9" y="1305.5" width="55.8" height="14.4" fill="#D0D0FA" />
<rect x="1204.7" y="1305.5" width="54.9" height="14.4" fill="#C0C0F6" />
<rect x="1259.6" y="1305.5" width="44.3" height="14.4" fill="#8888F5" />
<rect x="1303.9" y="1305.5" width="82.2" height="14.4" fill="#5A50E0" />
<rect x="1386.1" y="1305.5" width="15.5" height="14.4" fill="#2A0AD0" />
<rect x="1401.6" y="1305.5" width="9.3" height="14.4" fill="#4010B0" />
<path d="M896.0,1223.6 L896.5,1219.0 L896.5,1213.5 L896.1,1206.6 L896.3,1198.5 L896.5,1189.7 L897.2,1182.9 L897.1,1174.4 L898.0,1169.2 L898.2,1162.6 L899.0,1156.7 L899.3,1152.2 L898.8,1147.2 L899.4,1144.0 L899.7,1139.3 L900.7,1134.9 L901.0,1130.4 L900.7,1127.0 L901.8,1123.9 L901.6,1121.0 L902.1,1117.5 L902.9,1115.3 L902.6,1112.2 L903.4,1109.9 L904.3,1106.0 L905.3,1102.9 L905.5,1101.2 L906.1,1098.0 L907.0,1095.7 L908.9,1092.8 L910.1,1089.7 L910.9,1087.6 L911.8,1084.6 L913.1,1082.7 L913.5,1079.4 L914.0,1076.5 L915.6,1074.2 L916.7,1070.1 L917.2,1068.1 L917.8,1065.2 L919.1,1062.3 L920.2,1061.5 L921.5,1058.8 L923.1,1058.3 L924.1,1056.1 L926.1,1055.5 L927.8,1054.1 L928.6,1051.9 L930.1,1051.3 L932.3,1048.4 L932.9,1046.9 L934.5,1045.8 L936.5,1043.8 L937.4,1042.5 L939.4,1041.2 L941.7,1039.9 L942.7,1038.4 L944.5,1036.0 L946.3,1036.0 L947.8,1034.7 L948.8,1032.8 L950.0,1032.0 L951.5,1029.9 L953.2,1029.1 L954.9,1028.1 L956.0,1027.5 L957.6,1027.3 L959.0,1027.7 L961.2,1025.9 L962.3,1026.0 L964.0,1025.3 L966.2,1026.7 L967.5,1025.8 L968.8,1025.2 L970.9,1025.6 L973.3,1025.8 L974.3,1027.6 L976.9,1026.6 L978.9,1026.9 L980.9,1029.2 L983.4,1029.3 L984.9,1029.3 L987.0,1030.6 L989.8,1031.4 L991.9,1031.1 L994.9,1033.3 L997.3,1033.8 L999.6,1034.6 L1001.3,1035.1 L1003.8,1035.3 L1005.7,1036.8 L1008.3,1038.7 L1011.4,1039.5 L1013.7,1041.7 L1016.1,1041.8 L1017.5,1042.7 L1019.8,1043.9 L1022.7,1046.3 L1025.2,1046.6 L1027.2,1048.3 L1028.8,1049.1 L1032.1,1050.5 L1034.2,1051.1 L1035.9,1052.9 L1038.6,1054.2 L1041.9,1054.9 L1043.9,1057.4 L1047.0,1057.5 L1049.0,1059.1 L1052.7,1061.9 L1054.6,1063.5 L1058.3,1064.8 L1060.3,1066.2 L1062.7,1066.8 L1066.4,1069.4 L1068.5,1071.4 L1071.1,1072.8 L1074.2,1073.1 L1076.3,1074.8 L1079.0,1077.0 L1081.9,1078.4 L1084.7,1081.0 L1087.9,1082.0 L1091.1,1084.7 L1093.9,1086.6 L1097.1,1087.9 L1100.3,1089.0 L1103.5,1091.3 L1106.4,1094.5 L1110.2,1096.1 L1114.6,1098.5 L1118.0,1100.7 L1122.2,1103.5 L1125.6,1105.5 L1129.8,1107.4 L1134.4,1110.2 L1138.1,1113.1 L1142.4,1115.0 L1145.9,1117.6 L1149.7,1120.5 L1153.5,1122.9 L1157.4,1126.2 L1161.6,1128.6 L1165.7,1130.0 L1169.2,1133.6 L1173.4,1134.4 L1176.4,1137.2 L1180.2,1138.9 L1184.1,1141.8 L1188.8,1144.3 L1191.9,1146.0 L1196.4,1147.0 L1200.6,1150.6 L1203.8,1152.8 L1208.2,1154.4 L1213.1,1157.4 L1216.4,1159.1 L1220.9,1161.2 L1224.3,1163.3 L1228.4,1164.6 L1231.2,1166.8 L1232.9,1167.6 L1235.3,1168.4 L1235.9,1169.4 L1237.8,1169.4 L1238.1,1168.1 L1239.2,1169.2 L1241.1,1168.4 L1243.4,1170.7 L1246.6,1170.9 L1249.0,1173.9 L1252.9,1175.5 L1256.0,1176.5 L1260.5,1179.4 L1263.5,1182.5 L1268.0,1184.2 L1270.9,1186.1 L1274.4,1187.7 L1278.5,1188.2 L1282.3,1190.7 L1285.7,1190.5 L1289.6,1192.0 L1292.5,1193.1 L1295.7,1194.4 L1299.1,1195.9 L1302.4,1197.3 L1304.7,1198.5 L1307.0,1199.7 L1309.3,1201.2 L1312.1,1203.5 L1313.5,1204.8 L1316.5,1205.4 L1318.3,1207.1 L1319.8,1208.9 L1321.5,1209.3 L1323.5,1211.1 L1324.7,1211.8 L1326.6,1212.2 L1327.7,1212.3 L1328.6,1212.4 L1329.8,1213.8 L1331.0,1212.8 L1331.5,1213.8 L1333.0,1213.0 L1332.8,1211.7 L1333.3,1211.5 L1333.8,1210.9 L1334.9,1211.4 L1337.1,1210.4 L1337.9,1211.1 L1340.0,1210.1 L1342.0,1210.3 L1345.0,1210.8 L1347.2,1211.0 L1349.6,1210.9 L1352.2,1211.4 L1354.6,1210.9 L1357.3,1211.5 L1360.1,1212.1 L1362.8,1212.5 L1365.2,1213.0 L1367.3,1212.1 L1370.3,1212.0 L1372.1,1213.2 L1373.2,1214.0 L1375.8,1214.3 L1377.0,1215.6 L1377.6,1216.1 L1379.1,1217.8 L1380.5,1218.8 L1381.2,1219.7 L1382.3,1219.9 L1382.7,1218.8 L1383.5,1218.8 L1384.2,1218.7 L1385.5,1216.9 L1386.3,1215.5 L1386.8,1212.7 L1387.9,1212.6 L1388.3,1211.0 L1389.4,1209.5 L1390.5,1209.6 L1390.8,1209.7 L1392.8,1209.9 L1394.0,1211.7 L1395.0,1211.3 L1396.2,1212.4 L1397.7,1213.0 L1398.7,1212.6 L1399.1,1213.6 L1400.8,1214.5 L1401.6,1214.9 L1402.0,1216.3 L1403.7,1217.9 L1404.6,1218.0 L1405.4,1219.0 L1406.3,1218.9 L1407.8,1219.4 L1409.0,1220.8 L1409.0,1220.0 L1411.0,1220.8 L1411.6,1219.5 L1412.3,1220.5 L1413.1,1219.8 L1413.6,1219.6" stroke="#00FF00" stroke-width="7" fill="none" stroke-linejoin="round" stroke-linecap="round"/>
<path d="M896.0,1226.8 L896.5,1222.2 L896.5,1216.7 L896.1,1209.8 L896.3,1201.7 L896.5,1192.9 L897.2,1186.1 L897.1,1177.6 L898.0,1172.4 L898.2,1165.8 L899.0,1159.9 L899.3,1155.4 L898.8,1150.4 L899.4,1147.2 L899.7,1142.5 L900.7,1138.1 L901.0,1133.6 L900.7,1130.2 L901.8,1127.1 L901.6,1124.2 L902.1,1120.7 L902.9,1118.5 L902.6,1115.4 L903.4,1113.1 L904.3,1109.2 L905.3,1106.1 L905.5,1104.4 L906.1,1101.2 L907.0,1098.9 L908.9,1096.0 L910.1,1092.9 L910.9,1090.8 L911.8,1087.8 L913.1,1085.9 L913.5,1082.6 L914.0,1079.7 L915.6,1077.4 L916.7,1073.3 L917.2,1071.3 L917.8,1068.4 L919.1,1065.5 L920.2,1064.7 L921.5,1062.0 L923.1,1061.5 L924.1,1059.3 L926.1,1058.7 L927.8,1057.3 L928.6,1055.1 L930.1,1054.5 L932.3,1051.6 L932.9,1050.1 L934.5,1049.0 L936.5,1047.0 L937.4,1045.7 L939.4,1044.4 L941.7,1043.1 L942.7,1041.6 L944.5,1039.2 L946.3,1039.2 L947.8,1037.9 L948.8,1036.0 L950.0,1035.2 L951.5,1033.1 L953.2,1032.3 L954.9,1031.3 L956.0,1030.7 L957.6,1030.5 L959.0,1030.9 L961.2,1029.1 L962.3,1029.2 L964.0,1028.5 L966.2,1029.9 L967.5,1029.0 L968.8,1028.4 L970.9,1028.8 L973.3,1029.0 L974.3,1030.8 L976.9,1029.8 L978.9,1030.1 L980.9,1032.4 L983.4,1032.5 L984.9,1032.5 L987.0,1033.8 L989.8,1034.6 L991.9,1034.3 L994.9,1036.5 L997.3,1037.0 L999.6,1037.8 L1001.3,1038.3 L1003.8,1038.5 L1005.7,1040.0 L1008.3,1041.9 L1011.4,1042.7 L1013.7,1044.9 L1016.1,1045.0 L1017.5,1045.9 L1019.8,1047.1 L1022.7,1049.5 L1025.2,1049.8 L1027.2,1051.5 L1028.8,1052.3 L1032.1,1053.7 L1034.2,1054.3 L1035.9,1056.1 L1038.6,1057.4 L1041.9,1058.1 L1043.9,1060.6 L1047.0,1060.7 L1049.0,1062.3 L1052.7,1065.1 L1054.6,1066.7 L1058.3,1068.0 L1060.3,1069.4 L1062.7,1070.0 L1066.4,1072.6 L1068.5,1074.6 L1071.1,1076.0 L1074.2,1076.3 L1076.3,1078.0 L1079.0,1080.2 L1081.9,1081.6 L1084.7,1084.2 L1087.9,1085.2 L1091.1,1087.9 L1093.9,1089.8 L1097.1,1091.1 L1100.3,1092.2 L1103.5,1094.5 L1106.4,1097.7 L1110.2,1099.3 L1114.6,1101.7 L1118.0,1103.9 L1122.2,1106.7 L1125.6,1108.7 L1129.8,1110.6 L1134.4,1113.4 L1138.1,1116.3 L1142.4,1118.2 L1145.9,1120.8 L1149.7,1123.7 L1153.5,1126.1 L1157.4,1129.4 L1161.6,1131.8 L1165.7,1133.2 L1169.2,1136.8 L1173.4,1137.6 L1176.4,1140.4 L1180.2,1142.1 L1184.1,1145.0 L1188.8,1147.5 L1191.9,1149.2 L1196.4,1150.2 L1200.6,1153.8 L1203.8,1156.0 L1208.2,1157.6 L1213.1,1160.6 L1216.4,1162.3 L1220.9,1164.4 L1224.3,1166.5 L1228.4,1167.8 L1231.2,1170.0 L1232.9,1170.8 L1235.3,1171.6 L1235.9,1172.6 L1237.8,1172.6 L1238.1,1171.3 L1239.2,1172.4 L1241.1,1171.6 L1243.4,1173.9 L1246.6,1174.1 L1249.0,1177.1 L1252.9,1178.7 L1256.0,1179.7 L1260.5,1182.6 L1263.5,1185.7 L1268.0,1187.4 L1270.9,1189.3 L1274.4,1190.9 L1278.5,1191.4 L1282.3,1193.9 L1285.7,1193.7 L1289.6,1195.2 L1292.5,1196.3 L1295.7,1197.6 L1299.1,1199.1 L1302.4,1200.5 L1304.7,1201.7 L1307.0,1202.9 L1309.3,1204.4 L1312.1,1206.7 L1313.5,1208.0 L1316.5,1208.6 L1318.3,1210.3 L1319.8,1212.1 L1321.5,1212.5 L1323.5,1214.3 L1324.7,1215.0 L1326.6,1215.4 L1327.7,1215.5 L1328.6,1215.6 L1329.8,1217.0 L1331.0,1216.0 L1331.5,1217.0 L1333.0,1216.2 L1332.8,1214.9 L1333.3,1214.7 L1333.8,1214.1 L1334.9,1214.6 L1337.1,1213.6 L1337.9,1214.3 L1340.0,1213.3 L1342.0,1213.5 L1345.0,1214.0 L1347.2,1214.2 L1349.6,1214.1 L1352.2,1214.6 L1354.6,1214.1 L1357.3,1214.7 L1360.1,1215.3 L1362.8,1215.7 L1365.2,1216.2 L1367.3,1215.3 L1370.3,1215.2 L1372.1,1216.4 L1373.2,1217.2 L1375.8,1217.5 L1377.0,1218.8 L1377.6,1219.3 L1379.1,1221.0 L1380.5,1222.0 L1381.2,1222.9 L1382.3,1223.1 L1382.7,1222.0 L1383.5,1222.0 L1384.2,1221.9 L1385.5,1220.1 L1386.3,1218.7 L1386.8,1215.9 L1387.9,1215.8 L1388.3,1214.2 L1389.4,1212.7 L1390.5,1212.8 L1390.8,1212.9 L1392.8,1213.1 L1394.0,1214.9 L1395.0,1214.5 L1396.2,1215.6 L1397.7,1216.2 L1398.7,1215.8 L1399.1,1216.8 L1400.8,1217.7 L1401.6,1218.1 L1402.0,1219.5 L1403.7,1221.1 L1404.6,1221.2 L1405.4,1222.2 L1406.3,1222.1 L1407.8,1222.6 L1409.0,1224.0 L1409.0,1223.2 L1411.0,1224.0 L1411.6,1222.7 L1412.3,1223.7 L1413.1,1223.0 L1413.6,1222.8" stroke="#00FF00" stroke-width="7" fill="none" stroke-linejoin="round" stroke-linecap="round"/>
<rect x="894.8" y="1020.2" width="543.0" height="443.4" fill="none" stroke="#8A8A8A" stroke-width="2.6"/>
<line x1="894.8" y1="1232.0" x2="1437.8" y2="1232.0" stroke="#8A8A8A" stroke-width="2.4" />
<line x1="894.8" y1="1304.0" x2="1437.8" y2="1304.0" stroke="#8A8A8A" stroke-width="2.4" />
<line x1="894.8" y1="1321.4" x2="1437.8" y2="1321.4" stroke="#8A8A8A" stroke-width="2.4" />
<line x1="889.8" y1="1048.8" x2="894.8" y2="1048.8" stroke="#8A8A8A" stroke-width="2" />
<text x="887.8" y="1055.8" font-size="22" text-anchor="end" fill="#555">0.5</text>
<line x1="889.8" y1="1083.5" x2="894.8" y2="1083.5" stroke="#8A8A8A" stroke-width="2" />
<text x="887.8" y="1090.5" font-size="22" text-anchor="end" fill="#555">0.4</text>
<line x1="889.8" y1="1118.2" x2="894.8" y2="1118.2" stroke="#8A8A8A" stroke-width="2" />
<text x="887.8" y="1125.2" font-size="22" text-anchor="end" fill="#555">0.3</text>
<line x1="889.8" y1="1152.8" x2="894.8" y2="1152.8" stroke="#8A8A8A" stroke-width="2" />
<text x="887.8" y="1159.8" font-size="22" text-anchor="end" fill="#555">0.2</text>
<line x1="889.8" y1="1187.5" x2="894.8" y2="1187.5" stroke="#8A8A8A" stroke-width="2" />
<text x="887.8" y="1194.5" font-size="22" text-anchor="end" fill="#555">0.1</text>
<line x1="889.8" y1="1222.2" x2="894.8" y2="1222.2" stroke="#8A8A8A" stroke-width="2" />
<text x="887.8" y="1229.2" font-size="22" text-anchor="end" fill="#555">0.0</text>
<line x1="889.8" y1="1340.7" x2="894.8" y2="1340.7" stroke="#8A8A8A" stroke-width="2" />
<text x="888.8" y="1347.2" font-size="20" text-anchor="end" fill="#333">4</text>
<line x1="889.8" y1="1369.5" x2="894.8" y2="1369.5" stroke="#8A8A8A" stroke-width="2" />
<text x="888.8" y="1376.0" font-size="20" text-anchor="end" fill="#333">2</text>
<line x1="889.8" y1="1398.3" x2="894.8" y2="1398.3" stroke="#8A8A8A" stroke-width="2" />
<text x="888.8" y="1404.8" font-size="20" text-anchor="end" fill="#333">0</text>
<line x1="889.8" y1="1427.1" x2="894.8" y2="1427.1" stroke="#8A8A8A" stroke-width="2" />
<text x="888.8" y="1433.6" font-size="20" text-anchor="end" fill="#333">-2</text>
<line x1="889.8" y1="1456.0" x2="894.8" y2="1456.0" stroke="#8A8A8A" stroke-width="2" />
<text x="888.8" y="1462.5" font-size="20" text-anchor="end" fill="#333">-4</text>
<line x1="895.7" y1="1463.6" x2="895.7" y2="1468.6" stroke="#8A8A8A" stroke-width="2" />
<text x="895.7" y="1486.8" font-size="20" text-anchor="middle" fill="#333">0</text>
<line x1="965.0" y1="1463.6" x2="965.0" y2="1468.6" stroke="#8A8A8A" stroke-width="2" />
<text x="965.0" y="1486.8" font-size="20" text-anchor="middle" fill="#333">2,000</text>
<line x1="1034.3" y1="1463.6" x2="1034.3" y2="1468.6" stroke="#8A8A8A" stroke-width="2" />
<text x="1034.3" y="1486.8" font-size="20" text-anchor="middle" fill="#333">4,000</text>
<line x1="1103.5" y1="1463.6" x2="1103.5" y2="1468.6" stroke="#8A8A8A" stroke-width="2" />
<text x="1103.5" y="1486.8" font-size="20" text-anchor="middle" fill="#333">6,000</text>
<line x1="1172.8" y1="1463.6" x2="1172.8" y2="1468.6" stroke="#8A8A8A" stroke-width="2" />
<text x="1172.8" y="1486.8" font-size="20" text-anchor="middle" fill="#333">8,000</text>
<line x1="1242.1" y1="1463.6" x2="1242.1" y2="1468.6" stroke="#8A8A8A" stroke-width="2" />
<text x="1242.1" y="1486.8" font-size="20" text-anchor="middle" fill="#333">10,000</text>
<line x1="1311.4" y1="1463.6" x2="1311.4" y2="1468.6" stroke="#8A8A8A" stroke-width="2" />
<text x="1311.4" y="1486.8" font-size="20" text-anchor="middle" fill="#333">12,000</text>
<line x1="1380.7" y1="1463.6" x2="1380.7" y2="1468.6" stroke="#8A8A8A" stroke-width="2" />
<text x="1380.7" y="1486.8" font-size="20" text-anchor="middle" fill="#333">14,000</text>
<text x="845.0" y="1125.0" font-size="20" font-weight="bold" text-anchor="middle" fill="#222" textLength="221.0" lengthAdjust="spacingAndGlyphs" transform="rotate(-90 845.0 1125.0)">Enrichment score (ES)</text>
<text x="844.3" y="1391.0" font-size="22" text-anchor="middle" fill="#222" textLength="163.0" lengthAdjust="spacingAndGlyphs" transform="rotate(-90 844.3 1391.0)">Ranked list metric</text>
<text x="866.0" y="1405.5" font-size="21.5" text-anchor="middle" fill="#222" textLength="134.0" lengthAdjust="spacingAndGlyphs" transform="rotate(-90 866.0 1405.5)">(Signal2Noise)</text>
<text x="1146.0" y="1512.7" font-size="20.5" text-anchor="middle" fill="#222" textLength="229.7" lengthAdjust="spacingAndGlyphs">Rank in Ordered Dataset</text>
<rect x="885.4" y="1528.3" width="25.0" height="8.5" fill="#1EF01E" />
<text x="918.0" y="1537.3" font-size="20" fill="#222" textLength="165.4" lengthAdjust="spacingAndGlyphs">Enrichment profile</text>
<rect x="1107.1" y="1530.8" width="21.0" height="3.5" fill="#000" />
<text x="1137.0" y="1537.3" font-size="20" fill="#222" textLength="35.8" lengthAdjust="spacingAndGlyphs">Hits</text>
<rect x="1188.4" y="1530.8" width="20.2" height="3.5" fill="#C4C4C4" />
<text x="1218.8" y="1537.3" font-size="20" fill="#222" textLength="204.3" lengthAdjust="spacingAndGlyphs">Ranking metric scores</text>
<text x="938.2" y="1081.5" font-size="39.5" fill="#000" textLength="455.8" lengthAdjust="spacingAndGlyphs">NES = 2.51 FDR &lt; 0.001</text>
<text x="942.6" y="1206.6" font-size="40.5" font-weight="bold" fill="#000" textLength="117.0" lengthAdjust="spacingAndGlyphs">NF-kB</text>
<text x="900.2" y="1347.4" font-size="20.3" fill="#E84545" textLength="199.7" lengthAdjust="spacingAndGlyphs">'Ku80_CDKi_IAA_D4'</text>
<text x="900.2" y="1370.6" font-size="20.3" fill="#E84545" textLength="198.0" lengthAdjust="spacingAndGlyphs">(positively correlated)</text>
<text x="1063.3" y="1399.7" font-size="20.3" fill="#333" textLength="173.4" lengthAdjust="spacingAndGlyphs">Zero cross at 7371</text>
<text x="1226.4" y="1427.8" font-size="20.3" fill="#4A4AE8" textLength="157.8" lengthAdjust="spacingAndGlyphs">'Ku80_CDKi_ctrl'</text>
<text x="1226.4" y="1454.6" font-size="20.3" fill="#4A4AE8" textLength="205.6" lengthAdjust="spacingAndGlyphs">(negatively correlated)</text>
<text x="542.3" y="61.2" font-size="84.5" font-weight="bold">b</text>
<text x="1296.4" y="61.1" font-size="84" font-weight="bold">c</text>
<text x="683.9" y="896.1" font-size="85" font-weight="bold">d</text>
<text x="-3.1" y="1675.8" font-size="84.5" font-weight="bold">e</text>
<text x="543.6" y="1675.5" font-size="85" font-weight="bold">f</text>
<text x="1012.8" y="1675.8" font-size="84.5" font-weight="bold">g</text>
<text x="1477.1" y="1675.5" font-size="84" font-weight="bold">h</text>
<text x="589.7" y="114.6" font-size="40" font-weight="bold" textLength="677.0" lengthAdjust="spacingAndGlyphs">CDK4/6i and IAA&amp;Dox 48hr (Day2)</text>
<text x="1342.7" y="114.6" font-size="40" font-weight="bold" textLength="678.0" lengthAdjust="spacingAndGlyphs">CDK4/6i and IAA&amp;Dox 96hr (Day4)</text>
<text x="802.5" y="901.9" font-size="40" font-weight="bold" textLength="675.4" lengthAdjust="spacingAndGlyphs">CDK4/6i and IAA&amp;Dox 96hr (Day4)</text>
<text x="333.0" y="1692.5" font-size="34" text-anchor="middle" textLength="168.7" lengthAdjust="spacingAndGlyphs">GADD45B</text>
<text x="120.8" y="1927.5" font-size="34" text-anchor="middle" textLength="375.5" lengthAdjust="spacingAndGlyphs" transform="rotate(-90 120.8 1927.5)">Relative mRNA Expression</text>
<line x1="181.8" y1="1724.5" x2="181.8" y2="2117.2" stroke="#000" stroke-width="5.5" />
<line x1="164.4" y1="2114.5" x2="483.0" y2="2114.5" stroke="#000" stroke-width="6.0" />
<line x1="165.8" y1="2114.5" x2="181.8" y2="2114.5" stroke="#000" stroke-width="5.5" />
<text x="160.0" y="2124.9" font-size="29" text-anchor="end">0</text>
<line x1="165.8" y1="1985.3" x2="181.8" y2="1985.3" stroke="#000" stroke-width="5.5" />
<text x="160.0" y="1995.7" font-size="29" text-anchor="end">2</text>
<line x1="165.8" y1="1856.1" x2="181.8" y2="1856.1" stroke="#000" stroke-width="5.5" />
<text x="160.0" y="1866.5" font-size="29" text-anchor="end">4</text>
<line x1="165.8" y1="1726.9" x2="181.8" y2="1726.9" stroke="#000" stroke-width="5.5" />
<text x="160.0" y="1737.3" font-size="29" text-anchor="end">6</text>
<line x1="202.0" y1="2114.5" x2="202.0" y2="2133.5" stroke="#000" stroke-width="5.5" />
<line x1="244.8" y1="2114.5" x2="244.8" y2="2133.5" stroke="#000" stroke-width="5.5" />
<line x1="288.0" y1="2114.5" x2="288.0" y2="2133.5" stroke="#000" stroke-width="5.5" />
<line x1="330.9" y1="2114.5" x2="330.9" y2="2133.5" stroke="#000" stroke-width="5.5" />
<line x1="373.6" y1="2114.5" x2="373.6" y2="2133.5" stroke="#000" stroke-width="5.5" />
<line x1="415.7" y1="2114.5" x2="415.7" y2="2133.5" stroke="#000" stroke-width="5.5" />
<line x1="458.9" y1="2114.5" x2="458.9" y2="2133.5" stroke="#000" stroke-width="5.5" />
<text x="209.0" y="2156.0" font-size="28.5" text-anchor="end" transform="rotate(-45 209.0 2156.0)">Parental DMSO</text>
<text x="251.8" y="2156.0" font-size="28.5" text-anchor="end" transform="rotate(-45 251.8 2156.0)">Parental IAA&amp;Dox</text>
<text x="295.0" y="2156.0" font-size="28.5" text-anchor="end" transform="rotate(-45 295.0 2156.0)">Ku80-AID DMSO</text>
<text x="337.9" y="2156.0" font-size="28.5" text-anchor="end" transform="rotate(-45 337.9 2156.0)">Ku80-AID IAA&amp;Dox</text>
<text x="380.6" y="2156.0" font-size="28.5" text-anchor="end" transform="rotate(-45 380.6 2156.0)">Poly I:C</text>
<text x="422.7" y="2156.0" font-size="28.5" text-anchor="end" transform="rotate(-45 422.7 2156.0)">HEK293 +Dox</text>
<text x="465.9" y="2156.0" font-size="28.5" text-anchor="end" transform="rotate(-45 465.9 2156.0)">HEK293 −Dox</text>
<circle cx="197.7" cy="2099.6" r="5.6" fill="none" stroke="#111" stroke-width="1.8" />
<circle cx="208.1" cy="2099.7" r="5.6" fill="none" stroke="#111" stroke-width="1.8" />
<circle cx="203.7" cy="2099.8" r="5.6" fill="none" stroke="#111" stroke-width="1.8" />
<circle cx="206.3" cy="2100.0" r="5.6" fill="none" stroke="#111" stroke-width="1.8" />
<circle cx="197.0" cy="2100.1" r="5.6" fill="none" stroke="#111" stroke-width="1.8" />
<circle cx="209.3" cy="2100.3" r="5.6" fill="none" stroke="#111" stroke-width="1.8" />
<circle cx="208.1" cy="2100.4" r="5.6" fill="none" stroke="#111" stroke-width="1.8" />
<circle cx="202.8" cy="2100.6" r="5.6" fill="none" stroke="#111" stroke-width="1.8" />
<circle cx="199.3" cy="2100.8" r="5.6" fill="none" stroke="#111" stroke-width="1.8" />
<circle cx="210.4" cy="2100.8" r="5.6" fill="none" stroke="#111" stroke-width="1.8" />
<circle cx="195.9" cy="2101.0" r="5.6" fill="none" stroke="#111" stroke-width="1.8" />
<circle cx="211.0" cy="2101.1" r="5.6" fill="none" stroke="#111" stroke-width="1.8" />
<circle cx="199.1" cy="2101.3" r="5.6" fill="none" stroke="#111" stroke-width="1.8" />
<circle cx="196.0" cy="2101.4" r="5.6" fill="none" stroke="#111" stroke-width="1.8" />
<circle cx="205.1" cy="2099.5" r="5.6" fill="none" stroke="#222" stroke-width="1.8" />
<circle cx="211.4" cy="2100.0" r="5.6" fill="none" stroke="#222" stroke-width="1.8" />
<circle cx="203.2" cy="2100.2" r="5.6" fill="none" stroke="#222" stroke-width="1.8" />
<circle cx="199.0" cy="2100.3" r="5.6" fill="none" stroke="#222" stroke-width="1.8" />
<circle cx="200.3" cy="2100.7" r="5.6" fill="none" stroke="#222" stroke-width="1.8" />
<circle cx="199.0" cy="2101.0" r="5.6" fill="none" stroke="#222" stroke-width="1.8" />
<circle cx="196.7" cy="2101.0" r="5.6" fill="none" stroke="#222" stroke-width="1.8" />
<circle cx="197.0" cy="2101.4" r="5.6" fill="none" stroke="#222" stroke-width="1.8" />
<circle cx="253.4" cy="2105.4" r="6.0" fill="#000" />
<circle cx="238.8" cy="2105.4" r="6.0" fill="#000" />
<circle cx="251.4" cy="2105.4" r="6.0" fill="#000" />
<circle cx="248.7" cy="2105.4" r="6.0" fill="#000" />
<circle cx="247.7" cy="2105.4" r="6.0" fill="#000" />
<circle cx="247.3" cy="2105.4" r="6.0" fill="#000" />
<circle cx="244.9" cy="2105.5" r="6.0" fill="#000" />
<circle cx="249.6" cy="2105.5" r="6.0" fill="#000" />
<circle cx="253.3" cy="2105.5" r="6.0" fill="#000" />
<circle cx="245.1" cy="2105.5" r="6.0" fill="#000" />
<circle cx="238.5" cy="2105.5" r="6.0" fill="#000" />
<circle cx="245.4" cy="2105.5" r="6.0" fill="#000" />
<circle cx="284.4" cy="2102.6" r="6.5" fill="#0A1AF2" />
<circle cx="286.7" cy="2102.9" r="6.5" fill="#0A1AF2" />
<circle cx="291.1" cy="2103.0" r="6.5" fill="#0A1AF2" />
<circle cx="280.5" cy="2103.4" r="6.5" fill="#0A1AF2" />
<circle cx="284.8" cy="2103.5" r="6.5" fill="#0A1AF2" />
<circle cx="297.4" cy="2103.8" r="6.5" fill="#0A1AF2" />
<circle cx="294.7" cy="2104.1" r="6.5" fill="#0A1AF2" />
<circle cx="291.3" cy="2104.2" r="6.5" fill="#0A1AF2" />
<circle cx="291.2" cy="2104.7" r="6.5" fill="#0A1AF2" />
<circle cx="289.3" cy="2104.9" r="6.5" fill="#0A1AF2" />
<circle cx="291.8" cy="2104.9" r="6.5" fill="#0A1AF2" />
<circle cx="293.3" cy="2105.3" r="6.5" fill="#0A1AF2" />
<circle cx="285.5" cy="2105.4" r="6.5" fill="#0A1AF2" />
<circle cx="295.2" cy="2105.8" r="6.5" fill="#0A1AF2" />
<line x1="276.4" y1="2104.6" x2="303.2" y2="2104.6" stroke="#000" stroke-width="4" />
<circle cx="327.4" cy="2074.7" r="6.5" fill="#0A1AF2" />
<circle cx="329.9" cy="2075.4" r="6.5" fill="#0A1AF2" />
<circle cx="324.7" cy="2076.2" r="6.5" fill="#0A1AF2" />
<circle cx="338.0" cy="2077.1" r="6.5" fill="#0A1AF2" />
<circle cx="335.6" cy="2077.4" r="6.5" fill="#0A1AF2" />
<circle cx="332.1" cy="2078.1" r="6.5" fill="#0A1AF2" />
<circle cx="326.4" cy="2078.7" r="6.5" fill="#0A1AF2" />
<circle cx="327.0" cy="2079.9" r="6.5" fill="#0A1AF2" />
<circle cx="336.6" cy="2080.5" r="6.5" fill="#0A1AF2" />
<circle cx="336.2" cy="2080.7" r="6.5" fill="#0A1AF2" />
<circle cx="328.5" cy="2081.7" r="6.5" fill="#0A1AF2" />
<circle cx="335.1" cy="2082.5" r="6.5" fill="#0A1AF2" />
<circle cx="337.4" cy="2082.7" r="6.5" fill="#0A1AF2" />
<circle cx="333.2" cy="2083.7" r="6.5" fill="#0A1AF2" />
<circle cx="331.6" cy="2084.1" r="6.5" fill="#0A1AF2" />
<circle cx="331.1" cy="2084.7" r="6.5" fill="#0A1AF2" />
<circle cx="338.3" cy="2085.8" r="6.5" fill="#0A1AF2" />
<circle cx="332.2" cy="2086.1" r="6.5" fill="#0A1AF2" />
<circle cx="331.5" cy="2049.5" r="6.0" fill="#0A1AF2" />
<circle cx="331.5" cy="2053.5" r="6.0" fill="#0A1AF2" />
<line x1="317.4" y1="2077.0" x2="345.1" y2="2077.0" stroke="#000" stroke-width="4" />
<path d="M362.3,2036.5 L370.7,2036.5 L366.5,2044.5 Z" fill="none" stroke="#111" stroke-width="1.8"/>
<path d="M369.3,2036.0 L377.7,2036.0 L373.5,2044.0 Z" fill="none" stroke="#111" stroke-width="1.8"/>
<path d="M375.8,2036.5 L384.2,2036.5 L380.0,2044.5 Z" fill="none" stroke="#111" stroke-width="1.8"/>
<path d="M361.3,2050.5 L369.7,2050.5 L365.5,2058.5 Z" fill="none" stroke="#111" stroke-width="1.8"/>
<path d="M367.3,2051.0 L375.7,2051.0 L371.5,2059.0 Z" fill="none" stroke="#111" stroke-width="1.8"/>
<path d="M373.3,2050.5 L381.7,2050.5 L377.5,2058.5 Z" fill="none" stroke="#111" stroke-width="1.8"/>
<path d="M378.8,2051.0 L387.2,2051.0 L383.0,2059.0 Z" fill="none" stroke="#111" stroke-width="1.8"/>
<line x1="359.3" y1="2047.7" x2="388.6" y2="2047.7" stroke="#F020E0" stroke-width="4.5" />
<circle cx="418.8" cy="2073.9" r="6.1" fill="none" stroke="#9A40F0" stroke-width="1.8" />
<circle cx="421.7" cy="2075.3" r="6.1" fill="none" stroke="#9A40F0" stroke-width="1.8" />
<circle cx="420.8" cy="2076.4" r="6.1" fill="none" stroke="#9A40F0" stroke-width="1.8" />
<circle cx="408.8" cy="2077.1" r="6.1" fill="none" stroke="#9A40F0" stroke-width="1.8" />
<circle cx="424.2" cy="2078.4" r="6.1" fill="none" stroke="#9A40F0" stroke-width="1.8" />
<circle cx="423.5" cy="2078.9" r="6.1" fill="none" stroke="#9A40F0" stroke-width="1.8" />
<circle cx="416.2" cy="2080.2" r="6.1" fill="none" stroke="#9A40F0" stroke-width="1.8" />
<circle cx="417.5" cy="2081.7" r="6.1" fill="none" stroke="#9A40F0" stroke-width="1.8" />
<circle cx="408.5" cy="2082.5" r="6.1" fill="none" stroke="#9A40F0" stroke-width="1.8" />
<circle cx="413.0" cy="2084.4" r="6.1" fill="none" stroke="#9A40F0" stroke-width="1.8" />
<circle cx="421.2" cy="2084.7" r="6.1" fill="none" stroke="#9A40F0" stroke-width="1.8" />
<circle cx="421.8" cy="2085.8" r="6.1" fill="none" stroke="#9A40F0" stroke-width="1.8" />
<circle cx="418.7" cy="2086.9" r="6.1" fill="none" stroke="#9A40F0" stroke-width="1.8" />
<circle cx="408.3" cy="2088.9" r="6.1" fill="none" stroke="#9A40F0" stroke-width="1.8" />
<circle cx="411.8" cy="2089.3" r="6.1" fill="none" stroke="#9A40F0" stroke-width="1.8" />
<circle cx="424.9" cy="2091.2" r="6.1" fill="none" stroke="#9A40F0" stroke-width="1.8" />
<circle cx="413.2" cy="2092.5" r="6.1" fill="none" stroke="#9A40F0" stroke-width="1.8" />
<circle cx="417.4" cy="2093.3" r="6.1" fill="none" stroke="#9A40F0" stroke-width="1.8" />
<circle cx="411.8" cy="2094.7" r="6.1" fill="none" stroke="#9A40F0" stroke-width="1.8" />
<circle cx="420.0" cy="2095.9" r="6.1" fill="none" stroke="#9A40F0" stroke-width="1.8" />
<circle cx="423.4" cy="2096.3" r="6.1" fill="none" stroke="#9A40F0" stroke-width="1.8" />
<circle cx="414.4" cy="2097.2" r="6.1" fill="none" stroke="#9A40F0" stroke-width="1.8" />
<line x1="402.9" y1="2087.9" x2="430.5" y2="2087.9" stroke="#000" stroke-width="4" />
<circle cx="459.4" cy="1748.6" r="5.8" fill="#8010F4" />
<circle cx="459.0" cy="1756.1" r="5.8" fill="#8010F4" />
<circle cx="462.3" cy="1763.7" r="5.8" fill="#8010F4" />
<circle cx="457.9" cy="1771.6" r="5.8" fill="#8010F4" />
<circle cx="459.4" cy="1752.0" r="5.8" fill="#8010F4" />
<circle cx="460.0" cy="1767.0" r="5.8" fill="#8010F4" />
<circle cx="458.7" cy="1796.6" r="5.8" fill="#8010F4" />
<circle cx="461.5" cy="1797.5" r="5.8" fill="#8010F4" />
<circle cx="459.4" cy="1805.0" r="5.8" fill="#8010F4" />
<circle cx="458.2" cy="1810.0" r="5.8" fill="#8010F4" />
<circle cx="459.4" cy="1838.0" r="5.8" fill="#8010F4" />
<circle cx="459.4" cy="1973.5" r="5.8" fill="#8010F4" />
<circle cx="459.4" cy="1981.1" r="5.8" fill="#8010F4" />
<circle cx="457.5" cy="1988.0" r="5.8" fill="#8010F4" />
<circle cx="451.2" cy="1999.6" r="5.8" fill="#8010F4" />
<circle cx="458.0" cy="1994.0" r="5.8" fill="#8010F4" />
<circle cx="469.0" cy="1996.3" r="5.8" fill="#8010F4" />
<circle cx="463.7" cy="2002.2" r="5.8" fill="#8010F4" />
<circle cx="451.5" cy="1991.0" r="5.8" fill="#8010F4" />
<circle cx="466.0" cy="1999.0" r="5.8" fill="#8010F4" />
<circle cx="455.0" cy="2001.0" r="5.8" fill="#8010F4" />
<line x1="445.1" y1="1890.1" x2="473.8" y2="1890.1" stroke="#222" stroke-width="3" />
<line x1="459.1" y1="1864.8" x2="459.1" y2="1913.3" stroke="#222" stroke-width="2.2" />
<line x1="451.4" y1="1864.8" x2="467.4" y2="1864.8" stroke="#222" stroke-width="2.2" />
<line x1="451.4" y1="1913.3" x2="467.4" y2="1913.3" stroke="#222" stroke-width="2.2" />
<path d="M202.7,2081.5 L202.7,2071.0 L245.1,2071.0 L245.1,2081.5" fill="none" stroke="#111" stroke-width="2.6"/>
<text x="228.0" y="2062.0" font-size="33.5" text-anchor="middle" textLength="46.9" lengthAdjust="spacingAndGlyphs">n.s.</text>
<path d="M288.0,2038.0 L288.0,2028.4 L330.5,2028.4 L330.5,2038.0" fill="none" stroke="#111" stroke-width="2.6"/>
<text x="312.6" y="2018.6" font-size="33" text-anchor="middle" textLength="47.8" lengthAdjust="spacingAndGlyphs">n.s.</text>
<path d="M202.7,1996.3 L202.7,1985.7 L374.7,1985.7 L374.7,1996.3" fill="none" stroke="#111" stroke-width="2.6"/>
<text x="288.2" y="1971.9" font-size="33" text-anchor="middle" textLength="47.8" lengthAdjust="spacingAndGlyphs">n.s.</text>
<path d="M416.4,2037.6 L416.4,1724.8 L458.5,1724.8 L458.5,1735.2" fill="none" stroke="#111" stroke-width="2.6"/>
<text x="437.0" y="1722.5" font-size="27" font-weight="bold" text-anchor="middle" textLength="52.5" lengthAdjust="spacingAndGlyphs">****</text>
<text x="804.5" y="1701.6" font-size="34" text-anchor="middle" textLength="69.7" lengthAdjust="spacingAndGlyphs">JUN</text>
<text x="605.0" y="1924.7" font-size="34" text-anchor="middle" textLength="377.4" lengthAdjust="spacingAndGlyphs" transform="rotate(-90 605.0 1924.7)">Relative mRNA Expression</text>
<line x1="668.8" y1="1723.5" x2="668.8" y2="2116.2" stroke="#000" stroke-width="5.5" />
<line x1="648.8" y1="2113.4" x2="940.0" y2="2113.4" stroke="#000" stroke-width="6.0" />
<line x1="652.8" y1="2113.4" x2="668.8" y2="2113.4" stroke="#000" stroke-width="5.5" />
<text x="648.5" y="2123.8" font-size="29" text-anchor="end">0</text>
<line x1="652.8" y1="2016.3" x2="668.8" y2="2016.3" stroke="#000" stroke-width="5.5" />
<text x="648.5" y="2026.7" font-size="29" text-anchor="end">2</text>
<line x1="652.8" y1="1919.2" x2="668.8" y2="1919.2" stroke="#000" stroke-width="5.5" />
<text x="648.5" y="1929.6" font-size="29" text-anchor="end">4</text>
<line x1="652.8" y1="1822.1" x2="668.8" y2="1822.1" stroke="#000" stroke-width="5.5" />
<text x="648.5" y="1832.5" font-size="29" text-anchor="end">6</text>
<line x1="652.8" y1="1725.0" x2="668.8" y2="1725.0" stroke="#000" stroke-width="5.5" />
<text x="648.5" y="1735.4" font-size="29" text-anchor="end">8</text>
<line x1="690.5" y1="2113.4" x2="690.5" y2="2132.4" stroke="#000" stroke-width="5.5" />
<line x1="735.9" y1="2113.4" x2="735.9" y2="2132.4" stroke="#000" stroke-width="5.5" />
<line x1="780.5" y1="2113.4" x2="780.5" y2="2132.4" stroke="#000" stroke-width="5.5" />
<line x1="825.9" y1="2113.4" x2="825.9" y2="2132.4" stroke="#000" stroke-width="5.5" />
<line x1="871.2" y1="2113.4" x2="871.2" y2="2132.4" stroke="#000" stroke-width="5.5" />
<line x1="917.3" y1="2113.4" x2="917.3" y2="2132.4" stroke="#000" stroke-width="5.5" />
<text x="697.5" y="2155.0" font-size="28.5" text-anchor="end" transform="rotate(-45 697.5 2155.0)">Parental DMSO</text>
<text x="742.9" y="2155.0" font-size="28.5" text-anchor="end" transform="rotate(-45 742.9 2155.0)">Parental IAA&amp;Dox</text>
<text x="787.5" y="2155.0" font-size="28.5" text-anchor="end" transform="rotate(-45 787.5 2155.0)">Ku80-AID DMSO</text>
<text x="832.9" y="2155.0" font-size="28.5" text-anchor="end" transform="rotate(-45 832.9 2155.0)">Ku80-AID IAA&amp;Dox</text>
<text x="878.2" y="2155.0" font-size="28.5" text-anchor="end" transform="rotate(-45 878.2 2155.0)">HEK293 +Dox</text>
<text x="924.3" y="2155.0" font-size="28.5" text-anchor="end" transform="rotate(-45 924.3 2155.0)">HEK293 −Dox</text>
<circle cx="690.1" cy="2103.5" r="5.6" fill="none" stroke="#111" stroke-width="1.8" />
<circle cx="698.8" cy="2103.5" r="5.6" fill="none" stroke="#111" stroke-width="1.8" />
<circle cx="691.1" cy="2103.5" r="5.6" fill="none" stroke="#111" stroke-width="1.8" />
<circle cx="685.2" cy="2103.5" r="5.6" fill="none" stroke="#111" stroke-width="1.8" />
<circle cx="693.4" cy="2103.5" r="5.6" fill="none" stroke="#111" stroke-width="1.8" />
<circle cx="683.5" cy="2103.5" r="5.6" fill="none" stroke="#111" stroke-width="1.8" />
<circle cx="683.5" cy="2103.5" r="5.6" fill="none" stroke="#111" stroke-width="1.8" />
<circle cx="694.6" cy="2103.6" r="5.6" fill="none" stroke="#111" stroke-width="1.8" />
<circle cx="699.9" cy="2103.6" r="5.6" fill="none" stroke="#111" stroke-width="1.8" />
<circle cx="693.8" cy="2103.6" r="5.6" fill="none" stroke="#111" stroke-width="1.8" />
<circle cx="684.7" cy="2103.6" r="5.6" fill="none" stroke="#111" stroke-width="1.8" />
<circle cx="691.5" cy="2103.6" r="5.6" fill="none" stroke="#111" stroke-width="1.8" />
<circle cx="685.3" cy="2103.6" r="5.6" fill="none" stroke="#111" stroke-width="1.8" />
<circle cx="682.4" cy="2103.6" r="5.6" fill="none" stroke="#111" stroke-width="1.8" />
<circle cx="697.0" cy="2103.5" r="5.6" fill="none" stroke="#222" stroke-width="1.8" />
<circle cx="699.1" cy="2103.5" r="5.6" fill="none" stroke="#222" stroke-width="1.8" />
<circle cx="689.1" cy="2103.5" r="5.6" fill="none" stroke="#222" stroke-width="1.8" />
<circle cx="684.9" cy="2103.5" r="5.6" fill="none" stroke="#222" stroke-width="1.8" />
<circle cx="689.6" cy="2103.6" r="5.6" fill="none" stroke="#222" stroke-width="1.8" />
<circle cx="694.1" cy="2103.6" r="5.6" fill="none" stroke="#222" stroke-width="1.8" />
<circle cx="688.9" cy="2103.6" r="5.6" fill="none" stroke="#222" stroke-width="1.8" />
<circle cx="685.9" cy="2103.6" r="5.6" fill="none" stroke="#222" stroke-width="1.8" />
<circle cx="735.8" cy="2098.0" r="6.5" fill="#000" />
<circle cx="739.1" cy="2098.1" r="6.5" fill="#000" />
<circle cx="727.9" cy="2098.4" r="6.5" fill="#000" />
<circle cx="732.4" cy="2098.8" r="6.5" fill="#000" />
<circle cx="739.5" cy="2099.0" r="6.5" fill="#000" />
<circle cx="737.2" cy="2099.2" r="6.5" fill="#000" />
<circle cx="730.2" cy="2099.4" r="6.5" fill="#000" />
<circle cx="730.5" cy="2099.8" r="6.5" fill="#000" />
<circle cx="728.7" cy="2100.0" r="6.5" fill="#000" />
<circle cx="729.0" cy="2100.2" r="6.5" fill="#000" />
<circle cx="733.5" cy="2100.4" r="6.5" fill="#000" />
<circle cx="742.1" cy="2100.6" r="6.5" fill="#000" />
<circle cx="776.3" cy="2109.1" r="5.6" fill="#0A1AF2" />
<circle cx="784.7" cy="2109.1" r="5.6" fill="#0A1AF2" />
<circle cx="774.9" cy="2109.1" r="5.6" fill="#0A1AF2" />
<circle cx="774.1" cy="2109.1" r="5.6" fill="#0A1AF2" />
<circle cx="785.7" cy="2109.1" r="5.6" fill="#0A1AF2" />
<circle cx="781.7" cy="2109.1" r="5.6" fill="#0A1AF2" />
<circle cx="777.0" cy="2109.2" r="5.6" fill="#0A1AF2" />
<circle cx="787.7" cy="2109.2" r="5.6" fill="#0A1AF2" />
<circle cx="771.5" cy="2109.2" r="5.6" fill="#0A1AF2" />
<circle cx="774.1" cy="2109.2" r="5.6" fill="#0A1AF2" />
<circle cx="787.2" cy="2109.2" r="5.6" fill="#0A1AF2" />
<circle cx="787.5" cy="2109.2" r="5.6" fill="#0A1AF2" />
<circle cx="820.4" cy="2072.0" r="6.5" fill="#0A1AF2" />
<circle cx="829.4" cy="2072.9" r="6.5" fill="#0A1AF2" />
<circle cx="823.1" cy="2073.1" r="6.5" fill="#0A1AF2" />
<circle cx="830.7" cy="2074.1" r="6.5" fill="#0A1AF2" />
<circle cx="823.6" cy="2074.8" r="6.5" fill="#0A1AF2" />
<circle cx="825.1" cy="2075.6" r="6.5" fill="#0A1AF2" />
<circle cx="820.6" cy="2075.9" r="6.5" fill="#0A1AF2" />
<circle cx="833.5" cy="2076.7" r="6.5" fill="#0A1AF2" />
<circle cx="822.9" cy="2077.8" r="6.5" fill="#0A1AF2" />
<circle cx="829.0" cy="2078.0" r="6.5" fill="#0A1AF2" />
<circle cx="827.7" cy="2079.1" r="6.5" fill="#0A1AF2" />
<circle cx="821.3" cy="2079.8" r="6.5" fill="#0A1AF2" />
<circle cx="820.6" cy="2080.3" r="6.5" fill="#0A1AF2" />
<circle cx="820.0" cy="2080.9" r="6.5" fill="#0A1AF2" />
<circle cx="834.7" cy="2081.8" r="6.5" fill="#0A1AF2" />
<circle cx="834.9" cy="2082.5" r="6.5" fill="#0A1AF2" />
<line x1="812.1" y1="2079.1" x2="841.6" y2="2079.1" stroke="#000" stroke-width="4" />
<circle cx="878.9" cy="1940.0" r="6.1" fill="none" stroke="#9A40F0" stroke-width="1.8" />
<circle cx="875.3" cy="1940.9" r="6.1" fill="none" stroke="#9A40F0" stroke-width="1.8" />
<circle cx="879.3" cy="1941.5" r="6.1" fill="none" stroke="#9A40F0" stroke-width="1.8" />
<circle cx="877.6" cy="1942.8" r="6.1" fill="none" stroke="#9A40F0" stroke-width="1.8" />
<circle cx="877.2" cy="1943.7" r="6.1" fill="none" stroke="#9A40F0" stroke-width="1.8" />
<circle cx="867.3" cy="1944.0" r="6.1" fill="none" stroke="#9A40F0" stroke-width="1.8" />
<circle cx="874.8" cy="1944.7" r="6.1" fill="none" stroke="#9A40F0" stroke-width="1.8" />
<circle cx="867.7" cy="1945.4" r="6.1" fill="none" stroke="#9A40F0" stroke-width="1.8" />
<circle cx="877.2" cy="1946.7" r="6.1" fill="none" stroke="#9A40F0" stroke-width="1.8" />
<circle cx="876.3" cy="1946.9" r="6.1" fill="none" stroke="#9A40F0" stroke-width="1.8" />
<circle cx="878.3" cy="1947.9" r="6.1" fill="none" stroke="#9A40F0" stroke-width="1.8" />
<circle cx="867.2" cy="1948.6" r="6.1" fill="none" stroke="#9A40F0" stroke-width="1.8" />
<circle cx="869.1" cy="1976.9" r="6.1" fill="none" stroke="#9A40F0" stroke-width="1.8" />
<circle cx="869.8" cy="1978.8" r="6.1" fill="none" stroke="#9A40F0" stroke-width="1.8" />
<circle cx="869.7" cy="1981.1" r="6.1" fill="none" stroke="#9A40F0" stroke-width="1.8" />
<circle cx="867.6" cy="1983.0" r="6.1" fill="none" stroke="#9A40F0" stroke-width="1.8" />
<circle cx="864.1" cy="1984.3" r="6.1" fill="none" stroke="#9A40F0" stroke-width="1.8" />
<circle cx="868.7" cy="1985.9" r="6.1" fill="none" stroke="#9A40F0" stroke-width="1.8" />
<circle cx="874.4" cy="1988.2" r="6.1" fill="none" stroke="#9A40F0" stroke-width="1.8" />
<circle cx="875.0" cy="1991.4" r="6.1" fill="none" stroke="#9A40F0" stroke-width="1.8" />
<circle cx="867.5" cy="1993.2" r="6.1" fill="none" stroke="#9A40F0" stroke-width="1.8" />
<circle cx="875.3" cy="1994.7" r="6.1" fill="none" stroke="#9A40F0" stroke-width="1.8" />
<circle cx="864.4" cy="1996.2" r="6.1" fill="none" stroke="#9A40F0" stroke-width="1.8" />
<circle cx="872.8" cy="1997.8" r="6.1" fill="none" stroke="#9A40F0" stroke-width="1.8" />
<circle cx="867.1" cy="1999.8" r="6.1" fill="none" stroke="#9A40F0" stroke-width="1.8" />
<circle cx="867.6" cy="2002.7" r="6.1" fill="none" stroke="#9A40F0" stroke-width="1.8" />
<circle cx="868.9" cy="2003.9" r="6.1" fill="none" stroke="#9A40F0" stroke-width="1.8" />
<circle cx="873.0" cy="2006.8" r="6.1" fill="none" stroke="#9A40F0" stroke-width="1.8" />
<circle cx="868.1" cy="2007.0" r="6.1" fill="none" stroke="#9A40F0" stroke-width="1.8" />
<circle cx="877.6" cy="2010.5" r="6.1" fill="none" stroke="#9A40F0" stroke-width="1.8" />
<circle cx="875.1" cy="2011.8" r="6.1" fill="none" stroke="#9A40F0" stroke-width="1.8" />
<circle cx="867.3" cy="2013.0" r="6.1" fill="none" stroke="#9A40F0" stroke-width="1.8" />
<circle cx="868.3" cy="2015.6" r="6.1" fill="none" stroke="#9A40F0" stroke-width="1.8" />
<circle cx="864.9" cy="2018.0" r="6.1" fill="none" stroke="#9A40F0" stroke-width="1.8" />
<circle cx="874.2" cy="2018.6" r="6.1" fill="none" stroke="#9A40F0" stroke-width="1.8" />
<circle cx="875.8" cy="2021.4" r="6.1" fill="none" stroke="#9A40F0" stroke-width="1.8" />
<circle cx="876.9" cy="2023.3" r="6.1" fill="none" stroke="#9A40F0" stroke-width="1.8" />
<circle cx="875.1" cy="2025.2" r="6.1" fill="none" stroke="#9A40F0" stroke-width="1.8" />
<circle cx="872.6" cy="2027.2" r="6.1" fill="none" stroke="#9A40F0" stroke-width="1.8" />
<circle cx="864.3" cy="2028.5" r="6.1" fill="none" stroke="#9A40F0" stroke-width="1.8" />
<circle cx="867.3" cy="2030.9" r="6.1" fill="none" stroke="#9A40F0" stroke-width="1.8" />
<circle cx="869.2" cy="2033.1" r="6.1" fill="none" stroke="#9A40F0" stroke-width="1.8" />
<line x1="857.2" y1="1989.3" x2="886.4" y2="1989.3" stroke="#000" stroke-width="4" />
<line x1="871.5" y1="1985.0" x2="871.5" y2="1993.5" stroke="#111" stroke-width="2" />
<line x1="865.0" y1="1985.0" x2="878.0" y2="1985.0" stroke="#111" stroke-width="2" />
<line x1="865.0" y1="1993.5" x2="878.0" y2="1993.5" stroke="#111" stroke-width="2" />
<circle cx="916.8" cy="1798.0" r="6.3" fill="#8010F4" />
<circle cx="924.0" cy="1799.1" r="6.3" fill="#8010F4" />
<circle cx="920.8" cy="1802.1" r="6.3" fill="#8010F4" />
<circle cx="919.1" cy="1803.0" r="6.3" fill="#8010F4" />
<circle cx="908.5" cy="1805.7" r="6.3" fill="#8010F4" />
<circle cx="920.5" cy="1807.6" r="6.3" fill="#8010F4" />
<circle cx="916.4" cy="1809.9" r="6.3" fill="#8010F4" />
<circle cx="922.1" cy="1813.3" r="6.3" fill="#8010F4" />
<circle cx="914.8" cy="1815.6" r="6.3" fill="#8010F4" />
<circle cx="909.1" cy="1817.4" r="6.3" fill="#8010F4" />
<circle cx="922.6" cy="1818.1" r="6.3" fill="#8010F4" />
<circle cx="919.8" cy="1821.1" r="6.3" fill="#8010F4" />
<circle cx="924.0" cy="1822.5" r="6.3" fill="#8010F4" />
<circle cx="917.1" cy="1826.1" r="6.3" fill="#8010F4" />
<circle cx="918.7" cy="1827.0" r="6.3" fill="#8010F4" />
<circle cx="909.5" cy="1830.5" r="6.3" fill="#8010F4" />
<circle cx="916.0" cy="1832.8" r="6.3" fill="#8010F4" />
<circle cx="910.5" cy="1834.5" r="6.3" fill="#8010F4" />
<circle cx="921.6" cy="1836.9" r="6.3" fill="#8010F4" />
<circle cx="908.4" cy="1837.9" r="6.3" fill="#8010F4" />
<circle cx="909.0" cy="1840.8" r="6.3" fill="#8010F4" />
<circle cx="914.0" cy="1843.4" r="6.3" fill="#8010F4" />
<circle cx="914.3" cy="1845.2" r="6.3" fill="#8010F4" />
<circle cx="922.5" cy="1846.2" r="6.3" fill="#8010F4" />
<circle cx="917.3" cy="1849.8" r="6.3" fill="#8010F4" />
<circle cx="916.8" cy="1850.7" r="6.3" fill="#8010F4" />
<circle cx="912.5" cy="1853.8" r="6.3" fill="#8010F4" />
<circle cx="911.3" cy="1855.5" r="6.3" fill="#8010F4" />
<circle cx="917.3" cy="1857.6" r="6.3" fill="#8010F4" />
<circle cx="910.2" cy="1859.9" r="6.3" fill="#8010F4" />
<circle cx="923.3" cy="1861.3" r="6.3" fill="#8010F4" />
<circle cx="913.6" cy="1864.8" r="6.3" fill="#8010F4" />
<circle cx="917.7" cy="1865.5" r="6.3" fill="#8010F4" />
<circle cx="908.3" cy="1868.7" r="6.3" fill="#8010F4" />
<circle cx="913.9" cy="1870.2" r="6.3" fill="#8010F4" />
<circle cx="912.6" cy="1872.7" r="6.3" fill="#8010F4" />
<circle cx="920.2" cy="1874.2" r="6.3" fill="#8010F4" />
<circle cx="909.3" cy="1877.8" r="6.3" fill="#8010F4" />
<circle cx="923.2" cy="1877.9" r="6.3" fill="#8010F4" />
<circle cx="917.5" cy="1881.4" r="6.3" fill="#8010F4" />
<circle cx="914.8" cy="1883.7" r="6.3" fill="#8010F4" />
<circle cx="924.0" cy="1885.5" r="6.3" fill="#8010F4" />
<circle cx="914.6" cy="1886.8" r="6.3" fill="#8010F4" />
<circle cx="912.3" cy="1888.9" r="6.3" fill="#8010F4" />
<line x1="902.4" y1="1851.4" x2="932.5" y2="1851.4" stroke="#111" stroke-width="3.2" />
<line x1="917.0" y1="1844.8" x2="917.0" y2="1855.7" stroke="#111" stroke-width="2.2" />
<line x1="907.0" y1="1844.8" x2="927.0" y2="1844.8" stroke="#111" stroke-width="2.2" />
<line x1="907.0" y1="1855.7" x2="927.0" y2="1855.7" stroke="#111" stroke-width="2.2" />
<path d="M691.1,2076.3 L691.1,2066.0 L736.8,2066.0 L736.8,2076.3" fill="none" stroke="#111" stroke-width="2.6"/>
<text x="714.6" y="2052.8" font-size="34.5" text-anchor="middle" textLength="46.9" lengthAdjust="spacingAndGlyphs">n.s.</text>
<path d="M781.0,2019.8 L781.0,2009.5 L827.1,2009.5 L827.1,2019.8" fill="none" stroke="#111" stroke-width="2.6"/>
<text x="704.8" y="1987.8" font-size="31" textLength="148" lengthAdjust="spacingAndGlyphs"><tspan font-style="italic">p</tspan> = 0.0119</text>
<path d="M867.6,1782.7 L867.6,1772.3 L915.6,1772.3 L915.6,1782.7" fill="none" stroke="#111" stroke-width="2.6"/>
<text x="822.4" y="1761" font-size="31" textLength="146" lengthAdjust="spacingAndGlyphs"><tspan font-style="italic">p</tspan> &lt; 0.0001</text>
<text x="1281.2" y="1696.1" font-size="34" text-anchor="middle" textLength="183.2" lengthAdjust="spacingAndGlyphs">PPP1R15A</text>
<text x="1083.5" y="1922.0" font-size="34" text-anchor="middle" textLength="379.2" lengthAdjust="spacingAndGlyphs" transform="rotate(-90 1083.5 1922.0)">Relative mRNA Expression</text>
<line x1="1144.4" y1="1719.0" x2="1144.4" y2="2115.4" stroke="#000" stroke-width="5.5" />
<line x1="1125.2" y1="2112.7" x2="1415.0" y2="2112.7" stroke="#000" stroke-width="6.0" />
<line x1="1128.4" y1="2112.7" x2="1144.4" y2="2112.7" stroke="#000" stroke-width="5.5" />
<text x="1124.0" y="2123.1" font-size="29" text-anchor="end">0</text>
<line x1="1128.4" y1="1982.3" x2="1144.4" y2="1982.3" stroke="#000" stroke-width="5.5" />
<text x="1124.0" y="1992.7" font-size="29" text-anchor="end">2</text>
<line x1="1128.4" y1="1851.9" x2="1144.4" y2="1851.9" stroke="#000" stroke-width="5.5" />
<text x="1124.0" y="1862.3" font-size="29" text-anchor="end">4</text>
<line x1="1128.4" y1="1721.5" x2="1144.4" y2="1721.5" stroke="#000" stroke-width="5.5" />
<text x="1124.0" y="1731.9" font-size="29" text-anchor="end">6</text>
<line x1="1166.2" y1="2112.7" x2="1166.2" y2="2131.7" stroke="#000" stroke-width="5.5" />
<line x1="1212.3" y1="2112.7" x2="1212.3" y2="2131.7" stroke="#000" stroke-width="5.5" />
<line x1="1257.6" y1="2112.7" x2="1257.6" y2="2131.7" stroke="#000" stroke-width="5.5" />
<line x1="1303.0" y1="2112.7" x2="1303.0" y2="2131.7" stroke="#000" stroke-width="5.5" />
<line x1="1348.3" y1="2112.7" x2="1348.3" y2="2131.7" stroke="#000" stroke-width="5.5" />
<line x1="1393.0" y1="2112.7" x2="1393.0" y2="2131.7" stroke="#000" stroke-width="5.5" />
<text x="1173.2" y="2154.0" font-size="28.5" text-anchor="end" transform="rotate(-45 1173.2 2154.0)">Parental DMSO</text>
<text x="1219.3" y="2154.0" font-size="28.5" text-anchor="end" transform="rotate(-45 1219.3 2154.0)">Parental IAA&amp;Dox</text>
<text x="1264.6" y="2154.0" font-size="28.5" text-anchor="end" transform="rotate(-45 1264.6 2154.0)">Ku80-AID DMSO</text>
<text x="1310.0" y="2154.0" font-size="28.5" text-anchor="end" transform="rotate(-45 1310.0 2154.0)">Ku80-AID IAA&amp;Dox</text>
<text x="1355.3" y="2154.0" font-size="28.5" text-anchor="end" transform="rotate(-45 1355.3 2154.0)">HEK293 +Dox</text>
<text x="1400.0" y="2154.0" font-size="28.5" text-anchor="end" transform="rotate(-45 1400.0 2154.0)">HEK293 −Dox</text>
<circle cx="1160.7" cy="2076.7" r="5.6" fill="none" stroke="#111" stroke-width="1.8" />
<circle cx="1169.4" cy="2077.0" r="5.6" fill="none" stroke="#111" stroke-width="1.8" />
<circle cx="1161.7" cy="2077.4" r="5.6" fill="none" stroke="#111" stroke-width="1.8" />
<circle cx="1172.6" cy="2077.6" r="5.6" fill="none" stroke="#111" stroke-width="1.8" />
<circle cx="1167.0" cy="2077.8" r="5.6" fill="none" stroke="#111" stroke-width="1.8" />
<circle cx="1157.8" cy="2078.1" r="5.6" fill="none" stroke="#111" stroke-width="1.8" />
<circle cx="1168.5" cy="2078.4" r="5.6" fill="none" stroke="#111" stroke-width="1.8" />
<circle cx="1172.3" cy="2078.7" r="5.6" fill="none" stroke="#111" stroke-width="1.8" />
<circle cx="1162.0" cy="2079.0" r="5.6" fill="none" stroke="#111" stroke-width="1.8" />
<circle cx="1176.1" cy="2079.5" r="5.6" fill="none" stroke="#111" stroke-width="1.8" />
<circle cx="1173.8" cy="2079.8" r="5.6" fill="none" stroke="#111" stroke-width="1.8" />
<circle cx="1158.3" cy="2080.0" r="5.6" fill="none" stroke="#111" stroke-width="1.8" />
<circle cx="1166.9" cy="2080.2" r="5.6" fill="none" stroke="#111" stroke-width="1.8" />
<circle cx="1175.2" cy="2080.6" r="5.6" fill="none" stroke="#111" stroke-width="1.8" />
<circle cx="1159.3" cy="2076.8" r="5.6" fill="none" stroke="#222" stroke-width="1.8" />
<circle cx="1165.0" cy="2077.5" r="5.6" fill="none" stroke="#222" stroke-width="1.8" />
<circle cx="1169.0" cy="2077.9" r="5.6" fill="none" stroke="#222" stroke-width="1.8" />
<circle cx="1175.0" cy="2078.3" r="5.6" fill="none" stroke="#222" stroke-width="1.8" />
<circle cx="1173.3" cy="2078.9" r="5.6" fill="none" stroke="#222" stroke-width="1.8" />
<circle cx="1170.1" cy="2079.7" r="5.6" fill="none" stroke="#222" stroke-width="1.8" />
<circle cx="1172.5" cy="2080.1" r="5.6" fill="none" stroke="#222" stroke-width="1.8" />
<circle cx="1172.5" cy="2080.3" r="5.6" fill="none" stroke="#222" stroke-width="1.8" />
<circle cx="1220.4" cy="2071.6" r="6.5" fill="#000" />
<circle cx="1204.7" cy="2072.5" r="6.5" fill="#000" />
<circle cx="1207.4" cy="2072.6" r="6.5" fill="#000" />
<circle cx="1215.2" cy="2073.2" r="6.5" fill="#000" />
<circle cx="1219.2" cy="2073.7" r="6.5" fill="#000" />
<circle cx="1220.4" cy="2074.2" r="6.5" fill="#000" />
<circle cx="1214.4" cy="2075.1" r="6.5" fill="#000" />
<circle cx="1215.8" cy="2075.6" r="6.5" fill="#000" />
<circle cx="1216.2" cy="2075.7" r="6.5" fill="#000" />
<circle cx="1219.1" cy="2076.5" r="6.5" fill="#000" />
<circle cx="1209.5" cy="2076.8" r="6.5" fill="#000" />
<circle cx="1218.6" cy="2077.5" r="6.5" fill="#000" />
<circle cx="1265.9" cy="2088.8" r="5.6" fill="none" stroke="#0A1AF2" stroke-width="1.8" />
<circle cx="1265.3" cy="2088.9" r="5.6" fill="none" stroke="#0A1AF2" stroke-width="1.8" />
<circle cx="1259.8" cy="2089.1" r="5.6" fill="none" stroke="#0A1AF2" stroke-width="1.8" />
<circle cx="1258.7" cy="2089.2" r="5.6" fill="none" stroke="#0A1AF2" stroke-width="1.8" />
<circle cx="1252.4" cy="2089.4" r="5.6" fill="none" stroke="#0A1AF2" stroke-width="1.8" />
<circle cx="1253.0" cy="2089.6" r="5.6" fill="none" stroke="#0A1AF2" stroke-width="1.8" />
<circle cx="1249.4" cy="2089.7" r="5.6" fill="none" stroke="#0A1AF2" stroke-width="1.8" />
<circle cx="1262.0" cy="2089.9" r="5.6" fill="none" stroke="#0A1AF2" stroke-width="1.8" />
<circle cx="1258.3" cy="2090.1" r="5.6" fill="none" stroke="#0A1AF2" stroke-width="1.8" />
<circle cx="1255.5" cy="2090.1" r="5.6" fill="none" stroke="#0A1AF2" stroke-width="1.8" />
<circle cx="1263.3" cy="2090.4" r="5.6" fill="none" stroke="#0A1AF2" stroke-width="1.8" />
<circle cx="1261.0" cy="2090.5" r="5.6" fill="none" stroke="#0A1AF2" stroke-width="1.8" />
<circle cx="1266.8" cy="2090.6" r="5.6" fill="none" stroke="#0A1AF2" stroke-width="1.8" />
<circle cx="1262.9" cy="2090.8" r="5.6" fill="none" stroke="#0A1AF2" stroke-width="1.8" />
<line x1="1244.0" y1="2089.7" x2="1272.0" y2="2089.7" stroke="#000" stroke-width="4" />
<circle cx="1303.0" cy="1933.5" r="6.4" fill="#0A1AF2" />
<circle cx="1300.0" cy="1940.0" r="6.4" fill="#0A1AF2" />
<circle cx="1306.0" cy="1942.0" r="6.4" fill="#0A1AF2" />
<circle cx="1296.0" cy="1948.0" r="6.4" fill="#0A1AF2" />
<circle cx="1310.0" cy="1948.0" r="6.4" fill="#0A1AF2" />
<circle cx="1292.0" cy="1955.0" r="6.4" fill="#0A1AF2" />
<circle cx="1303.0" cy="1954.0" r="6.4" fill="#0A1AF2" />
<circle cx="1314.0" cy="1955.0" r="6.4" fill="#0A1AF2" />
<circle cx="1298.0" cy="1952.0" r="6.4" fill="#0A1AF2" />
<circle cx="1308.0" cy="1950.0" r="6.4" fill="#0A1AF2" />
<line x1="1288.0" y1="1945.7" x2="1318.4" y2="1945.7" stroke="#000" stroke-width="4" />
<circle cx="1346.5" cy="1981.6" r="6.1" fill="none" stroke="#9A40F0" stroke-width="1.8" />
<circle cx="1355.1" cy="1982.0" r="6.1" fill="none" stroke="#9A40F0" stroke-width="1.8" />
<circle cx="1355.6" cy="1983.7" r="6.1" fill="none" stroke="#9A40F0" stroke-width="1.8" />
<circle cx="1340.4" cy="1985.3" r="6.1" fill="none" stroke="#9A40F0" stroke-width="1.8" />
<circle cx="1344.3" cy="1985.7" r="6.1" fill="none" stroke="#9A40F0" stroke-width="1.8" />
<circle cx="1347.4" cy="1987.3" r="6.1" fill="none" stroke="#9A40F0" stroke-width="1.8" />
<circle cx="1341.9" cy="1988.6" r="6.1" fill="none" stroke="#9A40F0" stroke-width="1.8" />
<circle cx="1354.9" cy="1989.6" r="6.1" fill="none" stroke="#9A40F0" stroke-width="1.8" />
<circle cx="1354.2" cy="1991.0" r="6.1" fill="none" stroke="#9A40F0" stroke-width="1.8" />
<circle cx="1354.8" cy="1991.6" r="6.1" fill="none" stroke="#9A40F0" stroke-width="1.8" />
<circle cx="1346.2" cy="1993.2" r="6.1" fill="none" stroke="#9A40F0" stroke-width="1.8" />
<circle cx="1341.5" cy="1995.0" r="6.1" fill="none" stroke="#9A40F0" stroke-width="1.8" />
<circle cx="1351.3" cy="1995.2" r="6.1" fill="none" stroke="#9A40F0" stroke-width="1.8" />
<circle cx="1350.3" cy="1996.8" r="6.1" fill="none" stroke="#9A40F0" stroke-width="1.8" />
<circle cx="1343.1" cy="1997.7" r="6.1" fill="none" stroke="#9A40F0" stroke-width="1.8" />
<circle cx="1348.1" cy="1998.8" r="6.1" fill="none" stroke="#9A40F0" stroke-width="1.8" />
<circle cx="1350.0" cy="2000.5" r="6.1" fill="none" stroke="#9A40F0" stroke-width="1.8" />
<circle cx="1341.9" cy="2002.2" r="6.1" fill="none" stroke="#9A40F0" stroke-width="1.8" />
<circle cx="1340.3" cy="2002.5" r="6.1" fill="none" stroke="#9A40F0" stroke-width="1.8" />
<circle cx="1354.6" cy="2003.8" r="6.1" fill="none" stroke="#9A40F0" stroke-width="1.8" />
<circle cx="1347.4" cy="2005.4" r="6.1" fill="none" stroke="#9A40F0" stroke-width="1.8" />
<circle cx="1347.6" cy="2006.6" r="6.1" fill="none" stroke="#9A40F0" stroke-width="1.8" />
<circle cx="1348.9" cy="2007.8" r="6.1" fill="none" stroke="#9A40F0" stroke-width="1.8" />
<circle cx="1340.7" cy="2009.4" r="6.1" fill="none" stroke="#9A40F0" stroke-width="1.8" />
<circle cx="1344.8" cy="2009.7" r="6.1" fill="none" stroke="#9A40F0" stroke-width="1.8" />
<circle cx="1347.1" cy="2011.8" r="6.1" fill="none" stroke="#9A40F0" stroke-width="1.8" />
<circle cx="1351.2" cy="2012.6" r="6.1" fill="none" stroke="#9A40F0" stroke-width="1.8" />
<circle cx="1348.4" cy="2013.5" r="6.1" fill="none" stroke="#9A40F0" stroke-width="1.8" />
<circle cx="1351.0" cy="2014.9" r="6.1" fill="none" stroke="#9A40F0" stroke-width="1.8" />
<circle cx="1340.8" cy="2015.8" r="6.1" fill="none" stroke="#9A40F0" stroke-width="1.8" />
<circle cx="1341.3" cy="2017.7" r="6.1" fill="none" stroke="#9A40F0" stroke-width="1.8" />
<circle cx="1355.8" cy="2019.0" r="6.1" fill="none" stroke="#9A40F0" stroke-width="1.8" />
<circle cx="1343.6" cy="2019.5" r="6.1" fill="none" stroke="#9A40F0" stroke-width="1.8" />
<circle cx="1357.1" cy="2021.0" r="6.1" fill="none" stroke="#9A40F0" stroke-width="1.8" />
<circle cx="1342.7" cy="2022.4" r="6.1" fill="none" stroke="#9A40F0" stroke-width="1.8" />
<circle cx="1351.0" cy="2023.6" r="6.1" fill="none" stroke="#9A40F0" stroke-width="1.8" />
<circle cx="1347.9" cy="2024.5" r="6.1" fill="none" stroke="#9A40F0" stroke-width="1.8" />
<circle cx="1348.7" cy="2025.9" r="6.1" fill="none" stroke="#9A40F0" stroke-width="1.8" />
<circle cx="1352.1" cy="2027.1" r="6.1" fill="none" stroke="#9A40F0" stroke-width="1.8" />
<circle cx="1346.1" cy="2029.0" r="6.1" fill="none" stroke="#9A40F0" stroke-width="1.8" />
<line x1="1333.0" y1="2001.7" x2="1364.0" y2="2001.7" stroke="#000" stroke-width="4" />
<circle cx="1393.9" cy="1766.5" r="5.8" fill="#8010F4" />
<circle cx="1388.4" cy="1790.4" r="5.8" fill="#8010F4" />
<circle cx="1398.5" cy="1791.3" r="5.8" fill="#8010F4" />
<circle cx="1393.0" cy="1797.7" r="5.8" fill="#8010F4" />
<circle cx="1394.9" cy="1802.2" r="5.8" fill="#8010F4" />
<circle cx="1389.0" cy="1797.0" r="5.8" fill="#8010F4" />
<circle cx="1398.0" cy="1799.0" r="5.8" fill="#8010F4" />
<circle cx="1384.8" cy="1820.6" r="5.8" fill="#8010F4" />
<circle cx="1395.8" cy="1819.7" r="5.8" fill="#8010F4" />
<circle cx="1402.5" cy="1823.4" r="5.8" fill="#8010F4" />
<circle cx="1389.4" cy="1829.7" r="5.8" fill="#8010F4" />
<circle cx="1398.5" cy="1831.6" r="5.8" fill="#8010F4" />
<circle cx="1390.3" cy="1834.3" r="5.8" fill="#8010F4" />
<circle cx="1394.0" cy="1826.0" r="5.8" fill="#8010F4" />
<circle cx="1391.2" cy="1844.5" r="5.8" fill="#8010F4" />
<circle cx="1396.7" cy="1850.9" r="5.8" fill="#8010F4" />
<circle cx="1387.5" cy="1872.9" r="5.8" fill="#8010F4" />
<circle cx="1400.4" cy="1869.3" r="5.8" fill="#8010F4" />
<circle cx="1387.5" cy="1882.1" r="5.8" fill="#8010F4" />
<circle cx="1400.4" cy="1880.3" r="5.8" fill="#8010F4" />
<circle cx="1393.9" cy="1891.3" r="5.8" fill="#8010F4" />
<circle cx="1394.0" cy="1877.0" r="5.8" fill="#8010F4" />
<circle cx="1397.0" cy="1887.0" r="5.8" fill="#8010F4" />
<circle cx="1389.0" cy="1889.0" r="5.8" fill="#8010F4" />
<circle cx="1393.9" cy="1905.0" r="5.8" fill="#8010F4" />
<circle cx="1393.9" cy="1925.2" r="5.8" fill="#8010F4" />
<line x1="1379.3" y1="1847.7" x2="1407.7" y2="1847.7" stroke="#111" stroke-width="3.4" />
<line x1="1392.6" y1="1839.2" x2="1392.6" y2="1856.4" stroke="#111" stroke-width="2.4" />
<line x1="1386.1" y1="1839.2" x2="1400.8" y2="1839.2" stroke="#111" stroke-width="2.4" />
<line x1="1386.1" y1="1856.4" x2="1400.8" y2="1856.4" stroke="#111" stroke-width="2.4" />
<path d="M1165.3,2050.8 L1165.3,2040.6 L1212.0,2040.6 L1212.0,2050.8" fill="none" stroke="#111" stroke-width="2.6"/>
<text x="1190.2" y="2027.5" font-size="33" text-anchor="middle" textLength="49.7" lengthAdjust="spacingAndGlyphs">n.s.</text>
<path d="M1258.0,1909.9 L1258.0,1900.7 L1304.2,1900.7 L1304.2,1909.9" fill="none" stroke="#111" stroke-width="2.6"/>
<text x="1281.2" y="1896.0" font-size="27" font-weight="bold" text-anchor="middle" textLength="53.3" lengthAdjust="spacingAndGlyphs">****</text>
<path d="M1348.4,1751.7 L1348.4,1741.6 L1393.9,1741.6 L1393.9,1751.7" fill="none" stroke="#111" stroke-width="2.6"/>
<text x="1371.6" y="1735.0" font-size="27" font-weight="bold" text-anchor="middle" textLength="51.7" lengthAdjust="spacingAndGlyphs">****</text>
<circle cx="1619.0" cy="1666.4" r="6.3" fill="none" stroke="#555555" stroke-width="1.8" />
<text x="1674.2" y="1676.2" font-size="30" textLength="87.0" lengthAdjust="spacingAndGlyphs">DMSO</text>
<circle cx="1619.0" cy="1701.6" r="6.3" fill="none" stroke="#5560F0" stroke-width="1.8" />
<text x="1674.2" y="1711.4" font-size="30" textLength="117.2" lengthAdjust="spacingAndGlyphs">IAA&amp;Dox</text>
<text x="1532.4" y="1921.2" font-size="34" text-anchor="middle" textLength="130.6" lengthAdjust="spacingAndGlyphs" transform="rotate(-90 1532.4 1921.2)">p50/p105</text>
<line x1="1595.4" y1="1718.0" x2="1595.4" y2="2115.0" stroke="#000" stroke-width="5.2" />
<line x1="1575.0" y1="2112.8" x2="1957.3" y2="2112.8" stroke="#000" stroke-width="5.5" />
<line x1="1578.0" y1="2112.8" x2="1595.4" y2="2112.8" stroke="#000" stroke-width="4.5" />
<text x="1570.2" y="2123.1" font-size="31" text-anchor="end">0</text>
<line x1="1578.0" y1="1981.8" x2="1595.4" y2="1981.8" stroke="#000" stroke-width="4.5" />
<text x="1570.2" y="1992.1" font-size="31" text-anchor="end">1</text>
<line x1="1578.0" y1="1850.8" x2="1595.4" y2="1850.8" stroke="#000" stroke-width="4.5" />
<text x="1570.2" y="1861.1" font-size="31" text-anchor="end">2</text>
<line x1="1578.0" y1="1719.8" x2="1595.4" y2="1719.8" stroke="#000" stroke-width="4.5" />
<text x="1570.2" y="1730.1" font-size="31" text-anchor="end">3</text>
<line x1="1661.5" y1="2112.8" x2="1661.5" y2="2133.5" stroke="#000" stroke-width="5.2" />
<line x1="1776.5" y1="2112.8" x2="1776.5" y2="2133.5" stroke="#000" stroke-width="5.2" />
<line x1="1891.2" y1="2112.8" x2="1891.2" y2="2133.5" stroke="#000" stroke-width="5.2" />
<text x="1667.5" y="2152.0" font-size="28.5" text-anchor="end" transform="rotate(-45 1667.5 2152.0)">Parental</text>
<text x="1782.5" y="2152.0" font-size="28.5" text-anchor="end" transform="rotate(-45 1782.5 2152.0)">Ku80-AID</text>
<text x="1897.2" y="2152.0" font-size="28.5" text-anchor="end" transform="rotate(-45 1897.2 2152.0)">LIG4-AID</text>
<path d="M1618.6,2112.8 L1618.6,1987.8 L1655.8,1987.8 L1655.8,2112.8" fill="none" stroke="#000" stroke-width="5.2"/>
<path d="M1666.5,2112.8 L1666.5,1978.7 L1703.7,1978.7 L1703.7,2112.8" fill="none" stroke="#0A10EE" stroke-width="5.2"/>
<path d="M1734.2,2112.8 L1734.2,1997.8 L1771.5,1997.8 L1771.5,2112.8" fill="none" stroke="#000" stroke-width="5.2"/>
<path d="M1781.1,2112.8 L1781.1,1905.3 L1818.7,1905.3 L1818.7,2112.8" fill="none" stroke="#0A10EE" stroke-width="5.2"/>
<path d="M1848.9,2112.8 L1848.9,1953.5 L1886.1,1953.5 L1886.1,2112.8" fill="none" stroke="#000" stroke-width="5.2"/>
<path d="M1896.1,2112.8 L1896.1,1922.4 L1933.0,1922.4 L1933.0,2112.8" fill="none" stroke="#0A10EE" stroke-width="5.2"/>
<circle cx="1623.1" cy="1968.2" r="6.8" fill="none" stroke="#666" stroke-width="1.7" />
<circle cx="1652.3" cy="1973.2" r="6.8" fill="none" stroke="#666" stroke-width="1.7" />
<circle cx="1623.1" cy="1982.2" r="6.8" fill="none" stroke="#666" stroke-width="1.7" />
<circle cx="1641.2" cy="1993.3" r="6.8" fill="none" stroke="#666" stroke-width="1.7" />
<circle cx="1623.1" cy="2000.3" r="6.8" fill="none" stroke="#666" stroke-width="1.7" />
<circle cx="1636.0" cy="1985.0" r="6.8" fill="none" stroke="#666" stroke-width="1.7" />
<circle cx="1671.4" cy="1962.1" r="6.8" fill="none" stroke="#5560F0" stroke-width="1.7" />
<circle cx="1685.5" cy="1959.1" r="6.8" fill="none" stroke="#5560F0" stroke-width="1.7" />
<circle cx="1699.6" cy="1963.1" r="6.8" fill="none" stroke="#5560F0" stroke-width="1.7" />
<circle cx="1671.4" cy="1979.2" r="6.8" fill="none" stroke="#5560F0" stroke-width="1.7" />
<circle cx="1699.6" cy="1985.3" r="6.8" fill="none" stroke="#5560F0" stroke-width="1.7" />
<circle cx="1671.4" cy="1994.3" r="6.8" fill="none" stroke="#5560F0" stroke-width="1.7" />
<circle cx="1685.5" cy="1982.0" r="6.8" fill="none" stroke="#5560F0" stroke-width="1.7" />
<circle cx="1738.8" cy="1975.2" r="6.8" fill="none" stroke="#666" stroke-width="1.7" />
<circle cx="1759.9" cy="1982.2" r="6.8" fill="none" stroke="#666" stroke-width="1.7" />
<circle cx="1738.8" cy="1991.3" r="6.8" fill="none" stroke="#666" stroke-width="1.7" />
<circle cx="1767.0" cy="1994.3" r="6.8" fill="none" stroke="#666" stroke-width="1.7" />
<circle cx="1759.9" cy="2006.4" r="6.8" fill="none" stroke="#666" stroke-width="1.7" />
<circle cx="1745.8" cy="2015.4" r="6.8" fill="none" stroke="#666" stroke-width="1.7" />
<circle cx="1752.0" cy="1998.0" r="6.8" fill="none" stroke="#666" stroke-width="1.7" />
<circle cx="1800.5" cy="1789.2" r="6.8" fill="none" stroke="#5560F0" stroke-width="1.7" />
<circle cx="1786.0" cy="1881.7" r="6.8" fill="none" stroke="#5560F0" stroke-width="1.7" />
<circle cx="1814.2" cy="1874.6" r="6.8" fill="none" stroke="#5560F0" stroke-width="1.7" />
<circle cx="1800.1" cy="1900.8" r="6.8" fill="none" stroke="#5560F0" stroke-width="1.7" />
<circle cx="1813.6" cy="1915.9" r="6.8" fill="none" stroke="#5560F0" stroke-width="1.7" />
<circle cx="1786.0" cy="1929.0" r="6.8" fill="none" stroke="#5560F0" stroke-width="1.7" />
<circle cx="1813.6" cy="1940.0" r="6.8" fill="none" stroke="#5560F0" stroke-width="1.7" />
<circle cx="1800.1" cy="1981.2" r="6.8" fill="none" stroke="#5560F0" stroke-width="1.7" />
<circle cx="1853.8" cy="1936.0" r="6.8" fill="none" stroke="#666" stroke-width="1.7" />
<circle cx="1881.6" cy="1940.0" r="6.8" fill="none" stroke="#666" stroke-width="1.7" />
<circle cx="1867.5" cy="1977.2" r="6.8" fill="none" stroke="#666" stroke-width="1.7" />
<circle cx="1914.8" cy="1894.8" r="6.8" fill="none" stroke="#5560F0" stroke-width="1.7" />
<circle cx="1914.8" cy="1912.9" r="6.8" fill="none" stroke="#5560F0" stroke-width="1.7" />
<circle cx="1914.8" cy="1952.1" r="6.8" fill="none" stroke="#5560F0" stroke-width="1.7" />
<line x1="1637.6" y1="1972.8" x2="1637.6" y2="1994.9" stroke="#111" stroke-width="2.4" />
<line x1="1627.2" y1="1972.8" x2="1648.3" y2="1972.8" stroke="#111" stroke-width="2.4" />
<line x1="1627.2" y1="1994.9" x2="1648.3" y2="1994.9" stroke="#111" stroke-width="2.4" />
<line x1="1685.5" y1="1962.1" x2="1685.5" y2="1989.3" stroke="#0A10EE" stroke-width="2.4" />
<line x1="1675.0" y1="1962.1" x2="1696.0" y2="1962.1" stroke="#0A10EE" stroke-width="2.4" />
<line x1="1675.0" y1="1989.3" x2="1696.0" y2="1989.3" stroke="#0A10EE" stroke-width="2.4" />
<line x1="1753.3" y1="1983.3" x2="1753.3" y2="2007.0" stroke="#111" stroke-width="2.4" />
<line x1="1743.0" y1="1983.3" x2="1764.0" y2="1983.3" stroke="#111" stroke-width="2.4" />
<line x1="1743.0" y1="2007.0" x2="1764.0" y2="2007.0" stroke="#111" stroke-width="2.4" />
<line x1="1800.5" y1="1845.5" x2="1800.5" y2="1959.1" stroke="#0A10EE" stroke-width="2.4" />
<line x1="1789.0" y1="1845.5" x2="1812.2" y2="1845.5" stroke="#0A10EE" stroke-width="2.4" />
<line x1="1789.0" y1="1959.1" x2="1812.2" y2="1959.1" stroke="#0A10EE" stroke-width="2.4" />
<line x1="1867.5" y1="1928.0" x2="1867.5" y2="1972.8" stroke="#111" stroke-width="2.4" />
<line x1="1855.8" y1="1928.0" x2="1878.6" y2="1928.0" stroke="#111" stroke-width="2.4" />
<line x1="1855.8" y1="1972.8" x2="1878.6" y2="1972.8" stroke="#111" stroke-width="2.4" />
<line x1="1914.8" y1="1890.7" x2="1914.8" y2="1948.7" stroke="#0A10EE" stroke-width="2.4" />
<line x1="1903.7" y1="1890.7" x2="1924.8" y2="1890.7" stroke="#0A10EE" stroke-width="2.4" />
<line x1="1903.7" y1="1948.7" x2="1924.8" y2="1948.7" stroke="#0A10EE" stroke-width="2.4" />
<path d="M1637.2,1938.0 L1637.2,1929.0 L1684.9,1929.0 L1684.9,1938.0" fill="none" stroke="#111" stroke-width="2.6"/>
<text x="1661.1" y="1903.7" font-size="38.5" text-anchor="middle" textLength="58.5" lengthAdjust="spacingAndGlyphs">n.s.</text>
<path d="M1867.1,1879.7 L1867.1,1871.0 L1914.8,1871.0 L1914.8,1879.7" fill="none" stroke="#111" stroke-width="2.6"/>
<text x="1890.5" y="1845.5" font-size="38.5" text-anchor="middle" textLength="58.7" lengthAdjust="spacingAndGlyphs">n.s.</text>
<path d="M1754.5,1772.5 L1754.5,1764.0 L1802.1,1764.0 L1802.1,1772.5" fill="none" stroke="#111" stroke-width="2.6"/>
<text x="1778.4" y="1746.0" font-size="27" font-weight="bold" text-anchor="middle" textLength="24.0" lengthAdjust="spacingAndGlyphs">**</text>
</svg>
</body></html>
